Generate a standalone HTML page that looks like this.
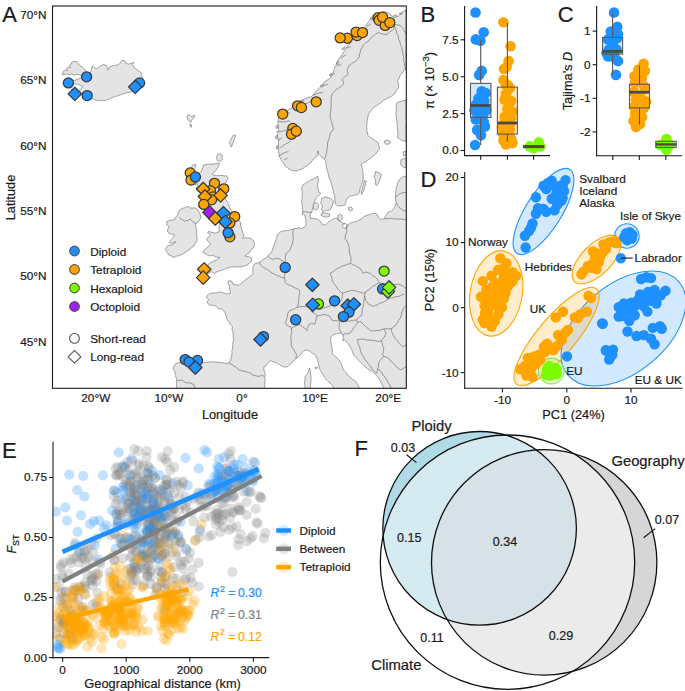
<!DOCTYPE html>
<html><head><meta charset="utf-8"><style>
html,body{margin:0;padding:0;background:#fff;width:685px;height:691px;overflow:hidden}
svg{display:block}
text{font-family:"Liberation Sans", sans-serif}
</style></head><body>
<svg width="685" height="691" viewBox="0 0 685 691">
<rect width="685" height="691" fill="#fff"/>
<clipPath id="mapclip"><rect x="52.5" y="6" width="353.8" height="382.3"/></clipPath>
<g clip-path="url(#mapclip)">
<polygon points="62.0,74.8 62.8,73.0 63.4,71.2 65.4,70.1 67.6,70.4 66.5,68.5 68.1,67.2 70.5,67.8 69.4,65.4 71.4,64.1 71.8,62.1 74.1,61.4 76.8,61.7 78.2,64.1 80.8,66.1 82.9,67.4 84.9,69.4 85.5,71.4 86.2,73.5 87.8,74.3 89.6,74.8 90.4,72.9 91.1,70.9 91.6,68.8 92.0,66.8 93.6,66.1 94.7,67.7 96.3,68.8 99.0,66.8 101.7,65.4 103.7,64.5 106.4,65.4 107.4,67.7 107.7,70.1 108.7,68.4 109.7,66.8 112.4,65.8 115.8,65.4 119.1,64.1 120.7,62.6 121.8,60.7 124.5,60.4 125.8,63.4 128.5,64.1 131.2,63.4 133.9,62.3 132.6,64.7 133.9,67.4 136.6,69.4 139.3,71.4 141.3,72.8 141.5,74.8 142.0,76.8 142.4,79.2 143.3,81.5 142.9,83.9 142.0,86.2 140.0,87.9 137.9,89.6 136.0,90.8 133.9,91.6 131.9,91.9 129.9,92.3 127.8,92.5 125.8,92.9 123.9,93.9 121.8,94.3 119.9,95.1 117.8,95.6 115.9,96.4 113.8,97.0 111.6,97.7 109.7,99.0 107.6,99.5 105.7,100.3 103.7,100.7 101.7,100.7 99.9,100.4 98.1,100.7 96.3,100.3 94.6,99.6 92.9,99.0 89.6,97.6 87.8,97.2 86.2,96.3 82.9,95.6 80.8,93.0 79.5,90.3 81.5,88.2 82.9,86.2 80.8,85.6 78.8,84.2 76.4,84.3 74.0,83.8 72.0,83.4 70.0,83.6 67.0,83.0 67.5,81.5 71.0,80.8 73.0,80.3 75.0,80.3 78.2,79.0 80.8,77.5 82.2,76.2 79.5,74.8 76.1,74.3 73.5,75.2 72.1,73.9 69.5,74.6 68.1,74.1 66.1,74.3 64.1,74.1" fill="#e4e4e4" stroke="#606060" stroke-width="0.55" stroke-linejoin="round"/>
<polygon points="187.0,116.0 189.5,114.8 191.5,116.5 194.5,115.2 194.0,118.0 191.5,120.0 190.8,122.5 189.0,121.0 187.5,119.0" fill="#e4e4e4" stroke="#606060" stroke-width="0.55" stroke-linejoin="round"/>
<polygon points="190.0,124.0 191.5,125.0 191.2,127.5 190.0,126.5" fill="#e4e4e4" stroke="#606060" stroke-width="0.55" stroke-linejoin="round"/>
<polygon points="233.5,134.8 235.8,135.5 234.6,138.0 233.7,141.0 232.5,144.0 231.5,147.2 230.4,146.0 230.2,144.1 229.3,142.5 230.5,140.0 231.8,137.5" fill="#e4e4e4" stroke="#606060" stroke-width="0.55" stroke-linejoin="round"/>
<polygon points="217.5,154.5 220.0,153.8 222.8,155.5 221.7,157.5 222.5,159.5 220.0,161.5 217.3,160.5 216.5,157.5" fill="#e4e4e4" stroke="#606060" stroke-width="0.55" stroke-linejoin="round"/>
<polygon points="193.5,164.5 196.2,164.8 195.0,167.5 193.8,168.9 193.0,170.5 190.5,171.5 190.0,169.0 191.5,167.0" fill="#e4e4e4" stroke="#606060" stroke-width="0.55" stroke-linejoin="round"/>
<polygon points="192.5,180.5 195.5,179.0 197.5,181.5 196.0,184.5 193.0,184.5 191.5,182.5" fill="#e4e4e4" stroke="#606060" stroke-width="0.55" stroke-linejoin="round"/>
<polygon points="177.5,214.8 178.4,212.3 179.6,210.0 182.3,208.3 184.2,208.0 185.8,207.0 188.4,206.5 191.0,208.3 194.5,207.8 197.2,209.1 198.9,211.8 200.2,214.4 200.7,217.9 199.8,219.6 198.9,221.4 196.3,223.2 195.4,224.9 195.7,226.7 196.3,228.4 196.7,230.6 196.7,232.8 196.6,235.0 197.2,237.2 196.8,239.5 196.7,241.8 194.9,243.8 193.7,246.2 192.1,247.1 190.9,248.5 189.4,249.6 187.9,250.6 186.2,251.9 184.4,253.0 182.6,254.2 180.6,255.0 178.8,255.7 176.9,256.0 175.2,257.0 173.3,257.2 171.2,256.0 168.9,255.0 167.4,252.9 166.0,250.6 165.6,248.6 167.4,245.9 169.6,245.3 171.8,245.0 173.4,244.0 174.7,242.7 176.1,241.5 174.0,242.5 171.8,243.3 169.1,242.4 170.9,239.8 172.2,238.5 173.5,237.2 174.4,234.5 171.8,234.0 169.1,233.7 167.4,231.0 168.0,228.7 169.1,226.7 166.5,224.9 166.9,221.4 170.0,220.1 172.2,220.2 174.4,219.6 175.2,217.8 176.6,216.5" fill="#e4e4e4" stroke="#606060" stroke-width="0.55" stroke-linejoin="round"/>
<polygon points="203.6,164.8 205.7,164.8 207.6,164.1 209.7,164.2 212.3,164.2 214.8,163.7 217.0,163.4 219.3,163.2 218.5,166.5 217.5,168.0 216.5,169.5 215.2,171.2 213.5,172.5 212.0,174.0 214.0,175.5 217.1,175.7 219.0,175.3 221.0,175.4 222.9,175.6 224.7,176.0 226.6,175.7 228.0,178.3 226.5,180.8 225.8,182.9 224.4,185.5 223.3,188.7 222.2,192.0 222.2,194.2 219.5,196.0 217.8,198.6 220.3,198.0 222.9,197.9 225.8,199.2 226.6,200.9 227.6,202.6 228.8,204.0 229.1,205.8 229.6,207.6 230.6,209.2 231.0,211.0 232.8,211.9 234.6,213.0 235.7,215.3 236.8,217.5 237.9,219.3 239.5,220.8 240.5,222.7 240.7,226.0 241.9,229.3 242.4,231.3 243.0,233.2 243.8,235.1 242.7,238.4 244.9,237.7 247.5,238.0 250.7,238.0 252.0,239.5 253.6,240.7 254.3,243.8 254.3,245.8 253.6,247.7 251.9,249.0 250.7,250.8 249.6,252.4 248.0,253.5 246.5,254.9 244.9,256.2 246.9,256.6 249.0,256.8 251.8,258.4 251.1,261.7 249.5,262.8 248.3,264.4 246.6,265.2 244.7,265.6 243.0,266.6 241.0,266.7 239.0,266.9 237.2,267.0 235.4,266.8 233.5,266.9 231.7,266.7 229.6,267.5 227.3,267.8 225.4,269.0 223.3,269.6 221.0,270.6 218.5,271.2 216.4,272.2 214.5,273.5 212.8,272.3 210.9,271.8 209.1,273.1 207.0,274.0 205.3,275.7 203.2,276.9 201.5,275.9 199.5,275.5 201.0,273.8 202.5,272.7 204.0,271.5 205.5,270.0 207.0,268.5 207.5,266.3 208.3,264.3 211.0,262.3 213.0,261.5 215.0,260.5 216.8,259.7 218.3,258.5 220.0,257.5 216.5,257.0 214.6,256.3 212.7,255.4 210.5,255.8 208.3,255.6 206.5,254.3 204.5,253.5 202.5,251.7 205.0,249.5 206.4,247.9 208.3,246.8 209.4,245.2 210.5,243.6 208.4,241.5 206.5,239.7 208.5,237.0 210.3,234.5 207.6,232.6 208.6,231.5 212.0,232.4 213.8,232.9 215.6,233.0 217.4,232.2 219.3,231.9 219.3,229.9 218.9,228.0 218.9,226.7 219.8,224.8 220.0,222.7 217.8,222.5 216.9,220.8 216.0,219.1 214.9,217.5 215.7,214.9 217.1,212.6 214.5,212.8 212.0,213.6 208.5,214.0 205.7,215.8 204.5,213.5 203.9,211.0 205.5,208.0 206.5,206.2 207.6,204.4 206.6,202.4 206.1,200.2 203.5,201.5 201.5,204.0 200.0,205.3 198.8,207.0 199.1,204.7 199.6,202.5 200.5,200.7 201.5,199.0 200.5,196.0 201.0,192.6 198.0,191.2 195.9,188.7 197.5,186.0 196.5,183.0 198.5,180.5 197.5,178.0 199.5,176.0 199.2,173.0 201.5,171.4 202.5,168.5 203.4,166.7" fill="#e4e4e4" stroke="#606060" stroke-width="0.55" stroke-linejoin="round"/>
<polygon points="406.0,10.3 403.5,11.2 402.1,12.3 401.0,13.8 398.5,16.0 395.5,16.5 392.5,16.4 390.0,14.5 388.8,13.0 387.1,12.1 385.0,11.9 383.0,11.6 381.0,12.4 378.9,13.2 376.5,15.0 374.8,16.2 373.7,17.7 372.8,19.3 370.5,19.5 368.7,21.3 367.7,22.9 366.7,24.4 365.8,26.5 364.6,28.5 362.0,28.5 360.5,30.5 358.0,31.0 356.4,32.6 354.4,34.6 352.3,36.7 351.4,38.2 350.3,39.7 350.0,41.8 349.3,43.8 348.3,45.4 347.2,46.9 345.9,48.2 345.2,49.9 343.9,51.3 343.2,53.0 342.1,54.5 341.1,56.1 339.5,58.0 338.0,60.2 336.8,62.5 336.0,65.3 334.2,68.2 333.8,70.4 333.3,72.6 332.5,74.4 331.5,76.1 330.0,78.1 328.0,79.6 325.5,81.0 323.7,83.1 322.7,84.6 321.5,86.0 319.0,88.5 317.1,90.4 315.6,91.8 314.5,93.5 313.0,94.8 311.8,96.5 309.9,97.1 308.0,97.5 304.8,99.1 302.8,100.1 301.0,101.5 299.3,102.3 297.8,103.5 295.8,104.9 294.0,106.5 292.3,107.6 290.8,108.8 288.8,109.5 287.0,110.5 285.4,111.5 283.8,112.3 281.0,114.5 279.7,115.9 278.6,117.5 278.3,120.2 277.7,122.8 278.6,126.0 278.6,127.9 278.6,129.8 277.7,133.0 277.5,134.9 277.7,136.8 278.6,140.0 278.5,141.9 278.6,143.8 278.0,147.0 278.4,148.9 278.6,150.8 278.7,153.5 279.4,156.1 280.2,157.9 281.1,159.6 282.1,161.3 283.6,162.9 284.4,164.9 285.6,166.6 287.4,167.6 289.0,169.0 290.8,170.1 293.5,170.5 296.1,171.0 297.9,170.5 299.6,169.7 301.4,169.2 303.1,168.3 304.7,167.1 306.5,166.0 308.4,164.6 310.1,163.1 311.4,161.7 312.6,160.3 313.6,158.7 315.3,157.3 317.1,156.1 317.8,153.5 318.0,150.8 318.2,152.6 318.9,154.3 320.1,155.7 321.5,157.0 324.1,158.7 325.9,161.3 325.8,163.7 326.1,166.0 326.7,168.3 327.1,170.1 327.6,171.8 328.3,173.5 328.5,175.3 328.9,177.2 329.5,179.0 330.5,180.6 331.1,182.4 331.4,184.2 331.9,185.9 332.3,187.7 332.9,189.4 333.5,191.1 333.6,192.9 334.1,194.7 334.6,196.4 334.7,198.3 335.0,200.2 335.0,202.1 335.3,204.0 337.7,206.1 341.2,205.8 344.7,205.2 345.5,203.5 345.9,201.7 346.4,198.8 348.0,197.7 349.4,196.4 351.7,196.0 354.0,195.3 357.5,194.7 359.3,192.4 359.9,189.4 360.4,187.2 361.6,185.3 362.0,183.2 362.8,181.3 363.0,179.1 363.2,177.0 363.2,174.9 362.8,172.8 362.9,170.7 362.4,168.5 361.7,166.3 361.0,164.1 362.8,162.9 364.8,162.3 366.7,161.0 368.4,159.6 370.4,158.5 371.6,157.1 373.1,156.0 374.6,154.9 376.1,153.8 377.2,151.8 378.5,149.9 379.9,148.2 379.0,146.4 378.6,144.4 378.0,142.5 376.1,141.3 374.2,140.0 372.3,138.8 370.8,137.5 369.1,136.4 367.6,135.0 367.7,133.1 366.9,131.3 367.0,129.4 366.7,127.5 366.7,125.6 366.9,123.7 366.9,121.8 367.6,120.0 367.6,118.1 368.1,116.2 368.6,114.2 369.5,112.4 371.0,110.6 372.3,108.7 374.0,107.2 376.1,106.2 378.0,104.9 379.3,103.6 380.8,102.6 382.4,101.6 383.6,100.2 385.6,99.5 387.4,98.3 389.3,97.4 391.3,96.3 393.1,94.9 394.9,93.6 395.8,91.9 396.6,90.2 397.8,88.7 398.7,87.0 398.4,84.8 398.3,82.6 397.7,80.4 398.9,78.7 399.6,76.7 400.5,74.8 401.6,73.3 403.1,72.2 403.8,70.4 405.2,69.2 406.0,69.2 405.7,67.4 406.0,65.5 406.1,63.7 405.7,61.8 406.1,60.0 406.3,58.2 405.9,56.3 406.0,54.5 405.8,52.6 405.9,50.8 406.3,49.0 405.9,47.1 406.3,45.3 406.3,43.4 406.1,41.6 405.8,39.8 406.3,37.9 406.0,36.1 405.9,34.2 405.9,32.4 406.3,30.5 406.0,28.7 405.9,26.9 406.0,25.0 405.7,23.2 406.1,21.3 406.0,19.5 405.9,17.7 406.2,15.8 406.2,14.0 405.7,12.1" fill="#e4e4e4" stroke="#606060" stroke-width="0.55" stroke-linejoin="round"/>
<polygon points="406.0,100.2 404.0,100.6 402.0,101.2 400.0,101.5 396.8,103.0 396.3,104.8 396.2,106.7 396.4,108.7 396.2,110.5 395.8,112.4 396.2,114.3 395.9,116.2 396.5,118.0 396.5,119.9 396.8,121.8 397.0,123.7 397.1,125.6 397.3,127.4 397.4,129.3 397.7,131.2 398.0,133.4 397.5,135.6 397.7,137.8 399.3,138.6 400.8,139.7 402.4,140.6 404.2,141.0 406.0,141.6 405.9,139.7 406.0,137.8 406.0,136.0 405.9,134.1 406.2,132.2 406.1,130.3 405.7,128.4 405.8,126.5 406.0,124.7 406.3,122.8 406.3,120.9 406.0,119.0 405.7,117.1 406.2,115.3 405.9,113.4 406.1,111.5 406.1,109.6 406.1,107.7 406.0,105.8 406.3,104.0 405.9,102.1" fill="#e4e4e4" stroke="#606060" stroke-width="0.55" stroke-linejoin="round"/>
<polygon points="375.5,171.5 378.5,172.5 380.0,173.4 381.5,174.5 380.8,176.2 380.5,178.0 379.9,179.8 379.0,181.5 378.1,183.6 377.0,185.5 375.0,184.0 375.5,181.8 375.5,179.5 374.6,177.9 374.2,176.0 375.1,173.8" fill="#e4e4e4" stroke="#606060" stroke-width="0.55" stroke-linejoin="round"/>
<polygon points="364.5,180.5 366.3,181.0 365.5,183.5 365.0,186.0 364.3,188.2 363.7,190.4 362.8,192.5 361.5,194.5 361.2,191.0 362.3,188.6 363.0,186.0 363.8,184.2 363.8,182.3" fill="#e4e4e4" stroke="#606060" stroke-width="0.55" stroke-linejoin="round"/>
<polygon points="401.0,160.0 404.0,158.5 406.0,158.0 406.0,160.0 406.0,162.0 406.0,164.0 406.1,166.0 406.0,168.0 403.0,167.0 401.6,165.7 400.5,164.0 400.8,162.0" fill="#e4e4e4" stroke="#606060" stroke-width="0.55" stroke-linejoin="round"/>
<polygon points="403.0,152.0 406.0,151.0 405.8,153.5 406.0,156.0 403.5,155.5" fill="#e4e4e4" stroke="#606060" stroke-width="0.55" stroke-linejoin="round"/>
<polygon points="348.3,207.5 351.5,207.0 352.8,209.5 350.5,211.0 348.5,210.0" fill="#e4e4e4" stroke="#606060" stroke-width="0.55" stroke-linejoin="round"/>
<polygon points="313.5,203.5 316.5,202.5 318.5,204.5 318.5,206.5 318.0,208.5 315.5,210.0 313.0,208.5 313.1,206.0" fill="#e4e4e4" stroke="#606060" stroke-width="0.55" stroke-linejoin="round"/>
<polygon points="321.5,198.5 323.3,197.9 325.0,196.8 328.5,197.5 331.5,199.0 333.6,201.5 332.9,203.2 332.5,205.0 331.6,206.7 331.0,208.5 329.7,210.0 328.0,211.0 325.5,210.0 323.0,212.5 322.4,210.7 321.5,209.0 322.5,206.0 321.8,204.3 320.5,203.0 321.5,200.5" fill="#e4e4e4" stroke="#606060" stroke-width="0.55" stroke-linejoin="round"/>
<polygon points="321.5,213.2 323.8,213.3 326.0,212.8 328.0,213.6 330.0,214.2 329.0,216.8 326.5,217.1 324.0,216.8 321.0,215.5" fill="#e4e4e4" stroke="#606060" stroke-width="0.55" stroke-linejoin="round"/>
<polygon points="309.7,368.3 310.4,371.2 310.5,373.8 311.0,376.4 311.1,379.1 310.9,381.7 310.6,384.0 310.3,386.2 310.4,388.5 307.9,388.4 305.5,388.5 304.9,386.3 304.7,384.0 304.5,381.7 305.1,379.1 305.1,376.4 307.3,373.8 308.7,371.0" fill="#e4e4e4" stroke="#606060" stroke-width="0.55" stroke-linejoin="round"/>
<polygon points="315.3,367.2 317.3,367.0 317.0,368.6 315.5,368.6" fill="#e4e4e4" stroke="#606060" stroke-width="0.55" stroke-linejoin="round"/>
<polygon points="317.5,176.0 315.5,177.7 313.2,178.9 311.2,179.8 309.3,180.9 307.3,181.8 305.2,183.5 302.9,184.8 302.1,186.9 301.5,189.1 302.1,191.0 302.2,193.0 302.2,195.0 302.1,196.9 302.0,198.9 301.5,200.8 302.2,203.0 302.2,205.2 302.4,207.1 302.5,209.1 302.9,211.0 302.2,214.0 305.1,215.4 305.2,217.6 305.9,219.8 305.9,222.7 305.9,225.6 304.4,227.1 301.5,228.6 298.6,227.8 296.4,228.5 294.2,228.6 292.0,229.3 289.8,230.0 287.6,230.5 285.4,230.7 283.2,231.0 281.0,231.5 279.6,232.6 278.1,233.7 277.1,235.4 276.7,237.3 276.0,239.5 275.2,241.7 274.7,244.0 273.7,246.1 272.9,248.3 272.3,250.5 271.4,252.1 270.1,253.4 267.9,255.6 266.4,257.8 263.5,259.2 261.6,260.6 259.8,262.2 257.2,263.0 254.7,263.9 253.5,265.4 252.9,267.1 252.9,269.3 252.8,271.4 252.9,273.6 251.2,275.5 249.2,277.2 247.1,278.6 245.0,280.0 243.6,281.5 241.9,282.8 240.3,284.0 239.0,285.4 236.0,284.8 233.0,284.2 231.7,281.3 228.8,280.6 227.8,282.7 228.6,284.6 229.5,286.5 229.8,290.0 230.3,291.9 230.2,293.9 226.6,293.9 224.4,293.2 221.5,292.2 219.3,291.9 217.5,292.6 215.6,292.9 213.8,293.0 212.0,293.0 209.8,293.7 208.2,294.7 206.9,295.9 206.5,297.5 208.5,299.5 206.8,302.4 208.3,303.5 209.4,305.0 211.8,305.3 214.2,305.3 216.3,306.3 218.5,308.9 221.5,308.5 222.6,310.0 224.1,311.2 225.1,312.9 226.1,316.0 226.7,318.2 227.5,320.4 229.2,322.4 230.5,324.8 232.4,326.6 231.9,329.1 232.8,331.4 233.2,333.8 233.2,336.1 233.5,338.5 233.4,340.8 232.9,342.7 232.9,344.7 232.6,346.7 232.5,348.6 231.9,350.5 231.9,352.5 232.0,354.5 231.3,356.3 231.2,358.3 229.9,361.5 229.0,362.7 226.6,363.6 223.2,362.7 220.0,362.5 217.3,362.0 215.3,362.1 213.4,361.6 211.2,362.0 209.0,362.0 205.6,362.4 203.4,362.2 201.3,362.7 199.5,360.6 198.4,359.3 196.1,360.5 194.0,362.0 191.9,361.5 190.0,360.6 188.2,359.8 186.8,358.3 184.9,357.6 183.4,358.7 182.0,360.0 180.5,361.2 179.8,362.9 177.9,362.7 175.0,364.2 173.5,367.1 173.2,369.1 175.0,371.5 175.0,373.5 175.7,375.3 175.7,377.3 176.9,378.2 176.6,380.7 176.4,383.2 176.6,385.3 176.7,387.4 176.6,389.5 178.4,389.4 180.2,389.6 182.1,389.4 183.9,389.4 185.7,389.2 187.5,389.7 189.4,389.6 191.2,389.7 193.0,389.5 194.8,389.7 196.7,389.5 198.5,389.6 200.3,389.6 202.2,389.7 204.0,389.4 205.8,389.2 207.6,389.2 209.4,389.3 211.3,389.2 213.1,389.8 214.9,389.5 216.8,389.7 218.6,389.2 220.4,389.5 222.2,389.8 224.0,389.6 225.9,389.5 227.7,389.5 229.5,389.2 231.3,389.3 233.2,389.3 235.0,389.4 236.8,389.4 238.6,389.8 240.5,389.3 242.3,389.3 244.1,389.3 245.9,389.3 247.8,389.4 249.6,389.3 251.4,389.5 253.2,389.2 255.1,389.8 256.9,389.4 258.7,389.8 260.6,389.6 262.4,389.6 264.2,389.5 264.4,387.0 264.6,384.5 265.0,381.7 265.1,379.4 264.6,377.2 265.3,375.0 264.4,371.9 263.9,369.4 263.9,366.8 265.7,365.9 267.1,364.3 268.3,362.6 270.3,360.7 273.6,362.0 275.6,362.5 277.5,363.3 279.4,364.7 281.5,365.9 283.4,366.7 285.4,367.2 288.0,366.6 289.2,365.1 290.7,364.0 291.8,362.5 293.3,361.3 294.4,359.8 295.9,358.7 298.6,356.7 299.8,355.3 301.2,354.1 302.3,352.3 303.8,350.8 306.4,349.9 308.4,350.6 310.4,351.5 312.2,353.1 314.3,354.1 315.7,356.0 317.0,358.0 317.6,359.7 317.9,361.5 318.3,363.3 318.9,365.0 319.0,366.9 319.6,368.6 320.3,370.4 321.5,372.0 322.2,373.8 323.7,375.7 324.8,377.8 326.0,379.2 327.3,380.6 328.8,381.7 330.0,383.1 331.4,384.3 332.7,385.6 333.3,387.7 334.5,389.5 336.4,389.2 338.3,389.2 340.2,389.7 342.1,389.4 344.0,389.2 345.9,389.5 347.9,389.8 349.8,389.5 351.7,389.4 353.6,389.2 355.5,389.2 357.4,389.8 359.3,389.5 359.0,388.0 358.4,385.3 357.2,383.5 356.0,381.7 354.6,380.3 352.6,379.5 351.2,378.1 349.5,376.6 347.8,375.1 346.4,373.3 345.1,371.7 343.8,370.3 342.8,368.5 342.0,366.1 341.6,363.7 340.3,361.9 339.2,360.0 337.3,358.3 335.6,356.5 333.9,355.5 332.6,354.0 332.1,352.0 332.5,350.0 332.0,348.0 331.4,346.0 331.2,344.0 330.8,342.0 330.7,339.6 330.8,337.2 333.2,334.8 336.0,333.8 338.0,333.6 339.8,333.3 341.6,333.0 342.8,334.8 343.5,337.5 342.8,341.0 344.0,339.6 346.4,342.0 348.5,344.0 350.0,346.8 351.5,349.1 352.4,351.6 353.1,353.4 353.6,355.2 355.6,356.9 357.2,358.9 359.0,360.7 360.8,362.5 362.4,364.5 364.4,366.1 366.0,367.4 367.5,368.7 369.2,369.7 370.9,370.7 372.6,371.8 374.0,373.3 375.8,375.1 377.7,376.9 378.9,378.7 380.1,380.5 381.3,382.9 382.5,385.3 383.2,387.4 383.7,389.5 385.6,389.6 387.6,389.7 389.5,389.8 391.5,389.4 393.4,389.5 395.4,389.7 397.3,389.3 399.2,389.2 401.2,389.4 403.1,389.2 405.1,389.7 407.0,389.5 407.2,387.7 406.9,385.9 406.7,384.1 406.7,382.3 406.8,380.5 406.7,378.6 407.0,376.8 407.1,375.0 406.8,373.2 406.7,371.4 407.1,369.6 406.7,367.8 406.8,366.0 406.9,364.2 406.9,362.4 406.7,360.6 406.9,358.7 406.9,356.9 407.2,355.1 407.0,353.3 407.3,351.5 407.1,349.7 407.2,347.9 407.1,346.1 407.0,344.3 407.2,342.5 407.1,340.6 407.3,338.8 407.2,337.0 407.1,335.2 406.8,333.4 407.2,331.6 406.9,329.8 406.7,328.0 406.7,326.2 406.8,324.4 406.8,322.6 407.1,320.7 406.8,318.9 406.7,317.1 407.2,315.3 407.0,313.5 406.7,311.7 406.7,309.9 406.7,308.1 406.9,306.3 407.3,304.5 407.3,302.7 407.1,300.8 406.8,299.0 407.0,297.2 406.9,295.4 406.9,293.6 406.7,291.8 407.1,290.0 407.2,288.2 407.2,286.4 406.7,284.6 407.0,282.8 406.8,280.9 407.1,279.1 407.0,277.3 407.3,275.5 407.2,273.7 406.7,271.9 406.9,270.1 407.3,268.3 407.0,266.5 407.0,264.7 407.0,262.8 407.2,261.0 407.3,259.2 407.0,257.4 407.3,255.6 407.1,253.8 406.7,252.0 407.2,250.2 406.9,248.4 406.7,246.6 407.3,244.8 406.7,242.9 407.1,241.1 407.0,239.3 407.3,237.5 406.9,235.7 406.8,233.9 406.8,232.1 406.8,230.3 407.0,228.5 406.9,226.7 407.2,224.9 406.8,223.0 406.9,221.2 406.8,219.4 407.3,217.6 407.2,215.8 407.2,214.0 407.1,212.2 406.9,210.4 406.8,208.6 407.2,206.8 407.0,204.9 406.7,203.1 406.8,201.3 406.7,199.5 407.2,197.7 407.3,195.9 406.8,194.1 407.2,192.3 406.9,190.5 407.1,188.7 407.3,186.9 407.1,185.0 407.2,183.2 406.9,181.4 406.7,179.6 407.0,177.8 407.0,176.0 404.4,176.5 401.9,177.2 400.3,179.1 398.4,180.7 397.9,182.5 397.4,184.2 397.0,186.1 396.1,187.7 396.0,189.6 395.8,191.6 395.5,193.5 395.5,195.5 395.4,197.4 395.5,199.4 396.1,202.9 395.5,205.8 393.7,208.7 391.4,211.0 389.7,211.7 387.9,212.2 386.7,214.5 385.3,216.4 384.4,218.6 380.9,219.4 378.6,217.5 377.4,214.5 375.7,213.7 373.9,213.4 371.5,213.7 369.2,214.5 366.8,215.3 364.5,216.3 362.7,217.7 361.0,219.2 358.7,220.3 356.4,221.5 354.0,221.9 351.7,222.7 349.4,223.9 347.0,225.0 344.7,223.8 342.4,222.7 340.7,221.7 338.8,221.0 337.7,218.0 334.2,218.6 332.4,219.5 330.7,220.4 328.0,222.2 326.9,223.7 325.6,224.9 323.7,224.8 321.9,224.2 320.5,221.3 318.8,220.4 317.5,219.1 315.3,218.8 313.2,218.3 310.2,218.3 310.3,216.2 310.2,214.0 311.7,212.5 312.4,209.6 313.0,207.4 313.2,205.2 314.0,203.0 314.6,200.8 315.9,198.5 317.5,196.4 319.2,195.2 320.5,193.5 319.3,192.1 318.3,190.6 318.2,188.6 317.5,186.8 317.5,184.8 318.1,182.6 318.3,180.4 318.0,178.2" fill="#e4e4e4" stroke="#606060" stroke-width="0.55" stroke-linejoin="round"/>
<polygon points="337.6,215.6 339.8,214.3 342.2,215.6 342.4,218.8 340.2,220.8 338.0,219.6 338.1,217.6" fill="#e4e4e4" stroke="#606060" stroke-width="0.55" stroke-linejoin="round"/>
<polygon points="342.8,224.2 345.8,223.6 347.6,225.2 346.8,227.8 343.8,228.2 342.6,226.4" fill="#fff" stroke="#606060" stroke-width="0.55"/>
<polyline points="278.1,121.3 279.5,121.8 281.0,121.7 282.5,122.0 284.0,121.8 285.3,121.9 286.5,121.6 287.7,121.0 289.0,121.2 290.3,121.0" fill="none" stroke="#606060" stroke-width="0.6" stroke-linejoin="round"/>
<polyline points="276.2,131.2 277.4,131.7 278.6,131.1 279.8,131.9 281.0,131.5 282.2,131.3 283.4,130.9 284.5,130.2 285.8,130.4 287.0,130.2" fill="none" stroke="#606060" stroke-width="0.6" stroke-linejoin="round"/>
<polyline points="277.6,141.0 278.6,139.8 280.0,139.0 281.2,138.3 282.3,137.3" fill="none" stroke="#606060" stroke-width="0.6" stroke-linejoin="round"/>
<polyline points="279.5,147.6 280.8,147.3 281.9,146.7 282.9,145.8 283.8,145.0 285.0,144.5 286.0,143.5 287.4,143.3 288.5,142.4 289.8,141.9 290.8,141.0" fill="none" stroke="#606060" stroke-width="0.6" stroke-linejoin="round"/>
<polyline points="278.6,156.1 279.6,155.3 281.0,155.1 281.8,153.9 283.0,153.5 284.3,152.8 285.7,152.2 287.2,152.0 288.5,151.4" fill="none" stroke="#606060" stroke-width="0.6" stroke-linejoin="round"/>
<polyline points="284.2,159.4 286.0,159.1 287.5,158.0" fill="none" stroke="#606060" stroke-width="0.6" stroke-linejoin="round"/>
<polyline points="283.5,114.0 284.7,113.5 286.1,113.7 287.4,113.7 288.7,112.9 290.0,113.0" fill="none" stroke="#606060" stroke-width="0.6" stroke-linejoin="round"/>
<polyline points="300.0,104.0 301.2,103.5 302.4,103.9 303.6,104.0 304.8,104.0 306.0,103.5 307.3,103.2 308.5,102.4 309.7,101.9 311.0,101.5" fill="none" stroke="#606060" stroke-width="0.6" stroke-linejoin="round"/>
<polyline points="313.0,95.0 314.3,94.7 315.6,94.6 316.7,93.7 318.0,93.5 319.2,92.9 320.5,92.9 321.9,92.8 323.0,92.0" fill="none" stroke="#606060" stroke-width="0.6" stroke-linejoin="round"/>
<polyline points="322.0,87.0 323.1,86.1 324.2,85.4 325.4,84.9 326.8,84.7 328.0,84.0" fill="none" stroke="#606060" stroke-width="0.6" stroke-linejoin="round"/>
<polyline points="330.0,76.0 331.3,75.5 332.4,74.5 333.6,73.8 335.0,73.5" fill="none" stroke="#606060" stroke-width="0.6" stroke-linejoin="round"/>
<polyline points="337.0,66.0 338.2,65.6 339.3,65.1 340.5,64.7 341.5,64.0" fill="none" stroke="#606060" stroke-width="0.6" stroke-linejoin="round"/>
<polyline points="341.0,58.0 342.4,57.4 343.3,56.1 344.7,55.7 346.0,55.0" fill="none" stroke="#606060" stroke-width="0.6" stroke-linejoin="round"/>
<polyline points="347.0,48.0 348.5,47.6 349.9,47.1 351.0,46.0" fill="none" stroke="#606060" stroke-width="0.6" stroke-linejoin="round"/>
<polyline points="352.0,40.0 353.3,39.3 354.8,39.3 356.0,38.5" fill="none" stroke="#606060" stroke-width="0.6" stroke-linejoin="round"/>
<polyline points="360.0,33.0 361.3,32.6 362.7,32.4 363.6,31.2 365.0,31.0" fill="none" stroke="#606060" stroke-width="0.6" stroke-linejoin="round"/>
<polyline points="367.0,26.0 368.4,25.3 369.8,24.6 371.0,23.5" fill="none" stroke="#606060" stroke-width="0.6" stroke-linejoin="round"/>
<polyline points="375.0,19.0 376.3,18.3 377.5,17.3 379.0,17.0" fill="none" stroke="#606060" stroke-width="0.6" stroke-linejoin="round"/>
<polygon points="276.0,126.0 277.5,125.0 277.8,128.0 276.3,128.5" fill="#e4e4e4" stroke="#606060" stroke-width="0.55" stroke-linejoin="round"/>
<polygon points="275.8,136.0 277.2,135.5 277.0,139.0 275.5,138.5" fill="#e4e4e4" stroke="#606060" stroke-width="0.55" stroke-linejoin="round"/>
<polygon points="276.5,146.0 278.0,145.5 277.8,149.0 276.2,148.5" fill="#e4e4e4" stroke="#606060" stroke-width="0.55" stroke-linejoin="round"/>
<polygon points="300.0,101.0 303.5,99.5 303.0,101.5" fill="#e4e4e4" stroke="#606060" stroke-width="0.55" stroke-linejoin="round"/>
<polygon points="320.0,86.0 323.5,84.5 322.5,87.0" fill="#e4e4e4" stroke="#606060" stroke-width="0.55" stroke-linejoin="round"/>
<polygon points="329.0,75.0 331.5,73.0 331.0,76.0" fill="#e4e4e4" stroke="#606060" stroke-width="0.55" stroke-linejoin="round"/>
<polygon points="336.0,63.0 338.5,61.5 338.0,64.5" fill="#e4e4e4" stroke="#606060" stroke-width="0.55" stroke-linejoin="round"/>
<polygon points="341.5,49.0 345.0,46.5 344.0,49.5" fill="#e4e4e4" stroke="#606060" stroke-width="0.55" stroke-linejoin="round"/>
<polygon points="346.0,42.0 350.0,40.0 349.0,42.5" fill="#e4e4e4" stroke="#606060" stroke-width="0.55" stroke-linejoin="round"/>
<polygon points="357.0,30.0 361.0,28.0 360.0,30.5" fill="#e4e4e4" stroke="#606060" stroke-width="0.55" stroke-linejoin="round"/>
<polygon points="370.0,18.5 374.0,16.5 373.0,19.0" fill="#e4e4e4" stroke="#606060" stroke-width="0.55" stroke-linejoin="round"/>
<polygon points="393.0,16.0 396.0,14.5 397.0,16.5 394.0,17.5" fill="#e4e4e4" stroke="#606060" stroke-width="0.55" stroke-linejoin="round"/>
<polygon points="384.0,141.2 387.5,140.2 390.5,141.5 389.5,144.0 385.5,144.2" fill="#e4e4e4" stroke="#606060" stroke-width="0.55" stroke-linejoin="round"/>
<polygon points="399.0,13.5 402.0,12.5 401.5,14.5" fill="#e4e4e4" stroke="#606060" stroke-width="0.55" stroke-linejoin="round"/>
<polyline points="394.2,24.4 394.1,26.2 393.8,27.9 393.2,29.5 391.9,30.8 390.2,31.5 388.1,33.6 386.1,34.4 384.0,34.6 382.3,33.8 380.5,33.6 378.9,32.6 377.1,33.4 375.4,34.4 373.8,35.6 372.0,36.9 370.7,38.7 369.0,40.1 367.7,41.8 366.0,42.6 364.6,43.8 363.3,45.1 362.6,46.9 361.2,48.8 360.5,51.0 360.1,52.7 359.4,54.3 359.5,56.1 358.8,57.7 357.7,59.0 356.4,60.2 355.3,61.5 353.8,62.4 352.3,63.2 350.9,64.3 349.3,65.3 348.6,67.0 347.7,68.6 347.2,70.4 347.5,72.3 348.3,74.0 347.2,75.3 345.6,76.1 344.5,77.3 343.2,78.4 342.1,79.6 343.1,81.3 343.8,83.1 343.0,84.8 341.6,86.0 339.8,87.1 338.2,88.4 336.4,89.5 335.1,90.5 334.1,91.8 332.9,93.0 331.9,94.6 331.3,96.4 331.1,98.3 331.5,100.0 330.9,101.8 330.9,103.5 331.3,105.3 331.1,107.0 331.2,108.8 330.7,110.5 330.6,112.3 330.2,114.0 330.2,115.8 330.3,117.5 331.0,119.2 331.1,121.0 331.9,122.7 332.3,124.5 332.9,126.3 333.1,128.1 333.7,129.8 331.1,131.6 330.3,133.3 329.9,135.0 329.4,136.8 329.1,138.6 328.6,140.3 327.7,142.0 327.6,143.8 327.4,145.5 327.6,147.4 327.0,149.1 326.7,150.8 326.7,152.6 326.0,154.3 325.9,156.1 325.0,158.7" fill="none" stroke="#606060" stroke-width="0.6" stroke-linejoin="round"/>
<polyline points="394.2,24.4 397.3,24.9 399.5,25.3 401.4,26.4 402.6,27.8 403.4,29.5 404.6,30.7 405.2,32.2 406.0,33.6" fill="none" stroke="#606060" stroke-width="0.6" stroke-linejoin="round"/>
<polyline points="394.2,24.4 394.4,26.4 395.4,28.1 396.0,30.0 396.6,31.6 396.6,33.3 397.9,34.7 398.1,36.4 398.5,38.0 398.7,39.7 399.9,41.1 399.8,42.9 400.6,44.4 401.0,46.0 401.8,47.5 402.0,49.1 402.2,50.8 402.7,52.4 403.0,54.0 403.2,55.6 403.8,57.2 403.9,58.8 403.4,60.5 404.0,62.0 404.4,63.8 404.6,65.6 405.3,67.3 405.2,69.2" fill="none" stroke="#606060" stroke-width="0.6" stroke-linejoin="round"/>
<polyline points="302.4,212.2 304.2,211.8 306.0,211.8 309.0,212.4 312.0,212.0" fill="none" stroke="#606060" stroke-width="0.6" stroke-linejoin="round"/>
<polyline points="294.2,228.6 293.1,230.6 292.7,232.9 292.9,235.1 293.4,237.3 293.0,239.5 292.7,241.7 292.4,244.0 291.3,246.1 290.6,248.3 289.8,250.5 287.8,251.8 286.1,253.4 285.8,255.2 285.4,257.0 285.3,258.9 285.4,260.7 284.7,263.6" fill="none" stroke="#606060" stroke-width="0.6" stroke-linejoin="round"/>
<polyline points="267.9,256.5 269.2,257.7 270.8,258.4 272.3,259.2 274.2,259.1 276.1,258.3 278.1,258.5 279.8,258.9 280.9,260.2 282.5,260.7 283.7,262.1 284.7,263.6" fill="none" stroke="#606060" stroke-width="0.6" stroke-linejoin="round"/>
<polyline points="259.8,262.2 260.6,265.1 261.9,266.3 263.4,267.3 265.0,268.0 266.3,269.3 268.0,269.8 269.4,270.9 270.6,272.2 272.1,273.0 273.7,273.8 276.4,275.0 277.7,276.0 279.5,276.2 280.8,277.2 282.6,277.8 284.5,277.9 284.9,280.1 285.2,282.3 286.4,283.6 287.9,284.6 289.6,285.2 291.2,285.7 292.5,286.6 294.0,287.2 295.4,288.1 296.9,288.8 298.4,289.4 299.8,290.3 299.4,292.0 299.7,293.7 299.1,295.4 299.1,297.4 298.6,299.3 298.3,301.3 298.4,303.3 297.9,305.2 297.6,307.1" fill="none" stroke="#606060" stroke-width="0.6" stroke-linejoin="round"/>
<polyline points="284.7,263.6 284.6,265.6 284.8,267.5 285.4,269.4 285.5,271.1 285.5,272.8 284.6,274.5 284.3,276.2 284.5,277.9" fill="none" stroke="#606060" stroke-width="0.6" stroke-linejoin="round"/>
<polyline points="297.6,307.1 295.9,307.7 294.4,308.8 292.7,309.5 291.0,310.0 289.2,311.2 288.0,313.0 287.2,314.8 287.5,316.8 286.7,318.6 286.3,320.7 285.4,322.6 286.7,325.2 288.3,326.0 289.9,326.8 291.3,327.8 291.4,329.8 292.0,331.8 291.7,333.6 290.9,335.2 290.7,337.0 291.2,338.7 291.1,340.5 291.3,342.3 291.1,344.1 291.6,345.8 292.0,347.5 293.6,349.3 294.6,351.5 295.9,353.3 296.6,355.4 296.1,357.0 295.9,358.7" fill="none" stroke="#606060" stroke-width="0.6" stroke-linejoin="round"/>
<polyline points="297.6,307.1 299.2,306.8 300.9,306.6 302.5,306.6 304.2,306.4 306.0,306.6 307.8,307.2 309.7,306.7 311.5,307.1 313.3,307.7 315.2,308.0 317.0,308.8 318.8,309.3 320.8,309.0 322.6,308.0 324.6,307.8 326.6,307.1 328.6,306.5 330.5,305.6 332.7,305.6 334.8,306.4 336.4,305.5 337.8,304.2 339.2,302.7 340.7,301.3 341.4,299.8 342.1,298.3 342.3,296.6 342.6,294.9 342.4,293.2" fill="none" stroke="#606060" stroke-width="0.6" stroke-linejoin="round"/>
<polyline points="342.4,293.2 340.9,292.3 340.0,290.9 338.8,289.7 337.3,288.4 336.4,286.7 335.3,285.1 334.2,283.6 333.0,282.2 332.4,280.4 331.9,278.7 331.8,276.9 330.9,275.2 330.1,273.4 331.9,272.3 333.8,271.4 335.3,269.9 336.7,268.9 338.3,268.2 339.8,267.4 341.2,266.4 343.3,266.0 345.2,265.2 347.0,264.0 348.8,264.1 350.5,263.4" fill="none" stroke="#606060" stroke-width="0.6" stroke-linejoin="round"/>
<polyline points="350.5,263.4 352.3,264.1 354.0,265.2 355.7,265.7 357.0,267.1 358.7,267.5 360.1,268.4 361.0,269.9 362.2,271.6 363.4,273.4 364.5,272.2 366.9,272.2 368.6,273.0 370.4,273.4 371.5,274.6 372.7,275.7 375.1,276.9 376.3,278.0 377.4,279.2 378.2,281.2 379.7,282.7" fill="none" stroke="#606060" stroke-width="0.6" stroke-linejoin="round"/>
<polyline points="342.4,293.2 344.1,292.5 345.9,292.1 347.5,291.5 349.1,291.2 350.5,290.3 352.9,290.3 355.2,290.9 356.8,291.2 358.3,291.7 359.9,292.1 361.6,292.7 363.4,293.2 365.7,292.1" fill="none" stroke="#606060" stroke-width="0.6" stroke-linejoin="round"/>
<polyline points="365.7,292.1 367.1,290.7 368.8,289.7 370.4,288.6 371.7,287.1 373.3,286.0 375.1,285.1 376.6,284.2 378.0,283.2 379.7,282.7" fill="none" stroke="#606060" stroke-width="0.6" stroke-linejoin="round"/>
<polyline points="379.7,282.7 381.2,283.5 382.9,283.3 384.4,283.9 386.0,284.1 387.5,284.9 389.1,285.1 391.4,285.3 393.7,285.1 395.2,284.5 396.9,284.6 398.4,283.9 399.9,284.8 401.6,285.3 403.1,286.2 404.5,287.5 406.0,288.6" fill="none" stroke="#606060" stroke-width="0.6" stroke-linejoin="round"/>
<polyline points="364.5,295.6 365.3,297.8 365.7,300.2 367.0,301.8 368.0,303.7 369.4,304.8 371.2,305.3 372.7,306.1 374.4,306.0 375.8,305.0 377.4,304.9 378.8,303.8 380.4,303.0 382.1,302.6 383.7,302.0 385.2,301.0 386.7,300.2 388.1,299.0 389.7,298.3 391.4,297.9 393.0,297.8 394.5,297.1 396.1,296.7 398.5,296.5 400.7,295.6 402.3,294.6 404.2,294.4" fill="none" stroke="#606060" stroke-width="0.6" stroke-linejoin="round"/>
<polyline points="365.7,292.1 365.0,293.8 364.5,295.6 364.7,297.4 363.9,299.1 363.9,300.8 363.7,302.6 363.8,304.4 363.4,306.1 362.4,308.3 362.2,310.7 362.1,312.5 361.8,314.3 361.0,316.0 359.4,317.1 358.0,318.5 356.0,320.2" fill="none" stroke="#606060" stroke-width="0.6" stroke-linejoin="round"/>
<polyline points="291.0,329.0 292.3,327.7 293.7,326.7 295.4,326.1 297.6,325.3 299.8,324.6 301.2,325.7 302.5,326.8 304.2,327.5 305.5,329.1 307.1,330.5 307.2,328.4 308.2,326.6 308.6,324.6 310.2,324.2 311.5,323.2 313.1,323.6 314.4,324.6 315.4,322.5 315.9,320.2 316.4,318.0 317.3,315.9 315.7,314.5 314.4,312.9 312.8,312.6 311.5,311.5 311.7,309.3 311.5,307.1" fill="none" stroke="#606060" stroke-width="0.6" stroke-linejoin="round"/>
<polyline points="317.3,315.9 319.3,315.4 321.3,315.3 323.2,314.4 325.1,314.9 327.1,315.1 329.0,315.9 330.2,317.2 331.1,318.6 331.9,320.2 333.8,320.9 335.9,320.5 337.8,321.0 339.8,320.9 341.7,321.3 343.6,321.7 345.5,321.1 347.5,321.2 349.4,321.0 351.1,320.9 352.7,320.7 354.3,320.1 356.0,320.2" fill="none" stroke="#606060" stroke-width="0.6" stroke-linejoin="round"/>
<polyline points="339.2,322.0 339.5,323.8 339.2,325.5 339.0,327.2 339.2,329.0 340.4,331.0 341.6,333.0" fill="none" stroke="#606060" stroke-width="0.6" stroke-linejoin="round"/>
<polyline points="342.8,334.8 344.4,334.2 346.0,333.5 347.7,333.8 349.4,333.4 350.5,332.0 352.0,331.0 352.8,329.1 354.0,327.5 355.0,326.2 356.0,325.0 357.0,323.5 358.0,322.0 356.0,320.2" fill="none" stroke="#606060" stroke-width="0.6" stroke-linejoin="round"/>
<polyline points="358.0,322.0 360.8,321.6 361.7,323.1 363.2,324.0 364.3,325.3 365.6,326.4 367.1,327.5 368.4,329.0 369.9,330.2 371.6,331.2 373.4,330.9 375.2,330.5 377.1,330.5 378.9,330.6 380.5,329.9 382.2,329.7 383.7,328.8 385.5,328.6 387.3,328.9 389.1,328.9 390.9,328.8" fill="none" stroke="#606060" stroke-width="0.6" stroke-linejoin="round"/>
<polyline points="390.9,328.8 392.5,328.2 393.4,326.6 395.0,326.0 396.2,324.8 396.9,323.2 398.0,322.0 398.4,320.3 399.6,319.1 400.5,317.6 401.0,316.0 401.6,314.1 401.7,312.1 403.0,310.4 403.1,308.4 404.5,307.2 406.0,306.1" fill="none" stroke="#606060" stroke-width="0.6" stroke-linejoin="round"/>
<polyline points="357.2,339.6 358.8,339.5 360.4,339.4 362.0,339.0 364.0,339.2 366.0,339.7 368.0,340.2 370.0,340.2 372.0,340.2 374.0,340.8 375.7,340.6 377.2,341.4 378.9,341.4 381.3,340.8 382.0,342.6 382.5,344.4 382.6,346.1 383.7,347.5 383.7,349.2 383.5,350.8 383.2,352.5 382.5,354.0 383.7,356.5 382.2,357.8 381.1,359.3 379.8,360.8 378.9,362.5 378.5,364.5 378.4,366.6 377.7,368.5 377.3,370.1 377.1,371.8 376.4,373.3" fill="none" stroke="#606060" stroke-width="0.6" stroke-linejoin="round"/>
<polyline points="357.2,339.6 358.0,341.1 357.9,342.8 358.4,344.4 359.2,346.1 359.9,347.9 360.2,349.8 360.8,351.6 361.2,353.2 361.9,354.7 363.0,356.0 364.0,357.3 364.4,358.9 365.4,360.6 367.1,361.7 368.0,363.4 369.2,364.9 370.7,366.2 371.3,368.2 372.8,369.4 374.0,370.9 375.2,372.1 376.4,373.3" fill="none" stroke="#606060" stroke-width="0.6" stroke-linejoin="round"/>
<polyline points="383.7,328.8 385.0,330.8 386.0,333.0 385.2,335.0 384.5,337.0 383.1,338.0 382.4,339.6 381.3,340.8" fill="none" stroke="#606060" stroke-width="0.6" stroke-linejoin="round"/>
<polyline points="383.7,356.5 385.9,357.0 388.0,358.0 389.3,359.3 390.4,360.9 392.0,362.0 393.4,363.3 394.6,364.8 396.0,366.0 397.1,367.6 398.8,368.6 400.0,370.0 402.1,369.3 404.0,368.0 406.0,367.0" fill="none" stroke="#606060" stroke-width="0.6" stroke-linejoin="round"/>
<polyline points="377.7,368.5 378.8,369.7 380.1,370.6 381.0,372.0 382.3,373.1 382.7,374.9 384.0,376.0 385.0,377.3 386.0,378.6 387.0,380.0 387.7,381.9 388.9,383.4 390.0,385.0 390.5,387.0 391.0,389.0" fill="none" stroke="#606060" stroke-width="0.6" stroke-linejoin="round"/>
<polyline points="390.9,328.8 391.6,330.3 391.7,332.0 392.7,333.4 393.0,335.0 394.0,336.4 394.8,337.9 395.9,339.3 397.3,340.4 398.0,342.0 399.4,343.0 400.3,344.5 401.5,345.7 402.9,346.8 404.3,345.6 406.0,345.0" fill="none" stroke="#606060" stroke-width="0.6" stroke-linejoin="round"/>
<polyline points="229.0,362.7 230.2,364.0 232.1,364.4 233.4,365.6 235.0,366.5 236.5,367.5 237.8,368.9 239.2,370.0 241.1,370.5 243.0,371.2 245.0,371.3 246.6,371.5 248.0,372.4 249.6,372.7 251.3,373.6 252.6,375.1 254.3,375.6 256.1,375.8 257.8,376.4 259.6,376.1 261.3,375.6 263.1,375.8 264.4,376.4" fill="none" stroke="#606060" stroke-width="0.6" stroke-linejoin="round"/>
<polyline points="176.9,380.2 179.2,380.4 181.5,380.2 183.5,381.0 185.2,382.4 187.1,382.9 189.1,382.8 191.0,383.2 192.5,384.0 194.0,384.6 194.6,386.8 195.4,389.0" fill="none" stroke="#606060" stroke-width="0.6" stroke-linejoin="round"/>
<polyline points="347.0,225.0 346.4,228.0 346.7,230.0 347.0,232.0 346.1,233.5 345.5,235.1 345.5,236.9 344.7,238.5 346.0,239.6 347.0,241.0 347.3,242.8 348.5,244.2 348.8,246.0 349.1,247.7 349.3,249.3 349.4,251.0 349.3,253.1 350.0,255.0 350.9,257.1 351.1,259.4 350.7,261.4 350.5,263.4" fill="none" stroke="#606060" stroke-width="0.6" stroke-linejoin="round"/>
<polyline points="384.4,218.6 386.3,218.8 388.1,218.7 390.0,218.5 391.6,218.2 393.2,219.1 394.8,218.6 396.4,219.2 398.0,219.0 399.6,219.2 401.2,219.1 402.8,219.5 404.4,219.5 406.0,219.4" fill="none" stroke="#606060" stroke-width="0.6" stroke-linejoin="round"/>
<polyline points="396.1,202.9 397.4,204.6 398.4,206.4 399.8,207.9 401.5,209.1 403.1,210.5 406.0,211.0" fill="none" stroke="#606060" stroke-width="0.6" stroke-linejoin="round"/>
<polyline points="395.5,197.0 397.0,196.0 398.3,194.7 399.6,193.5 401.2,193.5 402.7,192.6 404.4,192.7 406.0,192.4" fill="none" stroke="#606060" stroke-width="0.6" stroke-linejoin="round"/>
<polyline points="179.6,217.9 182.3,219.6 184.9,221.4 186.5,220.5 188.4,220.5 190.2,218.8 191.3,220.3 192.8,221.4 194.5,223.2 196.3,223.2" fill="none" stroke="#606060" stroke-width="0.6" stroke-linejoin="round"/>
<circle cx="86.6" cy="76.8" r="5.05" fill="#1E90FF" stroke="#3a3a3a" stroke-width="1.25"/>
<circle cx="68.4" cy="82.9" r="5.05" fill="#1E90FF" stroke="#3a3a3a" stroke-width="1.25"/>
<polygon points="74.8,87.20 81.50,93.9 74.8,100.60 68.10,93.9" fill="#1E90FF" stroke="#3a3a3a" stroke-width="1.25" stroke-linejoin="round"/>
<circle cx="87.2" cy="95.6" r="5.05" fill="#1E90FF" stroke="#3a3a3a" stroke-width="1.25"/>
<circle cx="139.6" cy="83.0" r="5.05" fill="#1E90FF" stroke="#3a3a3a" stroke-width="1.25"/>
<polygon points="135.2,80.20 141.90,86.9 135.2,93.60 128.50,86.9" fill="#1E90FF" stroke="#3a3a3a" stroke-width="1.25" stroke-linejoin="round"/>
<circle cx="347.4" cy="38.2" r="5.05" fill="#FFA500" stroke="#3a3a3a" stroke-width="1.25"/>
<circle cx="340.2" cy="37.9" r="5.05" fill="#FFA500" stroke="#3a3a3a" stroke-width="1.25"/>
<circle cx="357.1" cy="35.6" r="5.05" fill="#FFA500" stroke="#3a3a3a" stroke-width="1.25"/>
<circle cx="356.1" cy="32.1" r="5.05" fill="#FFA500" stroke="#3a3a3a" stroke-width="1.25"/>
<circle cx="362.5" cy="32.6" r="5.05" fill="#FFA500" stroke="#3a3a3a" stroke-width="1.25"/>
<circle cx="378" cy="17.8" r="5.05" fill="#FFA500" stroke="#3a3a3a" stroke-width="1.25"/>
<circle cx="379" cy="20.3" r="5.05" fill="#FFA500" stroke="#3a3a3a" stroke-width="1.25"/>
<circle cx="385.2" cy="25.4" r="5.05" fill="#FFA500" stroke="#3a3a3a" stroke-width="1.25"/>
<circle cx="382.6" cy="17.2" r="5.05" fill="#FFA500" stroke="#3a3a3a" stroke-width="1.25"/>
<circle cx="389.8" cy="22.6" r="5.05" fill="#FFA500" stroke="#3a3a3a" stroke-width="1.25"/>
<circle cx="282.7" cy="114.1" r="5.05" fill="#FFA500" stroke="#3a3a3a" stroke-width="1.25"/>
<circle cx="297.6" cy="105.8" r="5.05" fill="#FFA500" stroke="#3a3a3a" stroke-width="1.25"/>
<circle cx="301.4" cy="107.5" r="5.05" fill="#FFA500" stroke="#3a3a3a" stroke-width="1.25"/>
<circle cx="316.2" cy="101.8" r="5.05" fill="#FFA500" stroke="#3a3a3a" stroke-width="1.25"/>
<circle cx="292.8" cy="128.5" r="5.05" fill="#FFA500" stroke="#3a3a3a" stroke-width="1.25"/>
<circle cx="291.5" cy="134.2" r="5.05" fill="#FFA500" stroke="#3a3a3a" stroke-width="1.25"/>
<circle cx="296.3" cy="131.2" r="5.05" fill="#FFA500" stroke="#3a3a3a" stroke-width="1.25"/>
<circle cx="190.2" cy="172.9" r="5.05" fill="#FFA500" stroke="#3a3a3a" stroke-width="1.25"/>
<circle cx="191" cy="180.1" r="5.05" fill="#FFA500" stroke="#3a3a3a" stroke-width="1.25"/>
<circle cx="195.4" cy="176.9" r="5.05" fill="#1E90FF" stroke="#3a3a3a" stroke-width="1.25"/>
<circle cx="214.5" cy="183.3" r="5.05" fill="#FFA500" stroke="#3a3a3a" stroke-width="1.25"/>
<circle cx="223.8" cy="188.8" r="5.05" fill="#FFA500" stroke="#3a3a3a" stroke-width="1.25"/>
<circle cx="210.4" cy="190.7" r="5.05" fill="#FFA500" stroke="#3a3a3a" stroke-width="1.25"/>
<circle cx="213" cy="197" r="5.05" fill="#FFA500" stroke="#3a3a3a" stroke-width="1.25"/>
<circle cx="211.5" cy="199.8" r="5.05" fill="#FFA500" stroke="#3a3a3a" stroke-width="1.25"/>
<polygon points="203.2,182.30 209.90,189 203.2,195.70 196.50,189" fill="#FFA500" stroke="#3a3a3a" stroke-width="1.25" stroke-linejoin="round"/>
<polygon points="204.9,189.80 211.60,196.5 204.9,203.20 198.20,196.5" fill="#FFA500" stroke="#3a3a3a" stroke-width="1.25" stroke-linejoin="round"/>
<polygon points="220.6,188.70 227.30,195.4 220.6,202.10 213.90,195.4" fill="#FFA500" stroke="#3a3a3a" stroke-width="1.25" stroke-linejoin="round"/>
<circle cx="203.8" cy="204.4" r="5.05" fill="#FFA500" stroke="#3a3a3a" stroke-width="1.25"/>
<polygon points="209.5,205.80 216.20,212.5 209.5,219.20 202.80,212.5" fill="#A020F0" stroke="#3a3a3a" stroke-width="1.25" stroke-linejoin="round"/>
<polygon points="215.3,211.80 222.00,218.5 215.3,225.20 208.60,218.5" fill="#FFA500" stroke="#3a3a3a" stroke-width="1.25" stroke-linejoin="round"/>
<polygon points="223.4,206.40 230.10,213.1 223.4,219.80 216.70,213.1" fill="#1E90FF" stroke="#3a3a3a" stroke-width="1.25" stroke-linejoin="round"/>
<circle cx="234.7" cy="216.6" r="5.05" fill="#FFA500" stroke="#3a3a3a" stroke-width="1.25"/>
<circle cx="229.8" cy="222.9" r="5.05" fill="#FFA500" stroke="#3a3a3a" stroke-width="1.25"/>
<polygon points="225.4,215.10 232.10,221.8 225.4,228.50 218.70,221.8" fill="#1E90FF" stroke="#3a3a3a" stroke-width="1.25" stroke-linejoin="round"/>
<circle cx="229.8" cy="236.8" r="5.05" fill="#FFA500" stroke="#3a3a3a" stroke-width="1.25"/>
<circle cx="228.1" cy="232.8" r="5.05" fill="#1E90FF" stroke="#3a3a3a" stroke-width="1.25"/>
<polygon points="204.2,262.60 210.90,269.3 204.2,276.00 197.50,269.3" fill="#FFA500" stroke="#3a3a3a" stroke-width="1.25" stroke-linejoin="round"/>
<polygon points="203.2,270.90 209.90,277.6 203.2,284.30 196.50,277.6" fill="#FFA500" stroke="#3a3a3a" stroke-width="1.25" stroke-linejoin="round"/>
<circle cx="285.2" cy="267.4" r="5.05" fill="#1E90FF" stroke="#3a3a3a" stroke-width="1.25"/>
<polygon points="312.4,278.10 319.10,284.8 312.4,291.50 305.70,284.8" fill="#1E90FF" stroke="#3a3a3a" stroke-width="1.25" stroke-linejoin="round"/>
<circle cx="318.4" cy="303.9" r="5.05" fill="#7CFC00" stroke="#3a3a3a" stroke-width="1.25"/>
<polygon points="312.7,298.10 319.40,304.8 312.7,311.50 306.00,304.8" fill="#1E90FF" stroke="#3a3a3a" stroke-width="1.25" stroke-linejoin="round"/>
<circle cx="334.6" cy="300.8" r="5.05" fill="#1E90FF" stroke="#3a3a3a" stroke-width="1.25"/>
<circle cx="295.7" cy="319.7" r="5.05" fill="#1E90FF" stroke="#3a3a3a" stroke-width="1.25"/>
<circle cx="263.5" cy="336.6" r="5.05" fill="#1E90FF" stroke="#3a3a3a" stroke-width="1.25"/>
<polygon points="260.5,332.80 267.20,339.5 260.5,346.20 253.80,339.5" fill="#1E90FF" stroke="#3a3a3a" stroke-width="1.25" stroke-linejoin="round"/>
<polygon points="347.7,299.00 354.40,305.7 347.7,312.40 341.00,305.7" fill="#1E90FF" stroke="#3a3a3a" stroke-width="1.25" stroke-linejoin="round"/>
<polygon points="353.9,297.60 360.60,304.3 353.9,311.00 347.20,304.3" fill="#1E90FF" stroke="#3a3a3a" stroke-width="1.25" stroke-linejoin="round"/>
<circle cx="349" cy="312.2" r="5.05" fill="#1E90FF" stroke="#3a3a3a" stroke-width="1.25"/>
<circle cx="343.4" cy="316.6" r="5.05" fill="#1E90FF" stroke="#3a3a3a" stroke-width="1.25"/>
<circle cx="384.1" cy="271.1" r="5.05" fill="#7CFC00" stroke="#3a3a3a" stroke-width="1.25"/>
<circle cx="382.6" cy="288.9" r="5.05" fill="#1E90FF" stroke="#3a3a3a" stroke-width="1.25"/>
<polygon points="387.9,284.80 394.60,291.5 387.9,298.20 381.20,291.5" fill="#7CFC00" stroke="#3a3a3a" stroke-width="1.25" stroke-linejoin="round"/>
<polygon points="389.1,280.70 395.80,287.4 389.1,294.10 382.40,287.4" fill="#7CFC00" stroke="#3a3a3a" stroke-width="1.25" stroke-linejoin="round"/>
<circle cx="185.2" cy="359.6" r="5.05" fill="#1E90FF" stroke="#3a3a3a" stroke-width="1.25"/>
<circle cx="197.5" cy="360.5" r="5.05" fill="#1E90FF" stroke="#3a3a3a" stroke-width="1.25"/>
<circle cx="189.1" cy="362" r="5.05" fill="#1E90FF" stroke="#3a3a3a" stroke-width="1.25"/>
<polygon points="195.3,360.80 202.00,367.5 195.3,374.20 188.60,367.5" fill="#1E90FF" stroke="#3a3a3a" stroke-width="1.25" stroke-linejoin="round"/>
</g>
<rect x="52.5" y="6" width="353.8" height="382.3" fill="none" stroke="#1a1a1a" stroke-width="1.1"/>
<circle cx="74.5" cy="251.0" r="4.85" fill="#1E90FF" stroke="#555" stroke-width="1.1"/>
<text x="90.2" y="255.5" font-size="11.8" text-anchor="start" fill="#1a1a1a" stroke="#1a1a1a" stroke-width="0.2" >Diploid</text>
<circle cx="74.5" cy="269.5" r="4.85" fill="#FFA500" stroke="#555" stroke-width="1.1"/>
<text x="90.2" y="274.0" font-size="11.8" text-anchor="start" fill="#1a1a1a" stroke="#1a1a1a" stroke-width="0.2" >Tetraploid</text>
<circle cx="74.5" cy="288.0" r="4.85" fill="#7CFC00" stroke="#555" stroke-width="1.1"/>
<text x="90.2" y="292.5" font-size="11.8" text-anchor="start" fill="#1a1a1a" stroke="#1a1a1a" stroke-width="0.2" >Hexaploid</text>
<circle cx="74.5" cy="306.5" r="4.85" fill="#A020F0" stroke="#555" stroke-width="1.1"/>
<text x="90.2" y="311.0" font-size="11.8" text-anchor="start" fill="#1a1a1a" stroke="#1a1a1a" stroke-width="0.2" >Octoploid</text>
<circle cx="74.5" cy="338.4" r="4.85" fill="none" stroke="#555" stroke-width="1.1"/>
<text x="90.2" y="342.9" font-size="11.8" text-anchor="start" fill="#1a1a1a" stroke="#1a1a1a" stroke-width="0.2" >Short-read</text>
<polygon points="74.5,350.4 80.9,356.8 74.5,363.2 68.1,356.8" fill="none" stroke="#555" stroke-width="1.1" stroke-linejoin="round"/>
<text x="90.2" y="361.3" font-size="11.8" text-anchor="start" fill="#1a1a1a" stroke="#1a1a1a" stroke-width="0.2" >Long-read</text>
<text x="46.6" y="18.79999999999999" font-size="11.8" text-anchor="end" fill="#1a1a1a" stroke="#1a1a1a" stroke-width="0.2" >70°N</text>
<text x="46.6" y="84.2" font-size="11.8" text-anchor="end" fill="#1a1a1a" stroke="#1a1a1a" stroke-width="0.2" >65°N</text>
<text x="46.6" y="149.6" font-size="11.8" text-anchor="end" fill="#1a1a1a" stroke="#1a1a1a" stroke-width="0.2" >60°N</text>
<text x="46.6" y="215.00000000000003" font-size="11.8" text-anchor="end" fill="#1a1a1a" stroke="#1a1a1a" stroke-width="0.2" >55°N</text>
<text x="46.6" y="280.4" font-size="11.8" text-anchor="end" fill="#1a1a1a" stroke="#1a1a1a" stroke-width="0.2" >50°N</text>
<text x="46.6" y="345.8" font-size="11.8" text-anchor="end" fill="#1a1a1a" stroke="#1a1a1a" stroke-width="0.2" >45°N</text>
<text x="95.8" y="402.4" font-size="11.8" text-anchor="middle" fill="#1a1a1a" stroke="#1a1a1a" stroke-width="0.2" >20°W</text>
<text x="168.9" y="402.4" font-size="11.8" text-anchor="middle" fill="#1a1a1a" stroke="#1a1a1a" stroke-width="0.2" >10°W</text>
<text x="242.0" y="402.4" font-size="11.8" text-anchor="middle" fill="#1a1a1a" stroke="#1a1a1a" stroke-width="0.2" >0°</text>
<text x="315.09999999999997" y="402.4" font-size="11.8" text-anchor="middle" fill="#1a1a1a" stroke="#1a1a1a" stroke-width="0.2" >10°E</text>
<text x="388.2" y="402.4" font-size="11.8" text-anchor="middle" fill="#1a1a1a" stroke="#1a1a1a" stroke-width="0.2" >20°E</text>
<text x="230" y="418.5" font-size="12.8" text-anchor="middle" fill="#1a1a1a" stroke="#1a1a1a" stroke-width="0.2" >Longitude</text>
<text transform="translate(14.9,197.5) rotate(-90)" font-size="12.8" text-anchor="middle" fill="#1a1a1a" stroke="#1a1a1a" stroke-width="0.2">Latitude</text>
<text x="2.2" y="21.5" font-size="22" text-anchor="start" fill="#1a1a1a" stroke="#1a1a1a" stroke-width="0.2" >A</text>
<rect x="470.5" y="83.4" width="20.40" height="34.00" fill="#d4e9fe"/>
<circle cx="475.5" cy="12.5" r="5.3" fill="#1E90FF"/>
<circle cx="483.7" cy="32.2" r="5.3" fill="#1E90FF"/>
<circle cx="475.8" cy="39.4" r="5.3" fill="#1E90FF"/>
<circle cx="480.4" cy="40.7" r="5.3" fill="#1E90FF"/>
<circle cx="481.7" cy="70.9" r="5.3" fill="#1E90FF"/>
<circle cx="479.1" cy="74.9" r="5.3" fill="#1E90FF"/>
<circle cx="481.7" cy="91.2" r="5.3" fill="#1E90FF"/>
<circle cx="485.6" cy="93.1" r="5.3" fill="#1E90FF"/>
<circle cx="478.4" cy="98.4" r="5.3" fill="#1E90FF"/>
<circle cx="484.3" cy="101.0" r="5.3" fill="#1E90FF"/>
<circle cx="474.5" cy="110.2" r="5.3" fill="#1E90FF"/>
<circle cx="479.7" cy="111.5" r="5.3" fill="#1E90FF"/>
<circle cx="486.3" cy="110.2" r="5.3" fill="#1E90FF"/>
<circle cx="475.8" cy="119.4" r="5.3" fill="#1E90FF"/>
<circle cx="483.7" cy="122.0" r="5.3" fill="#1E90FF"/>
<circle cx="485.0" cy="126.6" r="5.3" fill="#1E90FF"/>
<circle cx="477.1" cy="129.9" r="5.3" fill="#1E90FF"/>
<circle cx="481.0" cy="135.2" r="5.3" fill="#1E90FF"/>
<circle cx="475.1" cy="145.0" r="5.3" fill="#1E90FF"/>
<circle cx="480.0" cy="104.0" r="5.3" fill="#1E90FF"/>
<circle cx="476.0" cy="104.5" r="5.3" fill="#1E90FF"/>
<circle cx="484.0" cy="106.0" r="5.3" fill="#1E90FF"/>
<circle cx="479.0" cy="116.0" r="5.3" fill="#1E90FF"/>
<circle cx="483.0" cy="115.0" r="5.3" fill="#1E90FF"/>
<line x1="480.70" y1="40.1" x2="480.70" y2="83.4" stroke="#555" stroke-width="1.1"/>
<line x1="480.70" y1="117.4" x2="480.70" y2="145" stroke="#555" stroke-width="1.1"/>
<rect x="470.5" y="83.4" width="20.40" height="34.00" fill="none" stroke="#5a5a5a" stroke-width="1.1"/>
<line x1="470.5" y1="105.5" x2="490.9" y2="105.5" stroke="#4a4a4a" stroke-width="2.8"/>
<rect x="497.4" y="87.1" width="20.00" height="47.00" fill="#fdebcc"/>
<circle cx="503.4" cy="22.3" r="5.3" fill="#FFA500"/>
<circle cx="510.6" cy="46.2" r="5.3" fill="#FFA500"/>
<circle cx="508.6" cy="61.1" r="5.3" fill="#FFA500"/>
<circle cx="506.6" cy="67.0" r="5.3" fill="#FFA500"/>
<circle cx="504.0" cy="69.0" r="5.3" fill="#FFA500"/>
<circle cx="503.4" cy="80.1" r="5.3" fill="#FFA500"/>
<circle cx="508.0" cy="85.4" r="5.3" fill="#FFA500"/>
<circle cx="506.0" cy="85.3" r="5.3" fill="#FFA500"/>
<circle cx="509.9" cy="87.9" r="5.3" fill="#FFA500"/>
<circle cx="504.7" cy="99.7" r="5.3" fill="#FFA500"/>
<circle cx="511.2" cy="101.0" r="5.3" fill="#FFA500"/>
<circle cx="507.3" cy="108.9" r="5.3" fill="#FFA500"/>
<circle cx="512.6" cy="111.5" r="5.3" fill="#FFA500"/>
<circle cx="504.7" cy="116.8" r="5.3" fill="#FFA500"/>
<circle cx="511.2" cy="118.1" r="5.3" fill="#FFA500"/>
<circle cx="502.0" cy="127.3" r="5.3" fill="#FFA500"/>
<circle cx="509.9" cy="129.9" r="5.3" fill="#FFA500"/>
<circle cx="503.4" cy="140.4" r="5.3" fill="#FFA500"/>
<circle cx="511.2" cy="139.1" r="5.3" fill="#FFA500"/>
<circle cx="506.0" cy="144.4" r="5.3" fill="#FFA500"/>
<circle cx="512.6" cy="143.1" r="5.3" fill="#FFA500"/>
<circle cx="506.0" cy="94.0" r="5.3" fill="#FFA500"/>
<circle cx="509.0" cy="104.0" r="5.3" fill="#FFA500"/>
<circle cx="505.0" cy="122.0" r="5.3" fill="#FFA500"/>
<circle cx="510.0" cy="124.0" r="5.3" fill="#FFA500"/>
<circle cx="503.0" cy="134.0" r="5.3" fill="#FFA500"/>
<circle cx="508.0" cy="136.0" r="5.3" fill="#FFA500"/>
<line x1="507.40" y1="23" x2="507.40" y2="87.1" stroke="#555" stroke-width="1.1"/>
<line x1="507.40" y1="134.1" x2="507.40" y2="141.8" stroke="#555" stroke-width="1.1"/>
<rect x="497.4" y="87.1" width="20.00" height="47.00" fill="none" stroke="#5a5a5a" stroke-width="1.1"/>
<line x1="497.4" y1="123" x2="517.4" y2="123" stroke="#4a4a4a" stroke-width="2.8"/>
<rect x="523.5" y="145.6" width="20.30" height="2.00" fill="#e4fdcc"/>
<circle cx="529.6" cy="146.4" r="5.3" fill="#7CFC00"/>
<circle cx="538.8" cy="142.4" r="5.3" fill="#7CFC00"/>
<circle cx="533.6" cy="148.3" r="5.3" fill="#7CFC00"/>
<circle cx="540.1" cy="146.4" r="5.3" fill="#7CFC00"/>
<line x1="533.65" y1="146.6" x2="533.65" y2="145.6" stroke="#555" stroke-width="1.1"/>
<line x1="533.65" y1="147.6" x2="533.65" y2="146.6" stroke="#555" stroke-width="1.1"/>
<rect x="523.5" y="145.6" width="20.30" height="2.00" fill="none" stroke="#5a5a5a" stroke-width="1.1"/>
<line x1="523.5" y1="146.6" x2="543.8" y2="146.6" stroke="#4a4a4a" stroke-width="2.8"/>
<line x1="464.6" y1="6" x2="464.6" y2="156.1" stroke="#1a1a1a" stroke-width="1.1"/>
<line x1="464.05" y1="155.6" x2="550" y2="155.6" stroke="#1a1a1a" stroke-width="1.1"/>
<line x1="460.6" y1="150.5" x2="464.6" y2="150.5" stroke="#1a1a1a" stroke-width="1.1"/>
<text x="458.6" y="154.4" font-size="11.8" text-anchor="end" fill="#1a1a1a" stroke="#1a1a1a" stroke-width="0.2" >0.0</text>
<line x1="460.6" y1="113.6" x2="464.6" y2="113.6" stroke="#1a1a1a" stroke-width="1.1"/>
<text x="458.6" y="117.5" font-size="11.8" text-anchor="end" fill="#1a1a1a" stroke="#1a1a1a" stroke-width="0.2" >2.5</text>
<line x1="460.6" y1="76.7" x2="464.6" y2="76.7" stroke="#1a1a1a" stroke-width="1.1"/>
<text x="458.6" y="80.60000000000001" font-size="11.8" text-anchor="end" fill="#1a1a1a" stroke="#1a1a1a" stroke-width="0.2" >5.0</text>
<line x1="460.6" y1="39.8" x2="464.6" y2="39.8" stroke="#1a1a1a" stroke-width="1.1"/>
<text x="458.6" y="43.699999999999996" font-size="11.8" text-anchor="end" fill="#1a1a1a" stroke="#1a1a1a" stroke-width="0.2" >7.5</text>
<line x1="480.7" y1="155.6" x2="480.7" y2="159.8" stroke="#1a1a1a" stroke-width="1.1"/>
<line x1="507.4" y1="155.6" x2="507.4" y2="159.8" stroke="#1a1a1a" stroke-width="1.1"/>
<line x1="533.6" y1="155.6" x2="533.6" y2="159.8" stroke="#1a1a1a" stroke-width="1.1"/>
<text transform="translate(434.4,80.5) rotate(-90)" font-size="12.8" text-anchor="middle" fill="#1a1a1a" stroke="#1a1a1a" stroke-width="0.2">π (× 10<tspan dy="-5.5" font-size="9.5">−3</tspan><tspan dy="5.5">)</tspan></text>
<text x="420.5" y="21.6" font-size="22" text-anchor="start" fill="#1a1a1a" stroke="#1a1a1a" stroke-width="0.2" >B</text>
<rect x="602.6" y="37.4" width="20.00" height="16.70" fill="#d4e9fe"/>
<circle cx="614.0" cy="12.5" r="5.3" fill="#1E90FF"/>
<circle cx="617.3" cy="26.9" r="5.3" fill="#1E90FF"/>
<circle cx="610.8" cy="31.5" r="5.3" fill="#1E90FF"/>
<circle cx="618.0" cy="34.2" r="5.3" fill="#1E90FF"/>
<circle cx="608.1" cy="39.4" r="5.3" fill="#1E90FF"/>
<circle cx="617.3" cy="38.1" r="5.3" fill="#1E90FF"/>
<circle cx="612.7" cy="44.5" r="5.3" fill="#1E90FF"/>
<circle cx="609.0" cy="49.5" r="5.3" fill="#1E90FF"/>
<circle cx="616.5" cy="49.5" r="5.3" fill="#1E90FF"/>
<circle cx="612.7" cy="53.0" r="5.3" fill="#1E90FF"/>
<circle cx="608.1" cy="56.5" r="5.3" fill="#1E90FF"/>
<circle cx="618.0" cy="61.1" r="5.3" fill="#1E90FF"/>
<circle cx="606.5" cy="53.0" r="5.3" fill="#1E90FF"/>
<circle cx="614.7" cy="57.8" r="5.3" fill="#1E90FF"/>
<circle cx="616.0" cy="74.9" r="5.3" fill="#1E90FF"/>
<line x1="612.60" y1="13.1" x2="612.60" y2="37.4" stroke="#555" stroke-width="1.1"/>
<line x1="612.60" y1="54.1" x2="612.60" y2="74.9" stroke="#555" stroke-width="1.1"/>
<rect x="602.6" y="37.4" width="20.00" height="16.70" fill="none" stroke="#5a5a5a" stroke-width="1.1"/>
<line x1="602.6" y1="51.4" x2="622.6" y2="51.4" stroke="#4a4a4a" stroke-width="2.8"/>
<rect x="629.5" y="84.3" width="20.00" height="23.60" fill="#fdebcc"/>
<circle cx="643.6" cy="63.7" r="5.3" fill="#FFA500"/>
<circle cx="638.4" cy="69.6" r="5.3" fill="#FFA500"/>
<circle cx="634.4" cy="76.2" r="5.3" fill="#FFA500"/>
<circle cx="644.9" cy="71.0" r="5.3" fill="#FFA500"/>
<circle cx="642.0" cy="78.0" r="5.3" fill="#FFA500"/>
<circle cx="635.0" cy="83.0" r="5.3" fill="#FFA500"/>
<circle cx="644.0" cy="86.0" r="5.3" fill="#FFA500"/>
<circle cx="634.0" cy="92.0" r="5.3" fill="#FFA500"/>
<circle cx="640.0" cy="96.0" r="5.3" fill="#FFA500"/>
<circle cx="636.0" cy="100.0" r="5.3" fill="#FFA500"/>
<circle cx="637.0" cy="104.0" r="5.3" fill="#FFA500"/>
<circle cx="634.0" cy="107.0" r="5.3" fill="#FFA500"/>
<circle cx="644.0" cy="108.0" r="5.3" fill="#FFA500"/>
<circle cx="646.0" cy="101.5" r="5.3" fill="#FFA500"/>
<circle cx="635.0" cy="114.0" r="5.3" fill="#FFA500"/>
<circle cx="642.0" cy="117.0" r="5.3" fill="#FFA500"/>
<circle cx="633.5" cy="121.0" r="5.3" fill="#FFA500"/>
<circle cx="640.0" cy="124.0" r="5.3" fill="#FFA500"/>
<circle cx="636.0" cy="127.0" r="5.3" fill="#FFA500"/>
<circle cx="645.0" cy="89.0" r="5.3" fill="#FFA500"/>
<line x1="639.50" y1="65.3" x2="639.50" y2="84.3" stroke="#555" stroke-width="1.1"/>
<line x1="639.50" y1="107.9" x2="639.50" y2="124.6" stroke="#555" stroke-width="1.1"/>
<rect x="629.5" y="84.3" width="20.00" height="23.60" fill="none" stroke="#5a5a5a" stroke-width="1.1"/>
<line x1="629.5" y1="92.2" x2="649.5" y2="92.2" stroke="#4a4a4a" stroke-width="2.8"/>
<rect x="655.8" y="141.3" width="20.40" height="6.10" fill="#e4fdcc"/>
<circle cx="666.4" cy="139.0" r="5.3" fill="#7CFC00"/>
<circle cx="660.4" cy="145.1" r="5.3" fill="#7CFC00"/>
<circle cx="666.4" cy="149.7" r="5.3" fill="#7CFC00"/>
<circle cx="670.0" cy="145.0" r="5.3" fill="#7CFC00"/>
<line x1="666.00" y1="141.3" x2="666.00" y2="141.3" stroke="#555" stroke-width="1.1"/>
<line x1="666.00" y1="147.4" x2="666.00" y2="147.4" stroke="#555" stroke-width="1.1"/>
<rect x="655.8" y="141.3" width="20.40" height="6.10" fill="none" stroke="#5a5a5a" stroke-width="1.1"/>
<line x1="655.8" y1="144.4" x2="676.2" y2="144.4" stroke="#4a4a4a" stroke-width="2.4"/>
<line x1="596.6" y1="6" x2="596.6" y2="156.3" stroke="#1a1a1a" stroke-width="1.1"/>
<line x1="596.05" y1="155.8" x2="682" y2="155.8" stroke="#1a1a1a" stroke-width="1.1"/>
<line x1="592.6" y1="31.1" x2="596.6" y2="31.1" stroke="#1a1a1a" stroke-width="1.1"/>
<text x="590.6" y="35.0" font-size="11.8" text-anchor="end" fill="#1a1a1a" stroke="#1a1a1a" stroke-width="0.2" >1</text>
<line x1="592.6" y1="64.7" x2="596.6" y2="64.7" stroke="#1a1a1a" stroke-width="1.1"/>
<text x="590.6" y="68.60000000000001" font-size="11.8" text-anchor="end" fill="#1a1a1a" stroke="#1a1a1a" stroke-width="0.2" >0</text>
<line x1="592.6" y1="98.3" x2="596.6" y2="98.3" stroke="#1a1a1a" stroke-width="1.1"/>
<text x="590.6" y="102.20000000000002" font-size="11.8" text-anchor="end" fill="#1a1a1a" stroke="#1a1a1a" stroke-width="0.2" >-1</text>
<line x1="592.6" y1="131.9" x2="596.6" y2="131.9" stroke="#1a1a1a" stroke-width="1.1"/>
<text x="590.6" y="135.8" font-size="11.8" text-anchor="end" fill="#1a1a1a" stroke="#1a1a1a" stroke-width="0.2" >-2</text>
<line x1="612.8" y1="155.8" x2="612.8" y2="160" stroke="#1a1a1a" stroke-width="1.1"/>
<line x1="639.3" y1="155.8" x2="639.3" y2="160" stroke="#1a1a1a" stroke-width="1.1"/>
<line x1="665.8" y1="155.8" x2="665.8" y2="160" stroke="#1a1a1a" stroke-width="1.1"/>
<text transform="translate(571.5,81) rotate(-90)" font-size="12.8" text-anchor="middle" fill="#1a1a1a" stroke="#1a1a1a" stroke-width="0.2">Tajima's <tspan font-style="italic">D</tspan></text>
<text x="557.8" y="21.6" font-size="22" text-anchor="start" fill="#1a1a1a" stroke="#1a1a1a" stroke-width="0.2" >C</text>
<ellipse cx="543.5" cy="211.5" rx="49.5" ry="18" transform="rotate(-58 543.5 211.5)" fill="rgba(30,144,255,0.2)" stroke="#1E90FF" stroke-width="1.1"/>
<ellipse cx="623.5" cy="328.5" rx="72.5" ry="43.9" transform="rotate(-40 623.5 328.5)" fill="rgba(30,144,255,0.2)" stroke="#1E90FF" stroke-width="1.1"/>
<ellipse cx="496.2" cy="293.5" rx="43" ry="26" transform="rotate(-80 496.2 293.5)" fill="rgba(255,165,0,0.2)" stroke="#FFA500" stroke-width="1.1"/>
<ellipse cx="596.4" cy="259.6" rx="31" ry="15" transform="rotate(-45 596.4 259.6)" fill="rgba(255,165,0,0.2)" stroke="#FFA500" stroke-width="1.1"/>
<ellipse cx="556.6" cy="336.5" rx="62.2" ry="19" transform="rotate(-50 556.6 336.5)" fill="rgba(255,165,0,0.2)" stroke="#FFA500" stroke-width="1.1"/>
<ellipse cx="626.9" cy="236" rx="12.2" ry="12.2" transform="rotate(0 626.9 236)" fill="rgba(30,144,255,0.2)" stroke="#1E90FF" stroke-width="1.1"/>
<ellipse cx="551.2" cy="371" rx="12.9" ry="12.9" transform="rotate(0 551.2 371)" fill="rgba(124,252,0,0.2)" stroke="#8be05a" stroke-width="1.1"/>
<circle cx="500.3" cy="258.3" r="5.2" fill="#FFA500"/>
<circle cx="506.4" cy="263.5" r="5.2" fill="#FFA500"/>
<circle cx="512.6" cy="272.3" r="5.2" fill="#FFA500"/>
<circle cx="516.1" cy="275.8" r="5.2" fill="#FFA500"/>
<circle cx="512.6" cy="281.1" r="5.2" fill="#FFA500"/>
<circle cx="491.5" cy="275.8" r="5.2" fill="#FFA500"/>
<circle cx="482.8" cy="281.1" r="5.2" fill="#FFA500"/>
<circle cx="503.8" cy="277.6" r="5.2" fill="#FFA500"/>
<circle cx="495.0" cy="282.8" r="5.2" fill="#FFA500"/>
<circle cx="510.8" cy="282.8" r="5.2" fill="#FFA500"/>
<circle cx="486.3" cy="289.8" r="5.2" fill="#FFA500"/>
<circle cx="500.3" cy="289.8" r="5.2" fill="#FFA500"/>
<circle cx="481.0" cy="296.8" r="5.2" fill="#FFA500"/>
<circle cx="491.5" cy="296.8" r="5.2" fill="#FFA500"/>
<circle cx="503.8" cy="298.6" r="5.2" fill="#FFA500"/>
<circle cx="484.5" cy="305.6" r="5.2" fill="#FFA500"/>
<circle cx="495.0" cy="305.6" r="5.2" fill="#FFA500"/>
<circle cx="488.0" cy="312.6" r="5.2" fill="#FFA500"/>
<circle cx="498.5" cy="314.3" r="5.2" fill="#FFA500"/>
<circle cx="484.5" cy="323.1" r="5.2" fill="#FFA500"/>
<circle cx="491.5" cy="326.6" r="5.2" fill="#FFA500"/>
<circle cx="482.8" cy="319.6" r="5.2" fill="#FFA500"/>
<circle cx="502.0" cy="307.3" r="5.2" fill="#FFA500"/>
<circle cx="505.5" cy="293.3" r="5.2" fill="#FFA500"/>
<circle cx="498.0" cy="270.0" r="5.2" fill="#FFA500"/>
<circle cx="504.0" cy="268.0" r="5.2" fill="#FFA500"/>
<circle cx="508.0" cy="286.0" r="5.2" fill="#FFA500"/>
<circle cx="496.0" cy="290.0" r="5.2" fill="#FFA500"/>
<circle cx="490.0" cy="304.0" r="5.2" fill="#FFA500"/>
<circle cx="489.0" cy="318.0" r="5.2" fill="#FFA500"/>
<circle cx="495.0" cy="321.0" r="5.2" fill="#FFA500"/>
<circle cx="486.0" cy="300.0" r="5.2" fill="#FFA500"/>
<circle cx="498.0" cy="300.0" r="5.2" fill="#FFA500"/>
<circle cx="485.0" cy="313.0" r="5.2" fill="#FFA500"/>
<circle cx="507.0" cy="277.0" r="5.2" fill="#FFA500"/>
<circle cx="493.0" cy="286.0" r="5.2" fill="#FFA500"/>
<circle cx="501.0" cy="283.0" r="5.2" fill="#FFA500"/>
<circle cx="581.4" cy="274.3" r="5.2" fill="#FFA500"/>
<circle cx="583.7" cy="271.4" r="5.2" fill="#FFA500"/>
<circle cx="591.9" cy="267.9" r="5.2" fill="#FFA500"/>
<circle cx="596.5" cy="269.0" r="5.2" fill="#FFA500"/>
<circle cx="593.0" cy="263.2" r="5.2" fill="#FFA500"/>
<circle cx="598.9" cy="262.0" r="5.2" fill="#FFA500"/>
<circle cx="593.0" cy="251.5" r="5.2" fill="#FFA500"/>
<circle cx="597.7" cy="253.9" r="5.2" fill="#FFA500"/>
<circle cx="602.4" cy="252.7" r="5.2" fill="#FFA500"/>
<circle cx="603.5" cy="244.5" r="5.2" fill="#FFA500"/>
<circle cx="609.4" cy="242.2" r="5.2" fill="#FFA500"/>
<circle cx="614.0" cy="241.0" r="5.2" fill="#FFA500"/>
<circle cx="616.4" cy="243.4" r="5.2" fill="#FFA500"/>
<circle cx="600.0" cy="257.4" r="5.2" fill="#FFA500"/>
<circle cx="588.0" cy="266.0" r="5.2" fill="#FFA500"/>
<circle cx="606.0" cy="249.0" r="5.2" fill="#FFA500"/>
<circle cx="595.0" cy="258.0" r="5.2" fill="#FFA500"/>
<circle cx="588.5" cy="295.9" r="5.2" fill="#FFA500"/>
<circle cx="586.9" cy="311.8" r="5.2" fill="#FFA500"/>
<circle cx="580.5" cy="314.2" r="5.2" fill="#FFA500"/>
<circle cx="574.9" cy="317.4" r="5.2" fill="#FFA500"/>
<circle cx="563.0" cy="311.8" r="5.2" fill="#FFA500"/>
<circle cx="555.8" cy="317.4" r="5.2" fill="#FFA500"/>
<circle cx="565.4" cy="332.5" r="5.2" fill="#FFA500"/>
<circle cx="558.2" cy="334.9" r="5.2" fill="#FFA500"/>
<circle cx="547.1" cy="343.7" r="5.2" fill="#FFA500"/>
<circle cx="556.6" cy="346.1" r="5.2" fill="#FFA500"/>
<circle cx="553.4" cy="350.1" r="5.2" fill="#FFA500"/>
<circle cx="543.9" cy="346.9" r="5.2" fill="#FFA500"/>
<circle cx="528.0" cy="358.0" r="5.2" fill="#FFA500"/>
<circle cx="534.3" cy="356.4" r="5.2" fill="#FFA500"/>
<circle cx="524.8" cy="366.0" r="5.2" fill="#FFA500"/>
<circle cx="531.1" cy="369.2" r="5.2" fill="#FFA500"/>
<circle cx="539.1" cy="354.8" r="5.2" fill="#FFA500"/>
<circle cx="526.4" cy="375.5" r="5.2" fill="#FFA500"/>
<circle cx="532.7" cy="377.1" r="5.2" fill="#FFA500"/>
<circle cx="520.0" cy="369.2" r="5.2" fill="#FFA500"/>
<circle cx="530.0" cy="362.0" r="5.2" fill="#FFA500"/>
<circle cx="536.0" cy="364.0" r="5.2" fill="#FFA500"/>
<circle cx="525.0" cy="371.0" r="5.2" fill="#FFA500"/>
<circle cx="540.0" cy="360.0" r="5.2" fill="#FFA500"/>
<circle cx="545.0" cy="352.0" r="5.2" fill="#FFA500"/>
<circle cx="562.0" cy="340.0" r="5.2" fill="#FFA500"/>
<circle cx="568.0" cy="330.0" r="5.2" fill="#FFA500"/>
<circle cx="578.0" cy="318.0" r="5.2" fill="#FFA500"/>
<circle cx="591.0" cy="298.0" r="5.2" fill="#FFA500"/>
<circle cx="560.0" cy="337.0" r="5.2" fill="#FFA500"/>
<circle cx="525.6" cy="247.5" r="5.2" fill="#1E90FF"/>
<circle cx="524.9" cy="235.8" r="5.2" fill="#1E90FF"/>
<circle cx="531.1" cy="227.5" r="5.2" fill="#1E90FF"/>
<circle cx="532.5" cy="223.4" r="5.2" fill="#1E90FF"/>
<circle cx="535.9" cy="213.8" r="5.2" fill="#1E90FF"/>
<circle cx="538.0" cy="208.3" r="5.2" fill="#1E90FF"/>
<circle cx="535.9" cy="197.3" r="5.2" fill="#1E90FF"/>
<circle cx="543.5" cy="185.6" r="5.2" fill="#1E90FF"/>
<circle cx="551.7" cy="180.8" r="5.2" fill="#1E90FF"/>
<circle cx="546.2" cy="189.1" r="5.2" fill="#1E90FF"/>
<circle cx="565.5" cy="180.1" r="5.2" fill="#1E90FF"/>
<circle cx="562.7" cy="185.6" r="5.2" fill="#1E90FF"/>
<circle cx="564.1" cy="191.1" r="5.2" fill="#1E90FF"/>
<circle cx="560.0" cy="193.9" r="5.2" fill="#1E90FF"/>
<circle cx="551.7" cy="198.7" r="5.2" fill="#1E90FF"/>
<circle cx="561.4" cy="200.7" r="5.2" fill="#1E90FF"/>
<circle cx="557.2" cy="204.9" r="5.2" fill="#1E90FF"/>
<circle cx="554.5" cy="210.4" r="5.2" fill="#1E90FF"/>
<circle cx="546.2" cy="211.7" r="5.2" fill="#1E90FF"/>
<circle cx="543.5" cy="209.0" r="5.2" fill="#1E90FF"/>
<circle cx="560.0" cy="185.6" r="5.2" fill="#1E90FF"/>
<circle cx="555.9" cy="194.6" r="5.2" fill="#1E90FF"/>
<circle cx="562.7" cy="198.0" r="5.2" fill="#1E90FF"/>
<circle cx="529.0" cy="231.0" r="5.2" fill="#1E90FF"/>
<circle cx="548.0" cy="183.0" r="5.2" fill="#1E90FF"/>
<circle cx="556.0" cy="188.0" r="5.2" fill="#1E90FF"/>
<circle cx="626.2" cy="233.2" r="5.2" fill="#1E90FF"/>
<circle cx="629.8" cy="232.2" r="5.2" fill="#1E90FF"/>
<circle cx="632.5" cy="234.8" r="5.2" fill="#1E90FF"/>
<circle cx="631.8" cy="238.6" r="5.2" fill="#1E90FF"/>
<circle cx="627.2" cy="240.2" r="5.2" fill="#1E90FF"/>
<circle cx="624.2" cy="237.2" r="5.2" fill="#1E90FF"/>
<circle cx="628.3" cy="236.4" r="5.2" fill="#1E90FF"/>
<circle cx="630.2" cy="236.8" r="5.2" fill="#1E90FF"/>
<circle cx="620.8" cy="258.3" r="5.2" fill="#1E90FF"/>
<circle cx="567.0" cy="356.4" r="5.2" fill="#1E90FF"/>
<circle cx="602.8" cy="323.8" r="5.2" fill="#1E90FF"/>
<circle cx="606.0" cy="350.1" r="5.2" fill="#1E90FF"/>
<circle cx="612.4" cy="354.8" r="5.2" fill="#1E90FF"/>
<circle cx="609.2" cy="359.6" r="5.2" fill="#1E90FF"/>
<circle cx="618.7" cy="307.1" r="5.2" fill="#1E90FF"/>
<circle cx="618.7" cy="316.6" r="5.2" fill="#1E90FF"/>
<circle cx="646.5" cy="277.2" r="5.2" fill="#1E90FF"/>
<circle cx="651.0" cy="278.1" r="5.2" fill="#1E90FF"/>
<circle cx="641.0" cy="279.0" r="5.2" fill="#1E90FF"/>
<circle cx="654.6" cy="289.9" r="5.2" fill="#1E90FF"/>
<circle cx="665.5" cy="290.8" r="5.2" fill="#1E90FF"/>
<circle cx="660.9" cy="295.3" r="5.2" fill="#1E90FF"/>
<circle cx="640.1" cy="294.4" r="5.2" fill="#1E90FF"/>
<circle cx="645.6" cy="297.1" r="5.2" fill="#1E90FF"/>
<circle cx="651.0" cy="300.8" r="5.2" fill="#1E90FF"/>
<circle cx="623.9" cy="303.5" r="5.2" fill="#1E90FF"/>
<circle cx="631.1" cy="302.6" r="5.2" fill="#1E90FF"/>
<circle cx="620.2" cy="307.1" r="5.2" fill="#1E90FF"/>
<circle cx="629.3" cy="309.8" r="5.2" fill="#1E90FF"/>
<circle cx="634.7" cy="306.2" r="5.2" fill="#1E90FF"/>
<circle cx="643.8" cy="306.2" r="5.2" fill="#1E90FF"/>
<circle cx="647.4" cy="311.6" r="5.2" fill="#1E90FF"/>
<circle cx="656.4" cy="303.5" r="5.2" fill="#1E90FF"/>
<circle cx="622.0" cy="316.1" r="5.2" fill="#1E90FF"/>
<circle cx="629.3" cy="320.7" r="5.2" fill="#1E90FF"/>
<circle cx="634.7" cy="315.2" r="5.2" fill="#1E90FF"/>
<circle cx="602.1" cy="323.4" r="5.2" fill="#1E90FF"/>
<circle cx="627.5" cy="331.5" r="5.2" fill="#1E90FF"/>
<circle cx="636.5" cy="336.0" r="5.2" fill="#1E90FF"/>
<circle cx="643.8" cy="335.1" r="5.2" fill="#1E90FF"/>
<circle cx="651.0" cy="338.8" r="5.2" fill="#1E90FF"/>
<circle cx="654.6" cy="344.2" r="5.2" fill="#1E90FF"/>
<circle cx="652.8" cy="327.9" r="5.2" fill="#1E90FF"/>
<circle cx="661.8" cy="328.8" r="5.2" fill="#1E90FF"/>
<circle cx="660.0" cy="326.1" r="5.2" fill="#1E90FF"/>
<circle cx="605.8" cy="350.5" r="5.2" fill="#1E90FF"/>
<circle cx="613.0" cy="349.6" r="5.2" fill="#1E90FF"/>
<circle cx="610.3" cy="356.8" r="5.2" fill="#1E90FF"/>
<circle cx="638.0" cy="300.0" r="5.2" fill="#1E90FF"/>
<circle cx="625.0" cy="312.0" r="5.2" fill="#1E90FF"/>
<circle cx="648.0" cy="292.0" r="5.2" fill="#1E90FF"/>
<circle cx="657.0" cy="297.0" r="5.2" fill="#1E90FF"/>
<circle cx="547.1" cy="369.2" r="5.2" fill="#7CFC00"/>
<circle cx="555.0" cy="367.6" r="5.2" fill="#7CFC00"/>
<circle cx="550.3" cy="375.5" r="5.2" fill="#7CFC00"/>
<circle cx="556.6" cy="374.0" r="5.2" fill="#7CFC00"/>
<circle cx="546.0" cy="375.0" r="5.2" fill="#7CFC00"/>
<circle cx="552.0" cy="370.0" r="5.2" fill="#7CFC00"/>
<circle cx="549.0" cy="366.0" r="5.2" fill="#7CFC00"/>
<circle cx="557.0" cy="370.0" r="5.2" fill="#7CFC00"/>
<line x1="620.8" y1="258.1" x2="632.7" y2="258.1" stroke="#1a1a1a" stroke-width="1.1"/>
<line x1="464.7" y1="172" x2="464.7" y2="388.85" stroke="#1a1a1a" stroke-width="1.1"/>
<line x1="464.15" y1="388.3" x2="682.5" y2="388.3" stroke="#1a1a1a" stroke-width="1.1"/>
<line x1="460.7" y1="177.5" x2="464.7" y2="177.5" stroke="#1a1a1a" stroke-width="1.1"/>
<text x="458.7" y="181.42000000000004" font-size="11.8" text-anchor="end" fill="#1a1a1a" stroke="#1a1a1a" stroke-width="0.2" >20</text>
<line x1="460.7" y1="242.6" x2="464.7" y2="242.6" stroke="#1a1a1a" stroke-width="1.1"/>
<text x="458.7" y="246.46000000000004" font-size="11.8" text-anchor="end" fill="#1a1a1a" stroke="#1a1a1a" stroke-width="0.2" >10</text>
<line x1="460.7" y1="307.6" x2="464.7" y2="307.6" stroke="#1a1a1a" stroke-width="1.1"/>
<text x="458.7" y="311.5" font-size="11.8" text-anchor="end" fill="#1a1a1a" stroke="#1a1a1a" stroke-width="0.2" >0</text>
<line x1="460.7" y1="372.6" x2="464.7" y2="372.6" stroke="#1a1a1a" stroke-width="1.1"/>
<text x="458.7" y="376.53999999999996" font-size="11.8" text-anchor="end" fill="#1a1a1a" stroke="#1a1a1a" stroke-width="0.2" >-10</text>
<line x1="502.5" y1="388.3" x2="502.5" y2="392.5" stroke="#1a1a1a" stroke-width="1.1"/>
<text x="502.54999999999995" y="404.3" font-size="11.8" text-anchor="middle" fill="#1a1a1a" stroke="#1a1a1a" stroke-width="0.2" >-10</text>
<line x1="566.8" y1="388.3" x2="566.8" y2="392.5" stroke="#1a1a1a" stroke-width="1.1"/>
<text x="566.8" y="404.3" font-size="11.8" text-anchor="middle" fill="#1a1a1a" stroke="#1a1a1a" stroke-width="0.2" >0</text>
<line x1="631.0" y1="388.3" x2="631.0" y2="392.5" stroke="#1a1a1a" stroke-width="1.1"/>
<text x="631.05" y="404.3" font-size="11.8" text-anchor="middle" fill="#1a1a1a" stroke="#1a1a1a" stroke-width="0.2" >10</text>
<text x="573.6" y="418.7" font-size="12.8" text-anchor="middle" fill="#1a1a1a" stroke="#1a1a1a" stroke-width="0.2" >PC1 (24%)</text>
<text transform="translate(434.3,280) rotate(-90)" font-size="12.8" text-anchor="middle" fill="#1a1a1a" stroke="#1a1a1a" stroke-width="0.2">PC2 (15%)</text>
<text x="579.2" y="182.6" font-size="11.8" text-anchor="start" fill="#1a1a1a" stroke="#1a1a1a" stroke-width="0.2" >Svalbard</text>
<text x="579.2" y="194.9" font-size="11.8" text-anchor="start" fill="#1a1a1a" stroke="#1a1a1a" stroke-width="0.2" >Iceland</text>
<text x="579.2" y="207" font-size="11.8" text-anchor="start" fill="#1a1a1a" stroke="#1a1a1a" stroke-width="0.2" >Alaska</text>
<text x="620" y="220.1" font-size="11.8" text-anchor="start" fill="#1a1a1a" stroke="#1a1a1a" stroke-width="0.2" >Isle of Skye</text>
<text x="634.6" y="261.9" font-size="11.8" text-anchor="start" fill="#1a1a1a" stroke="#1a1a1a" stroke-width="0.2" >Labrador</text>
<text x="467.9" y="246" font-size="11.8" text-anchor="start" fill="#1a1a1a" stroke="#1a1a1a" stroke-width="0.2" >Norway</text>
<text x="524.8" y="270.9" font-size="11.8" text-anchor="start" fill="#1a1a1a" stroke="#1a1a1a" stroke-width="0.2" >Hebrides</text>
<text x="529.7" y="312.6" font-size="11.8" text-anchor="start" fill="#1a1a1a" stroke="#1a1a1a" stroke-width="0.2" >UK</text>
<text x="566.2" y="375.2" font-size="11.8" text-anchor="start" fill="#1a1a1a" stroke="#1a1a1a" stroke-width="0.2" >EU</text>
<text x="634.7" y="383.6" font-size="11.8" text-anchor="start" fill="#1a1a1a" stroke="#1a1a1a" stroke-width="0.2" >EU &amp; UK</text>
<text x="420.5" y="186.8" font-size="22" text-anchor="start" fill="#1a1a1a" stroke="#1a1a1a" stroke-width="0.2" >D</text>
<defs><clipPath id="eclip"><rect x="53.5" y="438" width="292" height="219.5"/></clipPath></defs>
<g clip-path="url(#eclip)">
<circle cx="181.0" cy="487.9" r="5.1" fill="rgba(128,128,128,0.25)"/>
<circle cx="78.5" cy="625.3" r="5.1" fill="rgba(255,165,0,0.28)"/>
<circle cx="70.4" cy="625.5" r="5.1" fill="rgba(255,165,0,0.28)"/>
<circle cx="133.8" cy="524.6" r="5.1" fill="rgba(30,144,255,0.27)"/>
<circle cx="157.1" cy="508.6" r="5.1" fill="rgba(128,128,128,0.25)"/>
<circle cx="226.5" cy="487.2" r="5.1" fill="rgba(30,144,255,0.27)"/>
<circle cx="78.3" cy="552.5" r="5.1" fill="rgba(128,128,128,0.25)"/>
<circle cx="170.2" cy="470.2" r="5.1" fill="rgba(128,128,128,0.25)"/>
<circle cx="135.3" cy="534.6" r="5.1" fill="rgba(128,128,128,0.25)"/>
<circle cx="77.9" cy="622.1" r="5.1" fill="rgba(255,165,0,0.28)"/>
<circle cx="65.8" cy="591.3" r="5.1" fill="rgba(128,128,128,0.25)"/>
<circle cx="63.7" cy="619.8" r="5.1" fill="rgba(255,165,0,0.28)"/>
<circle cx="118.1" cy="510.5" r="5.1" fill="rgba(128,128,128,0.25)"/>
<circle cx="79.9" cy="617.7" r="5.1" fill="rgba(255,165,0,0.28)"/>
<circle cx="164.2" cy="486.2" r="5.1" fill="rgba(128,128,128,0.25)"/>
<circle cx="116.7" cy="492.7" r="5.1" fill="rgba(30,144,255,0.27)"/>
<circle cx="92.6" cy="604.7" r="5.1" fill="rgba(128,128,128,0.25)"/>
<circle cx="74.9" cy="621.2" r="5.1" fill="rgba(255,165,0,0.28)"/>
<circle cx="161.0" cy="608.2" r="5.1" fill="rgba(255,165,0,0.28)"/>
<circle cx="152.8" cy="550.0" r="5.1" fill="rgba(128,128,128,0.25)"/>
<circle cx="79.7" cy="590.4" r="5.1" fill="rgba(255,165,0,0.28)"/>
<circle cx="127.6" cy="537.4" r="5.1" fill="rgba(30,144,255,0.27)"/>
<circle cx="136.5" cy="579.9" r="5.1" fill="rgba(128,128,128,0.25)"/>
<circle cx="161.2" cy="521.2" r="5.1" fill="rgba(30,144,255,0.27)"/>
<circle cx="190.7" cy="578.2" r="5.1" fill="rgba(128,128,128,0.25)"/>
<circle cx="136.2" cy="550.4" r="5.1" fill="rgba(128,128,128,0.25)"/>
<circle cx="129.0" cy="602.4" r="5.1" fill="rgba(255,165,0,0.28)"/>
<circle cx="150.8" cy="509.3" r="5.1" fill="rgba(128,128,128,0.25)"/>
<circle cx="232.2" cy="512.1" r="5.1" fill="rgba(128,128,128,0.25)"/>
<circle cx="84.8" cy="594.2" r="5.1" fill="rgba(128,128,128,0.25)"/>
<circle cx="124.9" cy="544.8" r="5.1" fill="rgba(255,165,0,0.28)"/>
<circle cx="73.9" cy="618.4" r="5.1" fill="rgba(255,165,0,0.28)"/>
<circle cx="119.1" cy="474.3" r="5.1" fill="rgba(128,128,128,0.25)"/>
<circle cx="75.4" cy="614.2" r="5.1" fill="rgba(255,165,0,0.28)"/>
<circle cx="171.9" cy="520.7" r="5.1" fill="rgba(128,128,128,0.25)"/>
<circle cx="55.7" cy="633.1" r="5.1" fill="rgba(128,128,128,0.25)"/>
<circle cx="74.6" cy="587.3" r="5.1" fill="rgba(128,128,128,0.25)"/>
<circle cx="185.4" cy="496.7" r="5.1" fill="rgba(128,128,128,0.25)"/>
<circle cx="147.3" cy="545.3" r="5.1" fill="rgba(128,128,128,0.25)"/>
<circle cx="216.0" cy="489.5" r="5.1" fill="rgba(30,144,255,0.27)"/>
<circle cx="183.2" cy="609.9" r="5.1" fill="rgba(255,165,0,0.28)"/>
<circle cx="167.1" cy="537.5" r="5.1" fill="rgba(128,128,128,0.25)"/>
<circle cx="158.1" cy="511.4" r="5.1" fill="rgba(128,128,128,0.25)"/>
<circle cx="81.1" cy="627.6" r="5.1" fill="rgba(255,165,0,0.28)"/>
<circle cx="170.7" cy="601.2" r="5.1" fill="rgba(255,165,0,0.28)"/>
<circle cx="114.5" cy="633.3" r="5.1" fill="rgba(255,165,0,0.28)"/>
<circle cx="91.0" cy="580.6" r="5.1" fill="rgba(128,128,128,0.25)"/>
<circle cx="159.7" cy="512.4" r="5.1" fill="rgba(128,128,128,0.25)"/>
<circle cx="84.1" cy="549.8" r="5.1" fill="rgba(128,128,128,0.25)"/>
<circle cx="64.4" cy="642.3" r="5.1" fill="rgba(255,165,0,0.28)"/>
<circle cx="158.2" cy="505.6" r="5.1" fill="rgba(128,128,128,0.25)"/>
<circle cx="135.3" cy="501.0" r="5.1" fill="rgba(30,144,255,0.27)"/>
<circle cx="60.0" cy="638.8" r="5.1" fill="rgba(30,144,255,0.27)"/>
<circle cx="169.8" cy="568.1" r="5.1" fill="rgba(255,165,0,0.28)"/>
<circle cx="243.1" cy="477.2" r="5.1" fill="rgba(30,144,255,0.27)"/>
<circle cx="112.2" cy="510.4" r="5.1" fill="rgba(30,144,255,0.27)"/>
<circle cx="210.8" cy="494.1" r="5.1" fill="rgba(128,128,128,0.25)"/>
<circle cx="130.5" cy="481.2" r="5.1" fill="rgba(128,128,128,0.25)"/>
<circle cx="178.0" cy="629.0" r="5.1" fill="rgba(255,165,0,0.28)"/>
<circle cx="217.0" cy="510.2" r="5.1" fill="rgba(128,128,128,0.25)"/>
<circle cx="137.1" cy="618.0" r="5.1" fill="rgba(255,165,0,0.28)"/>
<circle cx="97.4" cy="593.0" r="5.1" fill="rgba(128,128,128,0.25)"/>
<circle cx="70.0" cy="633.3" r="5.1" fill="rgba(255,165,0,0.28)"/>
<circle cx="163.1" cy="523.1" r="5.1" fill="rgba(128,128,128,0.25)"/>
<circle cx="150.6" cy="577.3" r="5.1" fill="rgba(128,128,128,0.25)"/>
<circle cx="66.6" cy="604.9" r="5.1" fill="rgba(128,128,128,0.25)"/>
<circle cx="70.4" cy="628.4" r="5.1" fill="rgba(255,165,0,0.28)"/>
<circle cx="117.8" cy="609.0" r="5.1" fill="rgba(128,128,128,0.25)"/>
<circle cx="183.0" cy="585.9" r="5.1" fill="rgba(255,165,0,0.28)"/>
<circle cx="198.3" cy="492.7" r="5.1" fill="rgba(128,128,128,0.25)"/>
<circle cx="114.3" cy="600.1" r="5.1" fill="rgba(255,165,0,0.28)"/>
<circle cx="116.2" cy="475.0" r="5.1" fill="rgba(128,128,128,0.25)"/>
<circle cx="183.9" cy="610.9" r="5.1" fill="rgba(255,165,0,0.28)"/>
<circle cx="253.1" cy="461.5" r="5.1" fill="rgba(128,128,128,0.25)"/>
<circle cx="154.3" cy="519.6" r="5.1" fill="rgba(128,128,128,0.25)"/>
<circle cx="233.6" cy="476.3" r="5.1" fill="rgba(30,144,255,0.27)"/>
<circle cx="207.0" cy="452.4" r="5.1" fill="rgba(30,144,255,0.27)"/>
<circle cx="161.1" cy="528.7" r="5.1" fill="rgba(128,128,128,0.25)"/>
<circle cx="58.9" cy="647.8" r="5.1" fill="rgba(30,144,255,0.27)"/>
<circle cx="209.4" cy="483.7" r="5.1" fill="rgba(30,144,255,0.27)"/>
<circle cx="116.9" cy="525.8" r="5.1" fill="rgba(128,128,128,0.25)"/>
<circle cx="70.2" cy="618.1" r="5.1" fill="rgba(255,165,0,0.28)"/>
<circle cx="135.3" cy="623.9" r="5.1" fill="rgba(255,165,0,0.28)"/>
<circle cx="216.8" cy="483.8" r="5.1" fill="rgba(30,144,255,0.27)"/>
<circle cx="61.2" cy="616.8" r="5.1" fill="rgba(128,128,128,0.25)"/>
<circle cx="142.9" cy="499.4" r="5.1" fill="rgba(30,144,255,0.27)"/>
<circle cx="198.8" cy="586.5" r="5.1" fill="rgba(128,128,128,0.25)"/>
<circle cx="133.6" cy="492.6" r="5.1" fill="rgba(128,128,128,0.25)"/>
<circle cx="230.8" cy="459.2" r="5.1" fill="rgba(128,128,128,0.25)"/>
<circle cx="116.3" cy="514.7" r="5.1" fill="rgba(30,144,255,0.27)"/>
<circle cx="77.8" cy="617.9" r="5.1" fill="rgba(128,128,128,0.25)"/>
<circle cx="157.2" cy="526.8" r="5.1" fill="rgba(128,128,128,0.25)"/>
<circle cx="217.9" cy="473.8" r="5.1" fill="rgba(30,144,255,0.27)"/>
<circle cx="154.6" cy="542.2" r="5.1" fill="rgba(128,128,128,0.25)"/>
<circle cx="125.7" cy="480.1" r="5.1" fill="rgba(128,128,128,0.25)"/>
<circle cx="110.7" cy="585.8" r="5.1" fill="rgba(255,165,0,0.28)"/>
<circle cx="80.7" cy="610.7" r="5.1" fill="rgba(255,165,0,0.28)"/>
<circle cx="60.0" cy="639.7" r="5.1" fill="rgba(255,165,0,0.28)"/>
<circle cx="195.5" cy="540.2" r="5.1" fill="rgba(128,128,128,0.25)"/>
<circle cx="101.3" cy="648.5" r="5.1" fill="rgba(255,165,0,0.28)"/>
<circle cx="119.1" cy="612.1" r="5.1" fill="rgba(255,165,0,0.28)"/>
<circle cx="164.1" cy="622.9" r="5.1" fill="rgba(255,165,0,0.28)"/>
<circle cx="75.3" cy="618.5" r="5.1" fill="rgba(255,165,0,0.28)"/>
<circle cx="106.7" cy="525.3" r="5.1" fill="rgba(30,144,255,0.27)"/>
<circle cx="144.6" cy="554.0" r="5.1" fill="rgba(255,165,0,0.28)"/>
<circle cx="180.6" cy="561.8" r="5.1" fill="rgba(128,128,128,0.25)"/>
<circle cx="173.7" cy="508.8" r="5.1" fill="rgba(128,128,128,0.25)"/>
<circle cx="165.1" cy="598.1" r="5.1" fill="rgba(255,165,0,0.28)"/>
<circle cx="152.7" cy="515.5" r="5.1" fill="rgba(30,144,255,0.27)"/>
<circle cx="175.6" cy="614.3" r="5.1" fill="rgba(255,165,0,0.28)"/>
<circle cx="165.7" cy="575.4" r="5.1" fill="rgba(255,165,0,0.28)"/>
<circle cx="108.3" cy="625.0" r="5.1" fill="rgba(255,165,0,0.28)"/>
<circle cx="132.0" cy="571.1" r="5.1" fill="rgba(128,128,128,0.25)"/>
<circle cx="166.0" cy="484.5" r="5.1" fill="rgba(128,128,128,0.25)"/>
<circle cx="133.6" cy="514.8" r="5.1" fill="rgba(30,144,255,0.27)"/>
<circle cx="120.6" cy="600.5" r="5.1" fill="rgba(255,165,0,0.28)"/>
<circle cx="143.0" cy="488.2" r="5.1" fill="rgba(128,128,128,0.25)"/>
<circle cx="125.3" cy="631.1" r="5.1" fill="rgba(255,165,0,0.28)"/>
<circle cx="112.4" cy="605.1" r="5.1" fill="rgba(255,165,0,0.28)"/>
<circle cx="134.7" cy="562.3" r="5.1" fill="rgba(128,128,128,0.25)"/>
<circle cx="117.1" cy="606.5" r="5.1" fill="rgba(255,165,0,0.28)"/>
<circle cx="140.4" cy="512.0" r="5.1" fill="rgba(30,144,255,0.27)"/>
<circle cx="138.4" cy="471.6" r="5.1" fill="rgba(128,128,128,0.25)"/>
<circle cx="120.8" cy="543.4" r="5.1" fill="rgba(128,128,128,0.25)"/>
<circle cx="94.7" cy="545.2" r="5.1" fill="rgba(30,144,255,0.27)"/>
<circle cx="243.9" cy="491.7" r="5.1" fill="rgba(128,128,128,0.25)"/>
<circle cx="178.7" cy="613.1" r="5.1" fill="rgba(255,165,0,0.28)"/>
<circle cx="57.9" cy="644.8" r="5.1" fill="rgba(30,144,255,0.27)"/>
<circle cx="161.8" cy="555.9" r="5.1" fill="rgba(128,128,128,0.25)"/>
<circle cx="166.3" cy="534.0" r="5.1" fill="rgba(128,128,128,0.25)"/>
<circle cx="85.2" cy="588.4" r="5.1" fill="rgba(128,128,128,0.25)"/>
<circle cx="140.9" cy="545.8" r="5.1" fill="rgba(30,144,255,0.27)"/>
<circle cx="130.0" cy="491.8" r="5.1" fill="rgba(30,144,255,0.27)"/>
<circle cx="143.3" cy="518.2" r="5.1" fill="rgba(128,128,128,0.25)"/>
<circle cx="169.0" cy="634.6" r="5.1" fill="rgba(255,165,0,0.28)"/>
<circle cx="147.4" cy="539.6" r="5.1" fill="rgba(128,128,128,0.25)"/>
<circle cx="119.1" cy="473.0" r="5.1" fill="rgba(128,128,128,0.25)"/>
<circle cx="226.3" cy="468.0" r="5.1" fill="rgba(128,128,128,0.25)"/>
<circle cx="125.5" cy="525.2" r="5.1" fill="rgba(128,128,128,0.25)"/>
<circle cx="172.0" cy="609.0" r="5.1" fill="rgba(255,165,0,0.28)"/>
<circle cx="111.0" cy="593.7" r="5.1" fill="rgba(255,165,0,0.28)"/>
<circle cx="103.9" cy="621.6" r="5.1" fill="rgba(255,165,0,0.28)"/>
<circle cx="170.3" cy="613.5" r="5.1" fill="rgba(255,165,0,0.28)"/>
<circle cx="185.9" cy="509.7" r="5.1" fill="rgba(128,128,128,0.25)"/>
<circle cx="176.0" cy="623.2" r="5.1" fill="rgba(255,165,0,0.28)"/>
<circle cx="113.8" cy="632.4" r="5.1" fill="rgba(255,165,0,0.28)"/>
<circle cx="98.0" cy="574.8" r="5.1" fill="rgba(255,165,0,0.28)"/>
<circle cx="233.8" cy="468.5" r="5.1" fill="rgba(30,144,255,0.27)"/>
<circle cx="219.1" cy="476.1" r="5.1" fill="rgba(30,144,255,0.27)"/>
<circle cx="125.6" cy="522.8" r="5.1" fill="rgba(30,144,255,0.27)"/>
<circle cx="245.7" cy="473.4" r="5.1" fill="rgba(128,128,128,0.25)"/>
<circle cx="226.5" cy="497.4" r="5.1" fill="rgba(30,144,255,0.27)"/>
<circle cx="157.8" cy="616.4" r="5.1" fill="rgba(255,165,0,0.28)"/>
<circle cx="65.4" cy="507.3" r="5.1" fill="rgba(30,144,255,0.27)"/>
<circle cx="172.4" cy="530.5" r="5.1" fill="rgba(128,128,128,0.25)"/>
<circle cx="234.3" cy="464.9" r="5.1" fill="rgba(30,144,255,0.27)"/>
<circle cx="143.0" cy="555.8" r="5.1" fill="rgba(255,165,0,0.28)"/>
<circle cx="230.9" cy="451.0" r="5.1" fill="rgba(128,128,128,0.25)"/>
<circle cx="126.4" cy="487.4" r="5.1" fill="rgba(128,128,128,0.25)"/>
<circle cx="154.5" cy="510.8" r="5.1" fill="rgba(30,144,255,0.27)"/>
<circle cx="152.2" cy="558.4" r="5.1" fill="rgba(128,128,128,0.25)"/>
<circle cx="166.7" cy="558.3" r="5.1" fill="rgba(128,128,128,0.25)"/>
<circle cx="131.4" cy="539.5" r="5.1" fill="rgba(128,128,128,0.25)"/>
<circle cx="176.0" cy="586.4" r="5.1" fill="rgba(128,128,128,0.25)"/>
<circle cx="247.1" cy="491.4" r="5.1" fill="rgba(30,144,255,0.27)"/>
<circle cx="96.9" cy="538.4" r="5.1" fill="rgba(128,128,128,0.25)"/>
<circle cx="120.3" cy="618.2" r="5.1" fill="rgba(255,165,0,0.28)"/>
<circle cx="74.2" cy="619.8" r="5.1" fill="rgba(255,165,0,0.28)"/>
<circle cx="165.8" cy="517.2" r="5.1" fill="rgba(128,128,128,0.25)"/>
<circle cx="155.0" cy="507.6" r="5.1" fill="rgba(30,144,255,0.27)"/>
<circle cx="133.8" cy="580.1" r="5.1" fill="rgba(128,128,128,0.25)"/>
<circle cx="238.9" cy="507.1" r="5.1" fill="rgba(128,128,128,0.25)"/>
<circle cx="218.6" cy="489.5" r="5.1" fill="rgba(30,144,255,0.27)"/>
<circle cx="138.0" cy="507.0" r="5.1" fill="rgba(128,128,128,0.25)"/>
<circle cx="142.1" cy="500.1" r="5.1" fill="rgba(128,128,128,0.25)"/>
<circle cx="173.9" cy="508.5" r="5.1" fill="rgba(128,128,128,0.25)"/>
<circle cx="170.8" cy="617.0" r="5.1" fill="rgba(255,165,0,0.28)"/>
<circle cx="127.8" cy="461.9" r="5.1" fill="rgba(128,128,128,0.25)"/>
<circle cx="230.5" cy="487.4" r="5.1" fill="rgba(128,128,128,0.25)"/>
<circle cx="213.9" cy="492.6" r="5.1" fill="rgba(128,128,128,0.25)"/>
<circle cx="141.8" cy="555.6" r="5.1" fill="rgba(255,165,0,0.28)"/>
<circle cx="96.4" cy="581.3" r="5.1" fill="rgba(128,128,128,0.25)"/>
<circle cx="159.4" cy="593.5" r="5.1" fill="rgba(255,165,0,0.28)"/>
<circle cx="80.4" cy="590.6" r="5.1" fill="rgba(255,165,0,0.28)"/>
<circle cx="157.6" cy="558.1" r="5.1" fill="rgba(30,144,255,0.27)"/>
<circle cx="159.3" cy="517.5" r="5.1" fill="rgba(30,144,255,0.27)"/>
<circle cx="219.6" cy="468.0" r="5.1" fill="rgba(30,144,255,0.27)"/>
<circle cx="56.5" cy="635.3" r="5.1" fill="rgba(255,165,0,0.28)"/>
<circle cx="89.0" cy="632.9" r="5.1" fill="rgba(255,165,0,0.28)"/>
<circle cx="127.9" cy="622.3" r="5.1" fill="rgba(255,165,0,0.28)"/>
<circle cx="160.0" cy="549.9" r="5.1" fill="rgba(128,128,128,0.25)"/>
<circle cx="131.3" cy="475.8" r="5.1" fill="rgba(128,128,128,0.25)"/>
<circle cx="165.0" cy="609.1" r="5.1" fill="rgba(255,165,0,0.28)"/>
<circle cx="79.6" cy="586.7" r="5.1" fill="rgba(128,128,128,0.25)"/>
<circle cx="107.3" cy="612.5" r="5.1" fill="rgba(255,165,0,0.28)"/>
<circle cx="149.0" cy="543.1" r="5.1" fill="rgba(30,144,255,0.27)"/>
<circle cx="90.1" cy="524.1" r="5.1" fill="rgba(30,144,255,0.27)"/>
<circle cx="78.0" cy="626.7" r="5.1" fill="rgba(255,165,0,0.28)"/>
<circle cx="107.8" cy="613.2" r="5.1" fill="rgba(255,165,0,0.28)"/>
<circle cx="65.5" cy="623.3" r="5.1" fill="rgba(255,165,0,0.28)"/>
<circle cx="141.9" cy="557.2" r="5.1" fill="rgba(128,128,128,0.25)"/>
<circle cx="82.2" cy="631.3" r="5.1" fill="rgba(255,165,0,0.28)"/>
<circle cx="153.3" cy="492.9" r="5.1" fill="rgba(30,144,255,0.27)"/>
<circle cx="146.9" cy="569.0" r="5.1" fill="rgba(128,128,128,0.25)"/>
<circle cx="129.9" cy="508.3" r="5.1" fill="rgba(128,128,128,0.25)"/>
<circle cx="65.8" cy="611.1" r="5.1" fill="rgba(255,165,0,0.28)"/>
<circle cx="114.1" cy="615.1" r="5.1" fill="rgba(255,165,0,0.28)"/>
<circle cx="136.1" cy="567.9" r="5.1" fill="rgba(128,128,128,0.25)"/>
<circle cx="225.3" cy="486.4" r="5.1" fill="rgba(128,128,128,0.25)"/>
<circle cx="61.2" cy="564.8" r="5.1" fill="rgba(128,128,128,0.25)"/>
<circle cx="162.3" cy="546.5" r="5.1" fill="rgba(255,165,0,0.28)"/>
<circle cx="87.5" cy="549.1" r="5.1" fill="rgba(128,128,128,0.25)"/>
<circle cx="120.5" cy="613.8" r="5.1" fill="rgba(255,165,0,0.28)"/>
<circle cx="217.2" cy="466.5" r="5.1" fill="rgba(30,144,255,0.27)"/>
<circle cx="159.8" cy="571.4" r="5.1" fill="rgba(128,128,128,0.25)"/>
<circle cx="237.6" cy="475.9" r="5.1" fill="rgba(30,144,255,0.27)"/>
<circle cx="86.8" cy="626.7" r="5.1" fill="rgba(255,165,0,0.28)"/>
<circle cx="73.7" cy="620.0" r="5.1" fill="rgba(255,165,0,0.28)"/>
<circle cx="169.8" cy="619.6" r="5.1" fill="rgba(255,165,0,0.28)"/>
<circle cx="164.2" cy="609.7" r="5.1" fill="rgba(128,128,128,0.25)"/>
<circle cx="114.5" cy="584.5" r="5.1" fill="rgba(128,128,128,0.25)"/>
<circle cx="119.4" cy="575.0" r="5.1" fill="rgba(255,165,0,0.28)"/>
<circle cx="146.3" cy="554.2" r="5.1" fill="rgba(255,165,0,0.28)"/>
<circle cx="151.9" cy="518.9" r="5.1" fill="rgba(128,128,128,0.25)"/>
<circle cx="134.4" cy="449.0" r="5.1" fill="rgba(128,128,128,0.25)"/>
<circle cx="111.4" cy="601.3" r="5.1" fill="rgba(255,165,0,0.28)"/>
<circle cx="185.3" cy="617.8" r="5.1" fill="rgba(255,165,0,0.28)"/>
<circle cx="82.6" cy="629.1" r="5.1" fill="rgba(255,165,0,0.28)"/>
<circle cx="81.7" cy="625.4" r="5.1" fill="rgba(255,165,0,0.28)"/>
<circle cx="56.2" cy="624.6" r="5.1" fill="rgba(255,165,0,0.28)"/>
<circle cx="123.0" cy="601.7" r="5.1" fill="rgba(255,165,0,0.28)"/>
<circle cx="170.5" cy="606.7" r="5.1" fill="rgba(255,165,0,0.28)"/>
<circle cx="138.8" cy="463.5" r="5.1" fill="rgba(128,128,128,0.25)"/>
<circle cx="154.7" cy="555.2" r="5.1" fill="rgba(128,128,128,0.25)"/>
<circle cx="236.3" cy="475.9" r="5.1" fill="rgba(128,128,128,0.25)"/>
<circle cx="253.9" cy="470.4" r="5.1" fill="rgba(128,128,128,0.25)"/>
<circle cx="159.0" cy="499.6" r="5.1" fill="rgba(128,128,128,0.25)"/>
<circle cx="144.3" cy="569.0" r="5.1" fill="rgba(128,128,128,0.25)"/>
<circle cx="127.6" cy="602.0" r="5.1" fill="rgba(255,165,0,0.28)"/>
<circle cx="73.9" cy="597.6" r="5.1" fill="rgba(255,165,0,0.28)"/>
<circle cx="151.9" cy="487.6" r="5.1" fill="rgba(128,128,128,0.25)"/>
<circle cx="167.5" cy="484.3" r="5.1" fill="rgba(128,128,128,0.25)"/>
<circle cx="129.6" cy="475.5" r="5.1" fill="rgba(30,144,255,0.27)"/>
<circle cx="218.3" cy="513.5" r="5.1" fill="rgba(128,128,128,0.25)"/>
<circle cx="85.0" cy="558.7" r="5.1" fill="rgba(128,128,128,0.25)"/>
<circle cx="238.7" cy="481.2" r="5.1" fill="rgba(128,128,128,0.25)"/>
<circle cx="113.8" cy="633.7" r="5.1" fill="rgba(255,165,0,0.28)"/>
<circle cx="170.9" cy="544.5" r="5.1" fill="rgba(255,165,0,0.28)"/>
<circle cx="86.6" cy="624.6" r="5.1" fill="rgba(255,165,0,0.28)"/>
<circle cx="104.1" cy="596.3" r="5.1" fill="rgba(255,165,0,0.28)"/>
<circle cx="147.4" cy="576.2" r="5.1" fill="rgba(128,128,128,0.25)"/>
<circle cx="122.7" cy="558.3" r="5.1" fill="rgba(128,128,128,0.25)"/>
<circle cx="165.9" cy="604.6" r="5.1" fill="rgba(255,165,0,0.28)"/>
<circle cx="96.0" cy="602.6" r="5.1" fill="rgba(128,128,128,0.25)"/>
<circle cx="144.8" cy="555.3" r="5.1" fill="rgba(30,144,255,0.27)"/>
<circle cx="95.5" cy="573.7" r="5.1" fill="rgba(128,128,128,0.25)"/>
<circle cx="156.9" cy="522.2" r="5.1" fill="rgba(30,144,255,0.27)"/>
<circle cx="133.5" cy="616.8" r="5.1" fill="rgba(255,165,0,0.28)"/>
<circle cx="224.8" cy="489.7" r="5.1" fill="rgba(30,144,255,0.27)"/>
<circle cx="134.2" cy="564.1" r="5.1" fill="rgba(30,144,255,0.27)"/>
<circle cx="58.9" cy="612.7" r="5.1" fill="rgba(255,165,0,0.28)"/>
<circle cx="214.7" cy="515.1" r="5.1" fill="rgba(128,128,128,0.25)"/>
<circle cx="143.3" cy="481.1" r="5.1" fill="rgba(128,128,128,0.25)"/>
<circle cx="232.4" cy="572.0" r="5.1" fill="rgba(128,128,128,0.25)"/>
<circle cx="63.7" cy="562.5" r="5.1" fill="rgba(128,128,128,0.25)"/>
<circle cx="64.5" cy="597.9" r="5.1" fill="rgba(128,128,128,0.25)"/>
<circle cx="179.2" cy="497.2" r="5.1" fill="rgba(128,128,128,0.25)"/>
<circle cx="263.9" cy="538.3" r="5.1" fill="rgba(128,128,128,0.25)"/>
<circle cx="85.6" cy="610.7" r="5.1" fill="rgba(255,165,0,0.28)"/>
<circle cx="141.1" cy="541.7" r="5.1" fill="rgba(30,144,255,0.27)"/>
<circle cx="242.6" cy="459.1" r="5.1" fill="rgba(30,144,255,0.27)"/>
<circle cx="182.3" cy="617.0" r="5.1" fill="rgba(255,165,0,0.28)"/>
<circle cx="252.5" cy="536.2" r="5.1" fill="rgba(128,128,128,0.25)"/>
<circle cx="132.9" cy="544.6" r="5.1" fill="rgba(128,128,128,0.25)"/>
<circle cx="85.2" cy="624.9" r="5.1" fill="rgba(255,165,0,0.28)"/>
<circle cx="165.3" cy="623.6" r="5.1" fill="rgba(255,165,0,0.28)"/>
<circle cx="177.4" cy="611.1" r="5.1" fill="rgba(255,165,0,0.28)"/>
<circle cx="79.9" cy="551.7" r="5.1" fill="rgba(30,144,255,0.27)"/>
<circle cx="197.2" cy="496.4" r="5.1" fill="rgba(30,144,255,0.27)"/>
<circle cx="136.2" cy="612.7" r="5.1" fill="rgba(255,165,0,0.28)"/>
<circle cx="261.3" cy="497.9" r="5.1" fill="rgba(128,128,128,0.25)"/>
<circle cx="250.6" cy="538.5" r="5.1" fill="rgba(128,128,128,0.25)"/>
<circle cx="153.7" cy="535.8" r="5.1" fill="rgba(128,128,128,0.25)"/>
<circle cx="163.3" cy="599.9" r="5.1" fill="rgba(255,165,0,0.28)"/>
<circle cx="122.4" cy="467.3" r="5.1" fill="rgba(128,128,128,0.25)"/>
<circle cx="85.6" cy="595.1" r="5.1" fill="rgba(255,165,0,0.28)"/>
<circle cx="88.5" cy="557.4" r="5.1" fill="rgba(128,128,128,0.25)"/>
<circle cx="172.8" cy="483.6" r="5.1" fill="rgba(30,144,255,0.27)"/>
<circle cx="161.1" cy="625.9" r="5.1" fill="rgba(255,165,0,0.28)"/>
<circle cx="164.1" cy="527.8" r="5.1" fill="rgba(128,128,128,0.25)"/>
<circle cx="65.0" cy="622.7" r="5.1" fill="rgba(128,128,128,0.25)"/>
<circle cx="184.8" cy="620.6" r="5.1" fill="rgba(255,165,0,0.28)"/>
<circle cx="245.4" cy="468.2" r="5.1" fill="rgba(30,144,255,0.27)"/>
<circle cx="185.9" cy="577.2" r="5.1" fill="rgba(128,128,128,0.25)"/>
<circle cx="96.6" cy="606.7" r="5.1" fill="rgba(128,128,128,0.25)"/>
<circle cx="134.4" cy="489.8" r="5.1" fill="rgba(128,128,128,0.25)"/>
<circle cx="161.7" cy="543.8" r="5.1" fill="rgba(128,128,128,0.25)"/>
<circle cx="89.0" cy="628.8" r="5.1" fill="rgba(255,165,0,0.28)"/>
<circle cx="234.8" cy="482.7" r="5.1" fill="rgba(30,144,255,0.27)"/>
<circle cx="114.2" cy="533.9" r="5.1" fill="rgba(128,128,128,0.25)"/>
<circle cx="137.8" cy="606.4" r="5.1" fill="rgba(255,165,0,0.28)"/>
<circle cx="71.6" cy="617.4" r="5.1" fill="rgba(255,165,0,0.28)"/>
<circle cx="117.0" cy="588.4" r="5.1" fill="rgba(128,128,128,0.25)"/>
<circle cx="116.4" cy="475.7" r="5.1" fill="rgba(128,128,128,0.25)"/>
<circle cx="117.7" cy="604.5" r="5.1" fill="rgba(255,165,0,0.28)"/>
<circle cx="239.1" cy="483.6" r="5.1" fill="rgba(128,128,128,0.25)"/>
<circle cx="113.5" cy="554.5" r="5.1" fill="rgba(255,165,0,0.28)"/>
<circle cx="164.0" cy="618.4" r="5.1" fill="rgba(255,165,0,0.28)"/>
<circle cx="160.3" cy="490.4" r="5.1" fill="rgba(128,128,128,0.25)"/>
<circle cx="165.4" cy="527.6" r="5.1" fill="rgba(128,128,128,0.25)"/>
<circle cx="114.0" cy="490.5" r="5.1" fill="rgba(30,144,255,0.27)"/>
<circle cx="102.2" cy="612.2" r="5.1" fill="rgba(255,165,0,0.28)"/>
<circle cx="260.4" cy="497.7" r="5.1" fill="rgba(128,128,128,0.25)"/>
<circle cx="224.2" cy="457.3" r="5.1" fill="rgba(30,144,255,0.27)"/>
<circle cx="74.8" cy="630.2" r="5.1" fill="rgba(255,165,0,0.28)"/>
<circle cx="166.0" cy="591.8" r="5.1" fill="rgba(255,165,0,0.28)"/>
<circle cx="255.0" cy="462.7" r="5.1" fill="rgba(30,144,255,0.27)"/>
<circle cx="154.5" cy="518.1" r="5.1" fill="rgba(128,128,128,0.25)"/>
<circle cx="147.5" cy="479.5" r="5.1" fill="rgba(128,128,128,0.25)"/>
<circle cx="136.0" cy="615.9" r="5.1" fill="rgba(255,165,0,0.28)"/>
<circle cx="145.5" cy="559.5" r="5.1" fill="rgba(255,165,0,0.28)"/>
<circle cx="69.1" cy="637.4" r="5.1" fill="rgba(255,165,0,0.28)"/>
<circle cx="149.9" cy="519.1" r="5.1" fill="rgba(128,128,128,0.25)"/>
<circle cx="124.7" cy="485.1" r="5.1" fill="rgba(128,128,128,0.25)"/>
<circle cx="165.1" cy="536.6" r="5.1" fill="rgba(128,128,128,0.25)"/>
<circle cx="78.5" cy="562.3" r="5.1" fill="rgba(128,128,128,0.25)"/>
<circle cx="123.6" cy="625.3" r="5.1" fill="rgba(255,165,0,0.28)"/>
<circle cx="216.0" cy="513.7" r="5.1" fill="rgba(128,128,128,0.25)"/>
<circle cx="155.1" cy="478.0" r="5.1" fill="rgba(128,128,128,0.25)"/>
<circle cx="122.7" cy="618.8" r="5.1" fill="rgba(255,165,0,0.28)"/>
<circle cx="72.0" cy="645.4" r="5.1" fill="rgba(255,165,0,0.28)"/>
<circle cx="131.8" cy="574.7" r="5.1" fill="rgba(128,128,128,0.25)"/>
<circle cx="65.7" cy="639.8" r="5.1" fill="rgba(255,165,0,0.28)"/>
<circle cx="103.1" cy="629.4" r="5.1" fill="rgba(255,165,0,0.28)"/>
<circle cx="72.1" cy="621.0" r="5.1" fill="rgba(255,165,0,0.28)"/>
<circle cx="170.6" cy="595.7" r="5.1" fill="rgba(255,165,0,0.28)"/>
<circle cx="138.8" cy="626.8" r="5.1" fill="rgba(255,165,0,0.28)"/>
<circle cx="99.3" cy="601.4" r="5.1" fill="rgba(255,165,0,0.28)"/>
<circle cx="179.7" cy="610.6" r="5.1" fill="rgba(255,165,0,0.28)"/>
<circle cx="72.4" cy="597.7" r="5.1" fill="rgba(128,128,128,0.25)"/>
<circle cx="128.2" cy="522.3" r="5.1" fill="rgba(30,144,255,0.27)"/>
<circle cx="229.7" cy="518.0" r="5.1" fill="rgba(128,128,128,0.25)"/>
<circle cx="122.2" cy="612.9" r="5.1" fill="rgba(255,165,0,0.28)"/>
<circle cx="259.6" cy="496.0" r="5.1" fill="rgba(128,128,128,0.25)"/>
<circle cx="144.7" cy="498.5" r="5.1" fill="rgba(128,128,128,0.25)"/>
<circle cx="125.9" cy="601.5" r="5.1" fill="rgba(255,165,0,0.28)"/>
<circle cx="187.8" cy="485.4" r="5.1" fill="rgba(30,144,255,0.27)"/>
<circle cx="182.8" cy="481.4" r="5.1" fill="rgba(128,128,128,0.25)"/>
<circle cx="171.3" cy="630.2" r="5.1" fill="rgba(255,165,0,0.28)"/>
<circle cx="121.6" cy="510.4" r="5.1" fill="rgba(128,128,128,0.25)"/>
<circle cx="227.2" cy="468.5" r="5.1" fill="rgba(128,128,128,0.25)"/>
<circle cx="140.5" cy="553.6" r="5.1" fill="rgba(128,128,128,0.25)"/>
<circle cx="180.6" cy="601.0" r="5.1" fill="rgba(255,165,0,0.28)"/>
<circle cx="242.9" cy="476.1" r="5.1" fill="rgba(30,144,255,0.27)"/>
<circle cx="146.3" cy="511.1" r="5.1" fill="rgba(128,128,128,0.25)"/>
<circle cx="152.8" cy="493.9" r="5.1" fill="rgba(128,128,128,0.25)"/>
<circle cx="147.5" cy="473.0" r="5.1" fill="rgba(128,128,128,0.25)"/>
<circle cx="114.1" cy="579.1" r="5.1" fill="rgba(255,165,0,0.28)"/>
<circle cx="114.5" cy="533.8" r="5.1" fill="rgba(128,128,128,0.25)"/>
<circle cx="172.6" cy="517.1" r="5.1" fill="rgba(128,128,128,0.25)"/>
<circle cx="71.9" cy="613.2" r="5.1" fill="rgba(255,165,0,0.28)"/>
<circle cx="216.5" cy="491.2" r="5.1" fill="rgba(30,144,255,0.27)"/>
<circle cx="113.9" cy="607.3" r="5.1" fill="rgba(255,165,0,0.28)"/>
<circle cx="108.1" cy="620.2" r="5.1" fill="rgba(255,165,0,0.28)"/>
<circle cx="116.6" cy="621.6" r="5.1" fill="rgba(255,165,0,0.28)"/>
<circle cx="136.1" cy="496.3" r="5.1" fill="rgba(128,128,128,0.25)"/>
<circle cx="142.6" cy="539.5" r="5.1" fill="rgba(128,128,128,0.25)"/>
<circle cx="70.6" cy="635.1" r="5.1" fill="rgba(255,165,0,0.28)"/>
<circle cx="98.1" cy="573.7" r="5.1" fill="rgba(128,128,128,0.25)"/>
<circle cx="169.5" cy="543.4" r="5.1" fill="rgba(128,128,128,0.25)"/>
<circle cx="241.0" cy="510.5" r="5.1" fill="rgba(128,128,128,0.25)"/>
<circle cx="84.0" cy="622.6" r="5.1" fill="rgba(255,165,0,0.28)"/>
<circle cx="112.0" cy="605.9" r="5.1" fill="rgba(255,165,0,0.28)"/>
<circle cx="81.6" cy="558.3" r="5.1" fill="rgba(128,128,128,0.25)"/>
<circle cx="123.2" cy="620.1" r="5.1" fill="rgba(255,165,0,0.28)"/>
<circle cx="194.9" cy="540.9" r="5.1" fill="rgba(255,165,0,0.28)"/>
<circle cx="141.5" cy="505.3" r="5.1" fill="rgba(30,144,255,0.27)"/>
<circle cx="220.5" cy="531.9" r="5.1" fill="rgba(128,128,128,0.25)"/>
<circle cx="77.7" cy="615.5" r="5.1" fill="rgba(255,165,0,0.28)"/>
<circle cx="174.9" cy="617.9" r="5.1" fill="rgba(255,165,0,0.28)"/>
<circle cx="250.0" cy="479.3" r="5.1" fill="rgba(30,144,255,0.27)"/>
<circle cx="81.8" cy="626.9" r="5.1" fill="rgba(255,165,0,0.28)"/>
<circle cx="192.8" cy="604.5" r="5.1" fill="rgba(255,165,0,0.28)"/>
<circle cx="122.0" cy="500.1" r="5.1" fill="rgba(30,144,255,0.27)"/>
<circle cx="164.4" cy="496.8" r="5.1" fill="rgba(128,128,128,0.25)"/>
<circle cx="123.4" cy="620.1" r="5.1" fill="rgba(255,165,0,0.28)"/>
<circle cx="146.7" cy="539.7" r="5.1" fill="rgba(30,144,255,0.27)"/>
<circle cx="73.3" cy="602.8" r="5.1" fill="rgba(255,165,0,0.28)"/>
<circle cx="77.6" cy="627.6" r="5.1" fill="rgba(255,165,0,0.28)"/>
<circle cx="130.8" cy="496.3" r="5.1" fill="rgba(128,128,128,0.25)"/>
<circle cx="129.7" cy="504.3" r="5.1" fill="rgba(128,128,128,0.25)"/>
<circle cx="150.2" cy="560.1" r="5.1" fill="rgba(128,128,128,0.25)"/>
<circle cx="113.9" cy="624.7" r="5.1" fill="rgba(255,165,0,0.28)"/>
<circle cx="166.0" cy="618.6" r="5.1" fill="rgba(255,165,0,0.28)"/>
<circle cx="146.9" cy="497.8" r="5.1" fill="rgba(30,144,255,0.27)"/>
<circle cx="82.6" cy="608.0" r="5.1" fill="rgba(255,165,0,0.28)"/>
<circle cx="104.0" cy="528.3" r="5.1" fill="rgba(30,144,255,0.27)"/>
<circle cx="173.4" cy="551.6" r="5.1" fill="rgba(255,165,0,0.28)"/>
<circle cx="180.7" cy="627.4" r="5.1" fill="rgba(255,165,0,0.28)"/>
<circle cx="172.7" cy="586.3" r="5.1" fill="rgba(255,165,0,0.28)"/>
<circle cx="221.9" cy="502.8" r="5.1" fill="rgba(128,128,128,0.25)"/>
<circle cx="181.1" cy="609.1" r="5.1" fill="rgba(255,165,0,0.28)"/>
<circle cx="72.4" cy="590.6" r="5.1" fill="rgba(255,165,0,0.28)"/>
<circle cx="61.0" cy="567.4" r="5.1" fill="rgba(128,128,128,0.25)"/>
<circle cx="64.4" cy="619.5" r="5.1" fill="rgba(255,165,0,0.28)"/>
<circle cx="69.0" cy="628.2" r="5.1" fill="rgba(128,128,128,0.25)"/>
<circle cx="192.5" cy="569.3" r="5.1" fill="rgba(128,128,128,0.25)"/>
<circle cx="140.4" cy="481.6" r="5.1" fill="rgba(128,128,128,0.25)"/>
<circle cx="187.4" cy="596.4" r="5.1" fill="rgba(255,165,0,0.28)"/>
<circle cx="147.3" cy="553.2" r="5.1" fill="rgba(128,128,128,0.25)"/>
<circle cx="208.7" cy="536.5" r="5.1" fill="rgba(128,128,128,0.25)"/>
<circle cx="89.1" cy="626.9" r="5.1" fill="rgba(255,165,0,0.28)"/>
<circle cx="178.9" cy="611.7" r="5.1" fill="rgba(255,165,0,0.28)"/>
<circle cx="137.0" cy="474.3" r="5.1" fill="rgba(128,128,128,0.25)"/>
<circle cx="69.3" cy="474.7" r="5.1" fill="rgba(30,144,255,0.27)"/>
<circle cx="166.8" cy="479.3" r="5.1" fill="rgba(128,128,128,0.25)"/>
<circle cx="142.5" cy="554.8" r="5.1" fill="rgba(30,144,255,0.27)"/>
<circle cx="224.1" cy="497.8" r="5.1" fill="rgba(128,128,128,0.25)"/>
<circle cx="83.6" cy="635.6" r="5.1" fill="rgba(255,165,0,0.28)"/>
<circle cx="152.9" cy="524.6" r="5.1" fill="rgba(128,128,128,0.25)"/>
<circle cx="199.1" cy="537.7" r="5.1" fill="rgba(128,128,128,0.25)"/>
<circle cx="162.6" cy="631.2" r="5.1" fill="rgba(255,165,0,0.28)"/>
<circle cx="110.4" cy="618.5" r="5.1" fill="rgba(255,165,0,0.28)"/>
<circle cx="145.7" cy="516.7" r="5.1" fill="rgba(128,128,128,0.25)"/>
<circle cx="70.3" cy="634.4" r="5.1" fill="rgba(255,165,0,0.28)"/>
<circle cx="165.5" cy="533.9" r="5.1" fill="rgba(128,128,128,0.25)"/>
<circle cx="135.6" cy="517.3" r="5.1" fill="rgba(128,128,128,0.25)"/>
<circle cx="108.6" cy="615.0" r="5.1" fill="rgba(255,165,0,0.28)"/>
<circle cx="204.1" cy="493.4" r="5.1" fill="rgba(30,144,255,0.27)"/>
<circle cx="134.7" cy="521.6" r="5.1" fill="rgba(128,128,128,0.25)"/>
<circle cx="228.2" cy="478.4" r="5.1" fill="rgba(128,128,128,0.25)"/>
<circle cx="151.1" cy="569.6" r="5.1" fill="rgba(128,128,128,0.25)"/>
<circle cx="147.9" cy="465.8" r="5.1" fill="rgba(128,128,128,0.25)"/>
<circle cx="152.5" cy="491.1" r="5.1" fill="rgba(128,128,128,0.25)"/>
<circle cx="131.8" cy="613.1" r="5.1" fill="rgba(255,165,0,0.28)"/>
<circle cx="68.8" cy="573.7" r="5.1" fill="rgba(128,128,128,0.25)"/>
<circle cx="122.3" cy="622.2" r="5.1" fill="rgba(255,165,0,0.28)"/>
<circle cx="161.1" cy="582.8" r="5.1" fill="rgba(128,128,128,0.25)"/>
<circle cx="110.1" cy="577.3" r="5.1" fill="rgba(255,165,0,0.28)"/>
<circle cx="173.6" cy="619.2" r="5.1" fill="rgba(255,165,0,0.28)"/>
<circle cx="216.3" cy="486.4" r="5.1" fill="rgba(128,128,128,0.25)"/>
<circle cx="58.6" cy="586.8" r="5.1" fill="rgba(128,128,128,0.25)"/>
<circle cx="141.5" cy="586.7" r="5.1" fill="rgba(255,165,0,0.28)"/>
<circle cx="115.0" cy="567.1" r="5.1" fill="rgba(255,165,0,0.28)"/>
<circle cx="118.5" cy="589.7" r="5.1" fill="rgba(255,165,0,0.28)"/>
<circle cx="174.3" cy="602.0" r="5.1" fill="rgba(255,165,0,0.28)"/>
<circle cx="146.5" cy="514.6" r="5.1" fill="rgba(128,128,128,0.25)"/>
<circle cx="265.5" cy="533.0" r="5.1" fill="rgba(128,128,128,0.25)"/>
<circle cx="144.2" cy="532.9" r="5.1" fill="rgba(128,128,128,0.25)"/>
<circle cx="149.9" cy="510.7" r="5.1" fill="rgba(30,144,255,0.27)"/>
<circle cx="131.7" cy="458.7" r="5.1" fill="rgba(30,144,255,0.27)"/>
<circle cx="120.5" cy="515.1" r="5.1" fill="rgba(128,128,128,0.25)"/>
<circle cx="134.2" cy="489.7" r="5.1" fill="rgba(128,128,128,0.25)"/>
<circle cx="161.4" cy="495.3" r="5.1" fill="rgba(128,128,128,0.25)"/>
<circle cx="204.6" cy="505.9" r="5.1" fill="rgba(128,128,128,0.25)"/>
<circle cx="143.1" cy="513.3" r="5.1" fill="rgba(128,128,128,0.25)"/>
<circle cx="175.9" cy="481.9" r="5.1" fill="rgba(128,128,128,0.25)"/>
<circle cx="138.2" cy="450.9" r="5.1" fill="rgba(128,128,128,0.25)"/>
<circle cx="63.4" cy="623.6" r="5.1" fill="rgba(128,128,128,0.25)"/>
<circle cx="162.0" cy="572.0" r="5.1" fill="rgba(128,128,128,0.25)"/>
<circle cx="93.8" cy="521.1" r="5.1" fill="rgba(30,144,255,0.27)"/>
<circle cx="118.8" cy="621.9" r="5.1" fill="rgba(255,165,0,0.28)"/>
<circle cx="127.4" cy="484.1" r="5.1" fill="rgba(128,128,128,0.25)"/>
<circle cx="120.3" cy="608.1" r="5.1" fill="rgba(255,165,0,0.28)"/>
<circle cx="125.7" cy="499.4" r="5.1" fill="rgba(30,144,255,0.27)"/>
<circle cx="112.7" cy="576.4" r="5.1" fill="rgba(255,165,0,0.28)"/>
<circle cx="147.7" cy="574.4" r="5.1" fill="rgba(128,128,128,0.25)"/>
<circle cx="147.2" cy="498.5" r="5.1" fill="rgba(128,128,128,0.25)"/>
<circle cx="130.7" cy="605.9" r="5.1" fill="rgba(255,165,0,0.28)"/>
<circle cx="167.2" cy="461.9" r="5.1" fill="rgba(128,128,128,0.25)"/>
<circle cx="181.7" cy="598.2" r="5.1" fill="rgba(255,165,0,0.28)"/>
<circle cx="67.5" cy="615.2" r="5.1" fill="rgba(255,165,0,0.28)"/>
<circle cx="131.4" cy="574.1" r="5.1" fill="rgba(255,165,0,0.28)"/>
<circle cx="160.7" cy="516.7" r="5.1" fill="rgba(128,128,128,0.25)"/>
<circle cx="117.8" cy="467.1" r="5.1" fill="rgba(128,128,128,0.25)"/>
<circle cx="141.7" cy="630.8" r="5.1" fill="rgba(255,165,0,0.28)"/>
<circle cx="103.4" cy="609.8" r="5.1" fill="rgba(255,165,0,0.28)"/>
<circle cx="128.9" cy="512.3" r="5.1" fill="rgba(128,128,128,0.25)"/>
<circle cx="245.3" cy="478.6" r="5.1" fill="rgba(128,128,128,0.25)"/>
<circle cx="120.8" cy="625.1" r="5.1" fill="rgba(255,165,0,0.28)"/>
<circle cx="77.8" cy="640.5" r="5.1" fill="rgba(255,165,0,0.28)"/>
<circle cx="126.8" cy="591.6" r="5.1" fill="rgba(255,165,0,0.28)"/>
<circle cx="73.5" cy="558.5" r="5.1" fill="rgba(128,128,128,0.25)"/>
<circle cx="176.7" cy="618.7" r="5.1" fill="rgba(255,165,0,0.28)"/>
<circle cx="181.1" cy="565.2" r="5.1" fill="rgba(128,128,128,0.25)"/>
<circle cx="229.7" cy="479.9" r="5.1" fill="rgba(30,144,255,0.27)"/>
<circle cx="153.8" cy="499.2" r="5.1" fill="rgba(128,128,128,0.25)"/>
<circle cx="138.5" cy="515.3" r="5.1" fill="rgba(30,144,255,0.27)"/>
<circle cx="122.5" cy="544.5" r="5.1" fill="rgba(30,144,255,0.27)"/>
<circle cx="228.5" cy="453.8" r="5.1" fill="rgba(128,128,128,0.25)"/>
<circle cx="169.9" cy="592.8" r="5.1" fill="rgba(255,165,0,0.28)"/>
<circle cx="218.0" cy="481.4" r="5.1" fill="rgba(30,144,255,0.27)"/>
<circle cx="133.5" cy="624.3" r="5.1" fill="rgba(255,165,0,0.28)"/>
<circle cx="146.5" cy="457.2" r="5.1" fill="rgba(128,128,128,0.25)"/>
<circle cx="67.9" cy="634.8" r="5.1" fill="rgba(255,165,0,0.28)"/>
<circle cx="163.9" cy="582.7" r="5.1" fill="rgba(128,128,128,0.25)"/>
<circle cx="142.1" cy="484.0" r="5.1" fill="rgba(128,128,128,0.25)"/>
<circle cx="119.3" cy="538.7" r="5.1" fill="rgba(128,128,128,0.25)"/>
<circle cx="56.1" cy="511.6" r="5.1" fill="rgba(30,144,255,0.27)"/>
<circle cx="163.3" cy="517.0" r="5.1" fill="rgba(128,128,128,0.25)"/>
<circle cx="152.6" cy="505.8" r="5.1" fill="rgba(128,128,128,0.25)"/>
<circle cx="123.7" cy="597.1" r="5.1" fill="rgba(255,165,0,0.28)"/>
<circle cx="201.4" cy="507.2" r="5.1" fill="rgba(128,128,128,0.25)"/>
<circle cx="148.0" cy="507.6" r="5.1" fill="rgba(128,128,128,0.25)"/>
<circle cx="137.6" cy="517.6" r="5.1" fill="rgba(128,128,128,0.25)"/>
<circle cx="115.7" cy="548.6" r="5.1" fill="rgba(30,144,255,0.27)"/>
<circle cx="200.3" cy="529.1" r="5.1" fill="rgba(30,144,255,0.27)"/>
<circle cx="136.0" cy="551.8" r="5.1" fill="rgba(128,128,128,0.25)"/>
<circle cx="157.1" cy="497.6" r="5.1" fill="rgba(128,128,128,0.25)"/>
<circle cx="169.9" cy="501.1" r="5.1" fill="rgba(128,128,128,0.25)"/>
<circle cx="172.7" cy="622.4" r="5.1" fill="rgba(255,165,0,0.28)"/>
<circle cx="229.2" cy="493.0" r="5.1" fill="rgba(30,144,255,0.27)"/>
<circle cx="223.4" cy="515.2" r="5.1" fill="rgba(128,128,128,0.25)"/>
<circle cx="134.7" cy="514.5" r="5.1" fill="rgba(30,144,255,0.27)"/>
<circle cx="240.9" cy="477.9" r="5.1" fill="rgba(30,144,255,0.27)"/>
<circle cx="133.1" cy="615.0" r="5.1" fill="rgba(255,165,0,0.28)"/>
<circle cx="136.0" cy="570.6" r="5.1" fill="rgba(128,128,128,0.25)"/>
<circle cx="188.4" cy="615.9" r="5.1" fill="rgba(255,165,0,0.28)"/>
<circle cx="237.6" cy="485.7" r="5.1" fill="rgba(128,128,128,0.25)"/>
<circle cx="121.1" cy="606.1" r="5.1" fill="rgba(255,165,0,0.28)"/>
<circle cx="198.7" cy="562.9" r="5.1" fill="rgba(128,128,128,0.25)"/>
<circle cx="73.6" cy="644.4" r="5.1" fill="rgba(255,165,0,0.28)"/>
<circle cx="105.5" cy="612.7" r="5.1" fill="rgba(255,165,0,0.28)"/>
<circle cx="210.5" cy="485.2" r="5.1" fill="rgba(30,144,255,0.27)"/>
<circle cx="63.4" cy="621.9" r="5.1" fill="rgba(128,128,128,0.25)"/>
<circle cx="168.0" cy="633.3" r="5.1" fill="rgba(255,165,0,0.28)"/>
<circle cx="142.2" cy="496.6" r="5.1" fill="rgba(30,144,255,0.27)"/>
<circle cx="109.7" cy="572.4" r="5.1" fill="rgba(128,128,128,0.25)"/>
<circle cx="130.2" cy="607.1" r="5.1" fill="rgba(255,165,0,0.28)"/>
<circle cx="200.9" cy="493.6" r="5.1" fill="rgba(30,144,255,0.27)"/>
<circle cx="108.1" cy="609.5" r="5.1" fill="rgba(255,165,0,0.28)"/>
<circle cx="223.7" cy="527.1" r="5.1" fill="rgba(128,128,128,0.25)"/>
<circle cx="178.8" cy="537.6" r="5.1" fill="rgba(128,128,128,0.25)"/>
<circle cx="219.1" cy="468.3" r="5.1" fill="rgba(30,144,255,0.27)"/>
<circle cx="164.4" cy="553.5" r="5.1" fill="rgba(128,128,128,0.25)"/>
<circle cx="172.3" cy="534.2" r="5.1" fill="rgba(128,128,128,0.25)"/>
<circle cx="131.7" cy="547.8" r="5.1" fill="rgba(128,128,128,0.25)"/>
<circle cx="128.0" cy="597.0" r="5.1" fill="rgba(255,165,0,0.28)"/>
<circle cx="199.8" cy="531.7" r="5.1" fill="rgba(128,128,128,0.25)"/>
<circle cx="98.6" cy="598.7" r="5.1" fill="rgba(255,165,0,0.28)"/>
<circle cx="128.3" cy="569.2" r="5.1" fill="rgba(128,128,128,0.25)"/>
<circle cx="99.3" cy="520.6" r="5.1" fill="rgba(30,144,255,0.27)"/>
<circle cx="68.1" cy="644.6" r="5.1" fill="rgba(255,165,0,0.28)"/>
<circle cx="71.2" cy="615.0" r="5.1" fill="rgba(255,165,0,0.28)"/>
<circle cx="249.7" cy="492.4" r="5.1" fill="rgba(128,128,128,0.25)"/>
<circle cx="78.1" cy="605.3" r="5.1" fill="rgba(255,165,0,0.28)"/>
<circle cx="67.0" cy="520.7" r="5.1" fill="rgba(30,144,255,0.27)"/>
<circle cx="126.9" cy="507.9" r="5.1" fill="rgba(128,128,128,0.25)"/>
<circle cx="164.9" cy="619.0" r="5.1" fill="rgba(255,165,0,0.28)"/>
<circle cx="128.5" cy="502.9" r="5.1" fill="rgba(128,128,128,0.25)"/>
<circle cx="121.0" cy="597.2" r="5.1" fill="rgba(255,165,0,0.28)"/>
<circle cx="226.9" cy="485.5" r="5.1" fill="rgba(30,144,255,0.27)"/>
<circle cx="173.8" cy="532.7" r="5.1" fill="rgba(255,165,0,0.28)"/>
<circle cx="82.2" cy="627.6" r="5.1" fill="rgba(255,165,0,0.28)"/>
<circle cx="104.3" cy="623.5" r="5.1" fill="rgba(255,165,0,0.28)"/>
<circle cx="129.2" cy="539.2" r="5.1" fill="rgba(30,144,255,0.27)"/>
<circle cx="147.4" cy="512.4" r="5.1" fill="rgba(128,128,128,0.25)"/>
<circle cx="68.6" cy="603.8" r="5.1" fill="rgba(255,165,0,0.28)"/>
<circle cx="137.9" cy="538.4" r="5.1" fill="rgba(30,144,255,0.27)"/>
<circle cx="204.2" cy="517.5" r="5.1" fill="rgba(128,128,128,0.25)"/>
<circle cx="183.0" cy="591.9" r="5.1" fill="rgba(128,128,128,0.25)"/>
<circle cx="164.8" cy="515.1" r="5.1" fill="rgba(30,144,255,0.27)"/>
<circle cx="233.3" cy="495.6" r="5.1" fill="rgba(128,128,128,0.25)"/>
<circle cx="69.8" cy="621.8" r="5.1" fill="rgba(255,165,0,0.28)"/>
<circle cx="158.0" cy="509.6" r="5.1" fill="rgba(128,128,128,0.25)"/>
<circle cx="239.1" cy="510.0" r="5.1" fill="rgba(128,128,128,0.25)"/>
<circle cx="250.4" cy="491.7" r="5.1" fill="rgba(128,128,128,0.25)"/>
<circle cx="87.5" cy="574.4" r="5.1" fill="rgba(128,128,128,0.25)"/>
<circle cx="63.4" cy="603.5" r="5.1" fill="rgba(255,165,0,0.28)"/>
<circle cx="120.2" cy="566.3" r="5.1" fill="rgba(255,165,0,0.28)"/>
<circle cx="232.3" cy="489.4" r="5.1" fill="rgba(128,128,128,0.25)"/>
<circle cx="175.3" cy="531.9" r="5.1" fill="rgba(128,128,128,0.25)"/>
<circle cx="124.6" cy="620.4" r="5.1" fill="rgba(255,165,0,0.28)"/>
<circle cx="136.9" cy="570.3" r="5.1" fill="rgba(128,128,128,0.25)"/>
<circle cx="148.1" cy="525.0" r="5.1" fill="rgba(128,128,128,0.25)"/>
<circle cx="125.7" cy="614.2" r="5.1" fill="rgba(255,165,0,0.28)"/>
<circle cx="150.0" cy="532.9" r="5.1" fill="rgba(128,128,128,0.25)"/>
<circle cx="113.7" cy="603.1" r="5.1" fill="rgba(255,165,0,0.28)"/>
<circle cx="81.0" cy="515.4" r="5.1" fill="rgba(30,144,255,0.27)"/>
<circle cx="167.9" cy="600.8" r="5.1" fill="rgba(255,165,0,0.28)"/>
<circle cx="169.0" cy="498.7" r="5.1" fill="rgba(128,128,128,0.25)"/>
<circle cx="193.7" cy="498.6" r="5.1" fill="rgba(128,128,128,0.25)"/>
<circle cx="152.6" cy="501.4" r="5.1" fill="rgba(128,128,128,0.25)"/>
<circle cx="109.9" cy="581.3" r="5.1" fill="rgba(255,165,0,0.28)"/>
<circle cx="120.1" cy="618.0" r="5.1" fill="rgba(255,165,0,0.28)"/>
<circle cx="115.6" cy="504.0" r="5.1" fill="rgba(128,128,128,0.25)"/>
<circle cx="77.1" cy="556.3" r="5.1" fill="rgba(128,128,128,0.25)"/>
<circle cx="246.3" cy="474.0" r="5.1" fill="rgba(30,144,255,0.27)"/>
<circle cx="85.0" cy="551.4" r="5.1" fill="rgba(128,128,128,0.25)"/>
<circle cx="175.6" cy="603.2" r="5.1" fill="rgba(255,165,0,0.28)"/>
<circle cx="187.4" cy="501.4" r="5.1" fill="rgba(128,128,128,0.25)"/>
<circle cx="176.8" cy="602.2" r="5.1" fill="rgba(255,165,0,0.28)"/>
<circle cx="159.1" cy="559.1" r="5.1" fill="rgba(30,144,255,0.27)"/>
<circle cx="241.5" cy="480.8" r="5.1" fill="rgba(30,144,255,0.27)"/>
<circle cx="92.8" cy="578.9" r="5.1" fill="rgba(128,128,128,0.25)"/>
<circle cx="130.0" cy="481.6" r="5.1" fill="rgba(128,128,128,0.25)"/>
<circle cx="194.7" cy="600.7" r="5.1" fill="rgba(255,165,0,0.28)"/>
<circle cx="75.0" cy="542.8" r="5.1" fill="rgba(128,128,128,0.25)"/>
<circle cx="139.8" cy="508.6" r="5.1" fill="rgba(128,128,128,0.25)"/>
<circle cx="74.4" cy="618.4" r="5.1" fill="rgba(255,165,0,0.28)"/>
<circle cx="160.1" cy="565.9" r="5.1" fill="rgba(128,128,128,0.25)"/>
<circle cx="136.7" cy="485.3" r="5.1" fill="rgba(30,144,255,0.27)"/>
<circle cx="236.5" cy="526.4" r="5.1" fill="rgba(128,128,128,0.25)"/>
<circle cx="134.3" cy="484.3" r="5.1" fill="rgba(128,128,128,0.25)"/>
<circle cx="193.6" cy="521.7" r="5.1" fill="rgba(128,128,128,0.25)"/>
<circle cx="81.3" cy="587.4" r="5.1" fill="rgba(255,165,0,0.28)"/>
<circle cx="84.2" cy="633.5" r="5.1" fill="rgba(255,165,0,0.28)"/>
<circle cx="118.4" cy="608.4" r="5.1" fill="rgba(255,165,0,0.28)"/>
<circle cx="114.2" cy="586.1" r="5.1" fill="rgba(255,165,0,0.28)"/>
<circle cx="163.8" cy="638.6" r="5.1" fill="rgba(255,165,0,0.28)"/>
<circle cx="159.0" cy="543.0" r="5.1" fill="rgba(30,144,255,0.27)"/>
<circle cx="100.1" cy="610.4" r="5.1" fill="rgba(255,165,0,0.28)"/>
<circle cx="149.2" cy="524.5" r="5.1" fill="rgba(30,144,255,0.27)"/>
<circle cx="186.0" cy="548.7" r="5.1" fill="rgba(30,144,255,0.27)"/>
<circle cx="132.3" cy="584.7" r="5.1" fill="rgba(128,128,128,0.25)"/>
<circle cx="141.6" cy="561.9" r="5.1" fill="rgba(128,128,128,0.25)"/>
<circle cx="106.6" cy="614.8" r="5.1" fill="rgba(255,165,0,0.28)"/>
<circle cx="142.5" cy="485.0" r="5.1" fill="rgba(128,128,128,0.25)"/>
<circle cx="143.5" cy="465.9" r="5.1" fill="rgba(128,128,128,0.25)"/>
<circle cx="65.5" cy="592.1" r="5.1" fill="rgba(128,128,128,0.25)"/>
<circle cx="221.8" cy="476.6" r="5.1" fill="rgba(128,128,128,0.25)"/>
<circle cx="111.4" cy="608.8" r="5.1" fill="rgba(255,165,0,0.28)"/>
<circle cx="155.3" cy="594.8" r="5.1" fill="rgba(128,128,128,0.25)"/>
<circle cx="174.2" cy="467.1" r="5.1" fill="rgba(128,128,128,0.25)"/>
<circle cx="216.3" cy="519.5" r="5.1" fill="rgba(128,128,128,0.25)"/>
<circle cx="114.5" cy="559.7" r="5.1" fill="rgba(128,128,128,0.25)"/>
<circle cx="71.5" cy="616.8" r="5.1" fill="rgba(255,165,0,0.28)"/>
<circle cx="178.7" cy="599.8" r="5.1" fill="rgba(255,165,0,0.28)"/>
<circle cx="142.9" cy="543.9" r="5.1" fill="rgba(30,144,255,0.27)"/>
<circle cx="246.7" cy="502.0" r="5.1" fill="rgba(128,128,128,0.25)"/>
<circle cx="80.8" cy="631.8" r="5.1" fill="rgba(255,165,0,0.28)"/>
<circle cx="68.5" cy="619.9" r="5.1" fill="rgba(255,165,0,0.28)"/>
<circle cx="232.2" cy="527.7" r="5.1" fill="rgba(128,128,128,0.25)"/>
<circle cx="78.1" cy="639.1" r="5.1" fill="rgba(255,165,0,0.28)"/>
<circle cx="122.2" cy="544.7" r="5.1" fill="rgba(128,128,128,0.25)"/>
<circle cx="163.7" cy="515.1" r="5.1" fill="rgba(128,128,128,0.25)"/>
<circle cx="132.1" cy="555.9" r="5.1" fill="rgba(128,128,128,0.25)"/>
<circle cx="149.2" cy="483.7" r="5.1" fill="rgba(30,144,255,0.27)"/>
<circle cx="127.0" cy="613.0" r="5.1" fill="rgba(255,165,0,0.28)"/>
<circle cx="178.3" cy="535.0" r="5.1" fill="rgba(30,144,255,0.27)"/>
<circle cx="152.8" cy="475.3" r="5.1" fill="rgba(128,128,128,0.25)"/>
<circle cx="67.7" cy="619.4" r="5.1" fill="rgba(255,165,0,0.28)"/>
<circle cx="114.2" cy="559.8" r="5.1" fill="rgba(128,128,128,0.25)"/>
<circle cx="152.2" cy="503.6" r="5.1" fill="rgba(30,144,255,0.27)"/>
<circle cx="99.7" cy="606.7" r="5.1" fill="rgba(255,165,0,0.28)"/>
<circle cx="74.2" cy="607.7" r="5.1" fill="rgba(255,165,0,0.28)"/>
<circle cx="130.5" cy="542.8" r="5.1" fill="rgba(30,144,255,0.27)"/>
<circle cx="161.7" cy="506.0" r="5.1" fill="rgba(128,128,128,0.25)"/>
<circle cx="254.2" cy="471.2" r="5.1" fill="rgba(30,144,255,0.27)"/>
<circle cx="174.3" cy="623.6" r="5.1" fill="rgba(255,165,0,0.28)"/>
<circle cx="114.2" cy="490.5" r="5.1" fill="rgba(128,128,128,0.25)"/>
<circle cx="147.3" cy="473.1" r="5.1" fill="rgba(30,144,255,0.27)"/>
<circle cx="83.5" cy="628.5" r="5.1" fill="rgba(255,165,0,0.28)"/>
<circle cx="152.3" cy="557.1" r="5.1" fill="rgba(128,128,128,0.25)"/>
<circle cx="106.1" cy="613.2" r="5.1" fill="rgba(255,165,0,0.28)"/>
<circle cx="179.8" cy="621.2" r="5.1" fill="rgba(255,165,0,0.28)"/>
<circle cx="216.0" cy="524.6" r="5.1" fill="rgba(128,128,128,0.25)"/>
<circle cx="55.6" cy="587.1" r="5.1" fill="rgba(255,165,0,0.28)"/>
<circle cx="106.1" cy="614.6" r="5.1" fill="rgba(255,165,0,0.28)"/>
<circle cx="60.2" cy="600.4" r="5.1" fill="rgba(128,128,128,0.25)"/>
<circle cx="211.1" cy="497.9" r="5.1" fill="rgba(30,144,255,0.27)"/>
<circle cx="175.0" cy="533.6" r="5.1" fill="rgba(128,128,128,0.25)"/>
<circle cx="128.6" cy="617.9" r="5.1" fill="rgba(255,165,0,0.28)"/>
<circle cx="174.5" cy="599.7" r="5.1" fill="rgba(255,165,0,0.28)"/>
<circle cx="217.7" cy="518.4" r="5.1" fill="rgba(128,128,128,0.25)"/>
<circle cx="63.0" cy="607.2" r="5.1" fill="rgba(128,128,128,0.25)"/>
<circle cx="75.0" cy="629.9" r="5.1" fill="rgba(255,165,0,0.28)"/>
<circle cx="78.4" cy="632.7" r="5.1" fill="rgba(255,165,0,0.28)"/>
<circle cx="148.2" cy="494.9" r="5.1" fill="rgba(30,144,255,0.27)"/>
<circle cx="223.1" cy="490.5" r="5.1" fill="rgba(128,128,128,0.25)"/>
<circle cx="73.2" cy="627.7" r="5.1" fill="rgba(255,165,0,0.28)"/>
<circle cx="117.5" cy="521.5" r="5.1" fill="rgba(30,144,255,0.27)"/>
<circle cx="182.9" cy="483.1" r="5.1" fill="rgba(128,128,128,0.25)"/>
<circle cx="228.2" cy="471.3" r="5.1" fill="rgba(30,144,255,0.27)"/>
<circle cx="148.6" cy="487.5" r="5.1" fill="rgba(128,128,128,0.25)"/>
<circle cx="164.4" cy="614.5" r="5.1" fill="rgba(255,165,0,0.28)"/>
<circle cx="119.6" cy="620.6" r="5.1" fill="rgba(255,165,0,0.28)"/>
<circle cx="119.6" cy="514.3" r="5.1" fill="rgba(128,128,128,0.25)"/>
<circle cx="87.5" cy="646.8" r="5.1" fill="rgba(255,165,0,0.28)"/>
<circle cx="119.7" cy="601.0" r="5.1" fill="rgba(255,165,0,0.28)"/>
<circle cx="98.5" cy="559.7" r="5.1" fill="rgba(30,144,255,0.27)"/>
<circle cx="225.5" cy="492.2" r="5.1" fill="rgba(30,144,255,0.27)"/>
<circle cx="221.6" cy="480.5" r="5.1" fill="rgba(30,144,255,0.27)"/>
<circle cx="115.8" cy="630.9" r="5.1" fill="rgba(255,165,0,0.28)"/>
<circle cx="224.5" cy="502.6" r="5.1" fill="rgba(128,128,128,0.25)"/>
<circle cx="154.1" cy="530.3" r="5.1" fill="rgba(128,128,128,0.25)"/>
<circle cx="153.4" cy="520.6" r="5.1" fill="rgba(128,128,128,0.25)"/>
<circle cx="92.6" cy="585.6" r="5.1" fill="rgba(128,128,128,0.25)"/>
<circle cx="181.1" cy="611.1" r="5.1" fill="rgba(255,165,0,0.28)"/>
<circle cx="72.5" cy="638.2" r="5.1" fill="rgba(128,128,128,0.25)"/>
<circle cx="84.4" cy="496.6" r="5.1" fill="rgba(30,144,255,0.27)"/>
<circle cx="164.8" cy="589.0" r="5.1" fill="rgba(128,128,128,0.25)"/>
<circle cx="118.3" cy="592.3" r="5.1" fill="rgba(255,165,0,0.28)"/>
<circle cx="228.7" cy="471.1" r="5.1" fill="rgba(30,144,255,0.27)"/>
<circle cx="122.4" cy="589.1" r="5.1" fill="rgba(255,165,0,0.28)"/>
<circle cx="173.0" cy="578.2" r="5.1" fill="rgba(128,128,128,0.25)"/>
<circle cx="126.2" cy="496.6" r="5.1" fill="rgba(128,128,128,0.25)"/>
<circle cx="218.8" cy="459.0" r="5.1" fill="rgba(30,144,255,0.27)"/>
<circle cx="78.4" cy="630.2" r="5.1" fill="rgba(255,165,0,0.28)"/>
<circle cx="61.5" cy="592.4" r="5.1" fill="rgba(128,128,128,0.25)"/>
<circle cx="136.4" cy="631.8" r="5.1" fill="rgba(255,165,0,0.28)"/>
<circle cx="217.8" cy="498.2" r="5.1" fill="rgba(30,144,255,0.27)"/>
<circle cx="116.3" cy="513.4" r="5.1" fill="rgba(128,128,128,0.25)"/>
<circle cx="105.8" cy="618.6" r="5.1" fill="rgba(255,165,0,0.28)"/>
<circle cx="180.8" cy="542.9" r="5.1" fill="rgba(128,128,128,0.25)"/>
<circle cx="179.8" cy="542.7" r="5.1" fill="rgba(128,128,128,0.25)"/>
<circle cx="149.5" cy="527.2" r="5.1" fill="rgba(128,128,128,0.25)"/>
<circle cx="186.5" cy="549.9" r="5.1" fill="rgba(128,128,128,0.25)"/>
<circle cx="118.8" cy="452.5" r="5.1" fill="rgba(30,144,255,0.27)"/>
<circle cx="70.6" cy="563.2" r="5.1" fill="rgba(128,128,128,0.25)"/>
<circle cx="114.0" cy="625.7" r="5.1" fill="rgba(255,165,0,0.28)"/>
<circle cx="192.0" cy="582.8" r="5.1" fill="rgba(128,128,128,0.25)"/>
<circle cx="55.2" cy="615.8" r="5.1" fill="rgba(255,165,0,0.28)"/>
<circle cx="147.3" cy="488.5" r="5.1" fill="rgba(128,128,128,0.25)"/>
<circle cx="153.6" cy="498.8" r="5.1" fill="rgba(128,128,128,0.25)"/>
<circle cx="154.9" cy="477.6" r="5.1" fill="rgba(128,128,128,0.25)"/>
<circle cx="129.0" cy="509.5" r="5.1" fill="rgba(128,128,128,0.25)"/>
<circle cx="169.7" cy="601.2" r="5.1" fill="rgba(255,165,0,0.28)"/>
<circle cx="75.7" cy="591.1" r="5.1" fill="rgba(128,128,128,0.25)"/>
<circle cx="118.0" cy="523.0" r="5.1" fill="rgba(30,144,255,0.27)"/>
<circle cx="153.9" cy="502.4" r="5.1" fill="rgba(30,144,255,0.27)"/>
<circle cx="139.6" cy="541.8" r="5.1" fill="rgba(128,128,128,0.25)"/>
<circle cx="152.1" cy="487.8" r="5.1" fill="rgba(128,128,128,0.25)"/>
<circle cx="233.6" cy="488.5" r="5.1" fill="rgba(128,128,128,0.25)"/>
<circle cx="234.4" cy="496.8" r="5.1" fill="rgba(128,128,128,0.25)"/>
<circle cx="154.1" cy="509.4" r="5.1" fill="rgba(128,128,128,0.25)"/>
<circle cx="214.3" cy="491.4" r="5.1" fill="rgba(30,144,255,0.27)"/>
<circle cx="129.5" cy="588.9" r="5.1" fill="rgba(255,165,0,0.28)"/>
<circle cx="168.2" cy="508.1" r="5.1" fill="rgba(30,144,255,0.27)"/>
<circle cx="131.9" cy="571.8" r="5.1" fill="rgba(128,128,128,0.25)"/>
<circle cx="79.8" cy="629.3" r="5.1" fill="rgba(255,165,0,0.28)"/>
<circle cx="125.1" cy="538.5" r="5.1" fill="rgba(128,128,128,0.25)"/>
<circle cx="156.8" cy="542.2" r="5.1" fill="rgba(128,128,128,0.25)"/>
<circle cx="115.9" cy="590.5" r="5.1" fill="rgba(255,165,0,0.28)"/>
<circle cx="135.3" cy="566.8" r="5.1" fill="rgba(128,128,128,0.25)"/>
<circle cx="100.4" cy="563.9" r="5.1" fill="rgba(128,128,128,0.25)"/>
<circle cx="165.2" cy="622.6" r="5.1" fill="rgba(255,165,0,0.28)"/>
<circle cx="93.1" cy="552.6" r="5.1" fill="rgba(128,128,128,0.25)"/>
<circle cx="134.4" cy="520.8" r="5.1" fill="rgba(128,128,128,0.25)"/>
<circle cx="79.2" cy="630.9" r="5.1" fill="rgba(255,165,0,0.28)"/>
<circle cx="69.9" cy="623.0" r="5.1" fill="rgba(255,165,0,0.28)"/>
<circle cx="159.5" cy="475.1" r="5.1" fill="rgba(30,144,255,0.27)"/>
<circle cx="146.8" cy="451.0" r="5.1" fill="rgba(128,128,128,0.25)"/>
<circle cx="125.2" cy="467.0" r="5.1" fill="rgba(128,128,128,0.25)"/>
<circle cx="166.5" cy="640.6" r="5.1" fill="rgba(255,165,0,0.28)"/>
<circle cx="201.7" cy="524.1" r="5.1" fill="rgba(255,165,0,0.28)"/>
<circle cx="63.8" cy="624.7" r="5.1" fill="rgba(255,165,0,0.28)"/>
<circle cx="91.8" cy="641.8" r="5.1" fill="rgba(255,165,0,0.28)"/>
<circle cx="147.8" cy="525.1" r="5.1" fill="rgba(128,128,128,0.25)"/>
<circle cx="70.1" cy="559.9" r="5.1" fill="rgba(128,128,128,0.25)"/>
<circle cx="213.9" cy="483.9" r="5.1" fill="rgba(30,144,255,0.27)"/>
<circle cx="60.2" cy="648.8" r="5.1" fill="rgba(30,144,255,0.27)"/>
<circle cx="134.1" cy="474.2" r="5.1" fill="rgba(128,128,128,0.25)"/>
<circle cx="237.3" cy="464.8" r="5.1" fill="rgba(30,144,255,0.27)"/>
<circle cx="91.2" cy="543.9" r="5.1" fill="rgba(128,128,128,0.25)"/>
<circle cx="128.6" cy="470.2" r="5.1" fill="rgba(128,128,128,0.25)"/>
<circle cx="137.2" cy="524.6" r="5.1" fill="rgba(30,144,255,0.27)"/>
<circle cx="150.6" cy="571.9" r="5.1" fill="rgba(128,128,128,0.25)"/>
<circle cx="63.0" cy="578.1" r="5.1" fill="rgba(128,128,128,0.25)"/>
<circle cx="130.0" cy="486.3" r="5.1" fill="rgba(128,128,128,0.25)"/>
<circle cx="162.1" cy="573.2" r="5.1" fill="rgba(128,128,128,0.25)"/>
<circle cx="68.9" cy="620.0" r="5.1" fill="rgba(255,165,0,0.28)"/>
<circle cx="110.1" cy="613.3" r="5.1" fill="rgba(255,165,0,0.28)"/>
<circle cx="166.7" cy="612.1" r="5.1" fill="rgba(255,165,0,0.28)"/>
<circle cx="231.0" cy="508.9" r="5.1" fill="rgba(128,128,128,0.25)"/>
<circle cx="119.7" cy="606.9" r="5.1" fill="rgba(255,165,0,0.28)"/>
<circle cx="140.4" cy="508.7" r="5.1" fill="rgba(128,128,128,0.25)"/>
<circle cx="117.7" cy="527.1" r="5.1" fill="rgba(30,144,255,0.27)"/>
<circle cx="166.1" cy="577.4" r="5.1" fill="rgba(128,128,128,0.25)"/>
<circle cx="143.8" cy="480.1" r="5.1" fill="rgba(128,128,128,0.25)"/>
<circle cx="180.0" cy="612.4" r="5.1" fill="rgba(255,165,0,0.28)"/>
<circle cx="92.0" cy="576.0" r="5.1" fill="rgba(128,128,128,0.25)"/>
<circle cx="165.3" cy="458.8" r="5.1" fill="rgba(128,128,128,0.25)"/>
<circle cx="160.9" cy="577.0" r="5.1" fill="rgba(128,128,128,0.25)"/>
<circle cx="148.4" cy="565.3" r="5.1" fill="rgba(128,128,128,0.25)"/>
<circle cx="176.4" cy="552.2" r="5.1" fill="rgba(128,128,128,0.25)"/>
<circle cx="133.5" cy="625.3" r="5.1" fill="rgba(255,165,0,0.28)"/>
<circle cx="115.6" cy="581.0" r="5.1" fill="rgba(255,165,0,0.28)"/>
<circle cx="161.3" cy="581.6" r="5.1" fill="rgba(255,165,0,0.28)"/>
<circle cx="104.0" cy="639.5" r="5.1" fill="rgba(255,165,0,0.28)"/>
<circle cx="130.4" cy="493.5" r="5.1" fill="rgba(128,128,128,0.25)"/>
<circle cx="211.8" cy="535.1" r="5.1" fill="rgba(128,128,128,0.25)"/>
<circle cx="121.5" cy="644.1" r="5.1" fill="rgba(255,165,0,0.28)"/>
<circle cx="133.0" cy="506.3" r="5.1" fill="rgba(30,144,255,0.27)"/>
<circle cx="83.7" cy="624.6" r="5.1" fill="rgba(255,165,0,0.28)"/>
<circle cx="111.7" cy="601.4" r="5.1" fill="rgba(255,165,0,0.28)"/>
<circle cx="151.9" cy="470.6" r="5.1" fill="rgba(30,144,255,0.27)"/>
<circle cx="151.9" cy="530.5" r="5.1" fill="rgba(255,165,0,0.28)"/>
<circle cx="131.2" cy="568.5" r="5.1" fill="rgba(128,128,128,0.25)"/>
<circle cx="217.3" cy="477.5" r="5.1" fill="rgba(30,144,255,0.27)"/>
<circle cx="113.6" cy="580.2" r="5.1" fill="rgba(255,165,0,0.28)"/>
<circle cx="74.1" cy="621.4" r="5.1" fill="rgba(255,165,0,0.28)"/>
<circle cx="132.7" cy="518.5" r="5.1" fill="rgba(128,128,128,0.25)"/>
<circle cx="175.6" cy="541.8" r="5.1" fill="rgba(128,128,128,0.25)"/>
<circle cx="167.1" cy="488.4" r="5.1" fill="rgba(128,128,128,0.25)"/>
<circle cx="167.6" cy="496.2" r="5.1" fill="rgba(30,144,255,0.27)"/>
<circle cx="155.5" cy="533.7" r="5.1" fill="rgba(128,128,128,0.25)"/>
<circle cx="64.2" cy="633.4" r="5.1" fill="rgba(128,128,128,0.25)"/>
<circle cx="134.3" cy="512.0" r="5.1" fill="rgba(30,144,255,0.27)"/>
<circle cx="134.9" cy="528.4" r="5.1" fill="rgba(30,144,255,0.27)"/>
<circle cx="134.4" cy="488.1" r="5.1" fill="rgba(128,128,128,0.25)"/>
<circle cx="147.1" cy="576.5" r="5.1" fill="rgba(128,128,128,0.25)"/>
<circle cx="166.2" cy="594.1" r="5.1" fill="rgba(255,165,0,0.28)"/>
<circle cx="177.6" cy="597.1" r="5.1" fill="rgba(255,165,0,0.28)"/>
<circle cx="198.7" cy="468.5" r="5.1" fill="rgba(30,144,255,0.27)"/>
<circle cx="68.0" cy="633.5" r="5.1" fill="rgba(255,165,0,0.28)"/>
<circle cx="61.3" cy="597.3" r="5.1" fill="rgba(128,128,128,0.25)"/>
<circle cx="120.0" cy="607.0" r="5.1" fill="rgba(255,165,0,0.28)"/>
<circle cx="105.2" cy="620.5" r="5.1" fill="rgba(255,165,0,0.28)"/>
<circle cx="182.7" cy="568.4" r="5.1" fill="rgba(128,128,128,0.25)"/>
<circle cx="70.8" cy="611.0" r="5.1" fill="rgba(128,128,128,0.25)"/>
<circle cx="137.2" cy="559.6" r="5.1" fill="rgba(128,128,128,0.25)"/>
<circle cx="117.8" cy="519.9" r="5.1" fill="rgba(128,128,128,0.25)"/>
<circle cx="151.5" cy="548.7" r="5.1" fill="rgba(128,128,128,0.25)"/>
<circle cx="77.0" cy="589.6" r="5.1" fill="rgba(255,165,0,0.28)"/>
<circle cx="158.1" cy="489.7" r="5.1" fill="rgba(128,128,128,0.25)"/>
<circle cx="129.4" cy="576.5" r="5.1" fill="rgba(128,128,128,0.25)"/>
<circle cx="162.8" cy="606.9" r="5.1" fill="rgba(255,165,0,0.28)"/>
<circle cx="99.4" cy="562.4" r="5.1" fill="rgba(128,128,128,0.25)"/>
<circle cx="139.9" cy="510.6" r="5.1" fill="rgba(30,144,255,0.27)"/>
<circle cx="121.3" cy="611.2" r="5.1" fill="rgba(255,165,0,0.28)"/>
<circle cx="146.9" cy="532.1" r="5.1" fill="rgba(30,144,255,0.27)"/>
<circle cx="225.4" cy="497.2" r="5.1" fill="rgba(128,128,128,0.25)"/>
<circle cx="222.1" cy="511.5" r="5.1" fill="rgba(128,128,128,0.25)"/>
<circle cx="154.7" cy="529.3" r="5.1" fill="rgba(128,128,128,0.25)"/>
<circle cx="256.4" cy="522.3" r="5.1" fill="rgba(128,128,128,0.25)"/>
<circle cx="158.6" cy="538.2" r="5.1" fill="rgba(128,128,128,0.25)"/>
<circle cx="74.8" cy="589.6" r="5.1" fill="rgba(128,128,128,0.25)"/>
<circle cx="240.7" cy="534.1" r="5.1" fill="rgba(128,128,128,0.25)"/>
<circle cx="147.4" cy="558.5" r="5.1" fill="rgba(128,128,128,0.25)"/>
<circle cx="148.1" cy="478.6" r="5.1" fill="rgba(128,128,128,0.25)"/>
<circle cx="84.5" cy="586.1" r="5.1" fill="rgba(128,128,128,0.25)"/>
<circle cx="104.4" cy="614.2" r="5.1" fill="rgba(255,165,0,0.28)"/>
<circle cx="164.3" cy="501.5" r="5.1" fill="rgba(128,128,128,0.25)"/>
<circle cx="221.9" cy="519.8" r="5.1" fill="rgba(128,128,128,0.25)"/>
<circle cx="138.0" cy="477.7" r="5.1" fill="rgba(128,128,128,0.25)"/>
<circle cx="162.0" cy="490.7" r="5.1" fill="rgba(30,144,255,0.27)"/>
<circle cx="84.8" cy="611.4" r="5.1" fill="rgba(255,165,0,0.28)"/>
<circle cx="75.6" cy="620.4" r="5.1" fill="rgba(255,165,0,0.28)"/>
<circle cx="130.4" cy="557.0" r="5.1" fill="rgba(128,128,128,0.25)"/>
<circle cx="187.8" cy="614.8" r="5.1" fill="rgba(255,165,0,0.28)"/>
<circle cx="145.5" cy="494.0" r="5.1" fill="rgba(30,144,255,0.27)"/>
<circle cx="92.6" cy="633.2" r="5.1" fill="rgba(255,165,0,0.28)"/>
<circle cx="176.6" cy="521.8" r="5.1" fill="rgba(128,128,128,0.25)"/>
<circle cx="161.8" cy="555.8" r="5.1" fill="rgba(128,128,128,0.25)"/>
<circle cx="137.8" cy="500.6" r="5.1" fill="rgba(128,128,128,0.25)"/>
<circle cx="176.3" cy="578.9" r="5.1" fill="rgba(128,128,128,0.25)"/>
<circle cx="150.2" cy="528.0" r="5.1" fill="rgba(30,144,255,0.27)"/>
<circle cx="155.4" cy="531.7" r="5.1" fill="rgba(128,128,128,0.25)"/>
<circle cx="171.3" cy="594.4" r="5.1" fill="rgba(255,165,0,0.28)"/>
<circle cx="134.9" cy="503.3" r="5.1" fill="rgba(128,128,128,0.25)"/>
<circle cx="207.1" cy="496.5" r="5.1" fill="rgba(128,128,128,0.25)"/>
<circle cx="170.1" cy="490.2" r="5.1" fill="rgba(128,128,128,0.25)"/>
<circle cx="85.6" cy="615.8" r="5.1" fill="rgba(255,165,0,0.28)"/>
<circle cx="156.3" cy="586.9" r="5.1" fill="rgba(128,128,128,0.25)"/>
<circle cx="93.0" cy="615.4" r="5.1" fill="rgba(255,165,0,0.28)"/>
<circle cx="214.7" cy="476.1" r="5.1" fill="rgba(30,144,255,0.27)"/>
<circle cx="139.0" cy="516.4" r="5.1" fill="rgba(30,144,255,0.27)"/>
<circle cx="133.7" cy="500.5" r="5.1" fill="rgba(30,144,255,0.27)"/>
<circle cx="177.3" cy="604.4" r="5.1" fill="rgba(255,165,0,0.28)"/>
<circle cx="125.8" cy="571.7" r="5.1" fill="rgba(255,165,0,0.28)"/>
<circle cx="150.0" cy="532.5" r="5.1" fill="rgba(128,128,128,0.25)"/>
<circle cx="239.3" cy="476.4" r="5.1" fill="rgba(128,128,128,0.25)"/>
<circle cx="247.0" cy="541.3" r="5.1" fill="rgba(128,128,128,0.25)"/>
<circle cx="174.4" cy="492.9" r="5.1" fill="rgba(128,128,128,0.25)"/>
<circle cx="71.3" cy="622.0" r="5.1" fill="rgba(255,165,0,0.28)"/>
<circle cx="85.2" cy="635.8" r="5.1" fill="rgba(255,165,0,0.28)"/>
<circle cx="124.9" cy="467.4" r="5.1" fill="rgba(128,128,128,0.25)"/>
<circle cx="254.5" cy="473.5" r="5.1" fill="rgba(30,144,255,0.27)"/>
<circle cx="170.8" cy="623.6" r="5.1" fill="rgba(255,165,0,0.28)"/>
<circle cx="143.2" cy="493.0" r="5.1" fill="rgba(128,128,128,0.25)"/>
<circle cx="79.2" cy="617.5" r="5.1" fill="rgba(255,165,0,0.28)"/>
<circle cx="231.9" cy="497.3" r="5.1" fill="rgba(128,128,128,0.25)"/>
<circle cx="189.4" cy="591.2" r="5.1" fill="rgba(255,165,0,0.28)"/>
<circle cx="166.1" cy="597.4" r="5.1" fill="rgba(255,165,0,0.28)"/>
<circle cx="184.5" cy="561.5" r="5.1" fill="rgba(128,128,128,0.25)"/>
<circle cx="142.8" cy="491.4" r="5.1" fill="rgba(30,144,255,0.27)"/>
<circle cx="117.5" cy="500.6" r="5.1" fill="rgba(128,128,128,0.25)"/>
<circle cx="87.4" cy="610.7" r="5.1" fill="rgba(255,165,0,0.28)"/>
<circle cx="105.4" cy="621.5" r="5.1" fill="rgba(255,165,0,0.28)"/>
<circle cx="110.7" cy="611.8" r="5.1" fill="rgba(255,165,0,0.28)"/>
<circle cx="161.5" cy="554.5" r="5.1" fill="rgba(255,165,0,0.28)"/>
<circle cx="245.0" cy="483.3" r="5.1" fill="rgba(30,144,255,0.27)"/>
<circle cx="136.0" cy="495.0" r="5.1" fill="rgba(128,128,128,0.25)"/>
<circle cx="178.2" cy="484.8" r="5.1" fill="rgba(128,128,128,0.25)"/>
<circle cx="59.3" cy="606.9" r="5.1" fill="rgba(255,165,0,0.28)"/>
<circle cx="150.6" cy="583.8" r="5.1" fill="rgba(128,128,128,0.25)"/>
<circle cx="172.0" cy="504.5" r="5.1" fill="rgba(128,128,128,0.25)"/>
<circle cx="147.8" cy="631.1" r="5.1" fill="rgba(255,165,0,0.28)"/>
<circle cx="130.0" cy="630.3" r="5.1" fill="rgba(255,165,0,0.28)"/>
<circle cx="167.7" cy="606.9" r="5.1" fill="rgba(255,165,0,0.28)"/>
<circle cx="122.6" cy="535.4" r="5.1" fill="rgba(255,165,0,0.28)"/>
<circle cx="78.0" cy="599.1" r="5.1" fill="rgba(128,128,128,0.25)"/>
<circle cx="159.2" cy="542.0" r="5.1" fill="rgba(128,128,128,0.25)"/>
<circle cx="189.8" cy="552.7" r="5.1" fill="rgba(128,128,128,0.25)"/>
<circle cx="172.7" cy="594.5" r="5.1" fill="rgba(255,165,0,0.28)"/>
<circle cx="121.3" cy="584.0" r="5.1" fill="rgba(128,128,128,0.25)"/>
<circle cx="148.8" cy="474.5" r="5.1" fill="rgba(128,128,128,0.25)"/>
<circle cx="151.2" cy="528.2" r="5.1" fill="rgba(30,144,255,0.27)"/>
<circle cx="123.4" cy="513.2" r="5.1" fill="rgba(128,128,128,0.25)"/>
<circle cx="130.4" cy="616.1" r="5.1" fill="rgba(255,165,0,0.28)"/>
<circle cx="64.9" cy="611.3" r="5.1" fill="rgba(255,165,0,0.28)"/>
<circle cx="73.2" cy="594.9" r="5.1" fill="rgba(255,165,0,0.28)"/>
<circle cx="86.1" cy="567.2" r="5.1" fill="rgba(128,128,128,0.25)"/>
<circle cx="80.2" cy="637.5" r="5.1" fill="rgba(255,165,0,0.28)"/>
<circle cx="83.3" cy="557.7" r="5.1" fill="rgba(128,128,128,0.25)"/>
<circle cx="126.0" cy="584.9" r="5.1" fill="rgba(255,165,0,0.28)"/>
<circle cx="185.0" cy="580.0" r="5.1" fill="rgba(128,128,128,0.25)"/>
<circle cx="169.9" cy="569.7" r="5.1" fill="rgba(255,165,0,0.28)"/>
<circle cx="83.2" cy="476.0" r="5.1" fill="rgba(30,144,255,0.27)"/>
<circle cx="83.4" cy="622.1" r="5.1" fill="rgba(255,165,0,0.28)"/>
<circle cx="69.0" cy="624.3" r="5.1" fill="rgba(255,165,0,0.28)"/>
<circle cx="153.9" cy="521.5" r="5.1" fill="rgba(128,128,128,0.25)"/>
<circle cx="255.9" cy="473.5" r="5.1" fill="rgba(30,144,255,0.27)"/>
<circle cx="227.7" cy="485.0" r="5.1" fill="rgba(30,144,255,0.27)"/>
<circle cx="81.6" cy="627.8" r="5.1" fill="rgba(255,165,0,0.28)"/>
<circle cx="143.5" cy="487.5" r="5.1" fill="rgba(128,128,128,0.25)"/>
<circle cx="143.2" cy="587.4" r="5.1" fill="rgba(255,165,0,0.28)"/>
<circle cx="61.8" cy="627.6" r="5.1" fill="rgba(255,165,0,0.28)"/>
<circle cx="189.6" cy="611.0" r="5.1" fill="rgba(255,165,0,0.28)"/>
<circle cx="124.3" cy="626.0" r="5.1" fill="rgba(255,165,0,0.28)"/>
<circle cx="154.9" cy="533.2" r="5.1" fill="rgba(128,128,128,0.25)"/>
<circle cx="172.9" cy="599.6" r="5.1" fill="rgba(255,165,0,0.28)"/>
<circle cx="239.3" cy="509.7" r="5.1" fill="rgba(128,128,128,0.25)"/>
<circle cx="62.1" cy="575.1" r="5.1" fill="rgba(128,128,128,0.25)"/>
<circle cx="125.0" cy="626.7" r="5.1" fill="rgba(255,165,0,0.28)"/>
<circle cx="169.8" cy="599.6" r="5.1" fill="rgba(255,165,0,0.28)"/>
<circle cx="115.7" cy="468.3" r="5.1" fill="rgba(128,128,128,0.25)"/>
<circle cx="165.4" cy="538.9" r="5.1" fill="rgba(128,128,128,0.25)"/>
<circle cx="166.4" cy="480.1" r="5.1" fill="rgba(128,128,128,0.25)"/>
<circle cx="173.5" cy="621.1" r="5.1" fill="rgba(255,165,0,0.28)"/>
<circle cx="113.6" cy="495.8" r="5.1" fill="rgba(128,128,128,0.25)"/>
<circle cx="120.1" cy="611.8" r="5.1" fill="rgba(255,165,0,0.28)"/>
<circle cx="114.7" cy="609.8" r="5.1" fill="rgba(255,165,0,0.28)"/>
<circle cx="55.2" cy="579.1" r="5.1" fill="rgba(128,128,128,0.25)"/>
<circle cx="128.9" cy="611.7" r="5.1" fill="rgba(255,165,0,0.28)"/>
<circle cx="77.6" cy="531.8" r="5.1" fill="rgba(30,144,255,0.27)"/>
<circle cx="224.4" cy="476.5" r="5.1" fill="rgba(30,144,255,0.27)"/>
<circle cx="252.9" cy="479.7" r="5.1" fill="rgba(30,144,255,0.27)"/>
<circle cx="73.2" cy="590.4" r="5.1" fill="rgba(255,165,0,0.28)"/>
<circle cx="173.6" cy="567.2" r="5.1" fill="rgba(128,128,128,0.25)"/>
<circle cx="198.3" cy="499.5" r="5.1" fill="rgba(128,128,128,0.25)"/>
<circle cx="121.0" cy="538.3" r="5.1" fill="rgba(30,144,255,0.27)"/>
<circle cx="185.6" cy="458.0" r="5.1" fill="rgba(30,144,255,0.27)"/>
<circle cx="161.3" cy="493.1" r="5.1" fill="rgba(128,128,128,0.25)"/>
<circle cx="94.1" cy="617.3" r="5.1" fill="rgba(255,165,0,0.28)"/>
<circle cx="124.8" cy="581.0" r="5.1" fill="rgba(255,165,0,0.28)"/>
<circle cx="153.5" cy="535.3" r="5.1" fill="rgba(128,128,128,0.25)"/>
<circle cx="138.8" cy="501.9" r="5.1" fill="rgba(128,128,128,0.25)"/>
<circle cx="62.2" cy="615.4" r="5.1" fill="rgba(255,165,0,0.28)"/>
<circle cx="242.2" cy="473.7" r="5.1" fill="rgba(128,128,128,0.25)"/>
<circle cx="168.6" cy="548.6" r="5.1" fill="rgba(128,128,128,0.25)"/>
<circle cx="65.0" cy="596.5" r="5.1" fill="rgba(255,165,0,0.28)"/>
<circle cx="171.8" cy="511.7" r="5.1" fill="rgba(128,128,128,0.25)"/>
<circle cx="147.3" cy="505.7" r="5.1" fill="rgba(128,128,128,0.25)"/>
<circle cx="137.6" cy="609.1" r="5.1" fill="rgba(255,165,0,0.28)"/>
<circle cx="158.6" cy="522.9" r="5.1" fill="rgba(255,165,0,0.28)"/>
<circle cx="257.7" cy="523.6" r="5.1" fill="rgba(128,128,128,0.25)"/>
<circle cx="73.4" cy="617.9" r="5.1" fill="rgba(255,165,0,0.28)"/>
<circle cx="211.4" cy="516.7" r="5.1" fill="rgba(128,128,128,0.25)"/>
<circle cx="69.4" cy="634.8" r="5.1" fill="rgba(255,165,0,0.28)"/>
<circle cx="64.7" cy="629.1" r="5.1" fill="rgba(255,165,0,0.28)"/>
<circle cx="67.6" cy="618.5" r="5.1" fill="rgba(255,165,0,0.28)"/>
<circle cx="121.4" cy="475.9" r="5.1" fill="rgba(128,128,128,0.25)"/>
<circle cx="89.8" cy="638.3" r="5.1" fill="rgba(255,165,0,0.28)"/>
<circle cx="167.8" cy="451.3" r="5.1" fill="rgba(128,128,128,0.25)"/>
<circle cx="131.3" cy="613.9" r="5.1" fill="rgba(255,165,0,0.28)"/>
<circle cx="102.9" cy="475.4" r="5.1" fill="rgba(30,144,255,0.27)"/>
<circle cx="205.2" cy="494.4" r="5.1" fill="rgba(128,128,128,0.25)"/>
<circle cx="67.2" cy="606.8" r="5.1" fill="rgba(255,165,0,0.28)"/>
<circle cx="167.5" cy="563.6" r="5.1" fill="rgba(255,165,0,0.28)"/>
<circle cx="115.7" cy="573.6" r="5.1" fill="rgba(255,165,0,0.28)"/>
<circle cx="75.7" cy="641.1" r="5.1" fill="rgba(255,165,0,0.28)"/>
<circle cx="127.2" cy="504.6" r="5.1" fill="rgba(128,128,128,0.25)"/>
<circle cx="239.4" cy="475.4" r="5.1" fill="rgba(30,144,255,0.27)"/>
<circle cx="166.3" cy="485.1" r="5.1" fill="rgba(128,128,128,0.25)"/>
<circle cx="115.5" cy="627.3" r="5.1" fill="rgba(255,165,0,0.28)"/>
<circle cx="188.3" cy="610.4" r="5.1" fill="rgba(255,165,0,0.28)"/>
<circle cx="165.9" cy="596.1" r="5.1" fill="rgba(255,165,0,0.28)"/>
<circle cx="140.5" cy="508.2" r="5.1" fill="rgba(30,144,255,0.27)"/>
<circle cx="123.4" cy="465.5" r="5.1" fill="rgba(30,144,255,0.27)"/>
<circle cx="119.0" cy="589.6" r="5.1" fill="rgba(255,165,0,0.28)"/>
<circle cx="246.8" cy="515.0" r="5.1" fill="rgba(128,128,128,0.25)"/>
<circle cx="208.2" cy="486.5" r="5.1" fill="rgba(128,128,128,0.25)"/>
<circle cx="168.7" cy="529.5" r="5.1" fill="rgba(128,128,128,0.25)"/>
<circle cx="166.9" cy="600.4" r="5.1" fill="rgba(255,165,0,0.28)"/>
<circle cx="169.4" cy="609.3" r="5.1" fill="rgba(255,165,0,0.28)"/>
<circle cx="143.7" cy="585.2" r="5.1" fill="rgba(128,128,128,0.25)"/>
<circle cx="179.0" cy="510.2" r="5.1" fill="rgba(128,128,128,0.25)"/>
<circle cx="164.5" cy="618.0" r="5.1" fill="rgba(255,165,0,0.28)"/>
<circle cx="141.8" cy="521.0" r="5.1" fill="rgba(128,128,128,0.25)"/>
<circle cx="122.9" cy="490.3" r="5.1" fill="rgba(30,144,255,0.27)"/>
<circle cx="200.9" cy="499.4" r="5.1" fill="rgba(128,128,128,0.25)"/>
<circle cx="58.6" cy="626.8" r="5.1" fill="rgba(128,128,128,0.25)"/>
<circle cx="153.6" cy="530.7" r="5.1" fill="rgba(128,128,128,0.25)"/>
<circle cx="180.7" cy="522.0" r="5.1" fill="rgba(30,144,255,0.27)"/>
<circle cx="204.5" cy="450.0" r="5.1" fill="rgba(30,144,255,0.27)"/>
<circle cx="142.5" cy="619.6" r="5.1" fill="rgba(255,165,0,0.28)"/>
<circle cx="158.0" cy="551.6" r="5.1" fill="rgba(128,128,128,0.25)"/>
<circle cx="134.8" cy="499.7" r="5.1" fill="rgba(128,128,128,0.25)"/>
<circle cx="154.9" cy="541.2" r="5.1" fill="rgba(128,128,128,0.25)"/>
<circle cx="80.3" cy="609.2" r="5.1" fill="rgba(255,165,0,0.28)"/>
<circle cx="92.1" cy="580.6" r="5.1" fill="rgba(128,128,128,0.25)"/>
<circle cx="111.6" cy="621.1" r="5.1" fill="rgba(255,165,0,0.28)"/>
<circle cx="146.6" cy="530.2" r="5.1" fill="rgba(30,144,255,0.27)"/>
<circle cx="148.8" cy="468.2" r="5.1" fill="rgba(128,128,128,0.25)"/>
<circle cx="167.5" cy="603.3" r="5.1" fill="rgba(255,165,0,0.28)"/>
<circle cx="70.8" cy="622.7" r="5.1" fill="rgba(255,165,0,0.28)"/>
<circle cx="171.3" cy="618.2" r="5.1" fill="rgba(255,165,0,0.28)"/>
<circle cx="131.8" cy="547.9" r="5.1" fill="rgba(128,128,128,0.25)"/>
<circle cx="172.2" cy="507.1" r="5.1" fill="rgba(128,128,128,0.25)"/>
<circle cx="165.5" cy="553.3" r="5.1" fill="rgba(128,128,128,0.25)"/>
<circle cx="183.0" cy="628.8" r="5.1" fill="rgba(255,165,0,0.28)"/>
<circle cx="233.9" cy="512.5" r="5.1" fill="rgba(128,128,128,0.25)"/>
<circle cx="170.0" cy="511.7" r="5.1" fill="rgba(128,128,128,0.25)"/>
<circle cx="172.1" cy="599.0" r="5.1" fill="rgba(255,165,0,0.28)"/>
<circle cx="171.0" cy="504.7" r="5.1" fill="rgba(128,128,128,0.25)"/>
<circle cx="252.7" cy="481.5" r="5.1" fill="rgba(30,144,255,0.27)"/>
<circle cx="136.3" cy="502.2" r="5.1" fill="rgba(128,128,128,0.25)"/>
<circle cx="144.1" cy="542.3" r="5.1" fill="rgba(128,128,128,0.25)"/>
<circle cx="220.5" cy="485.5" r="5.1" fill="rgba(30,144,255,0.27)"/>
<circle cx="165.9" cy="584.2" r="5.1" fill="rgba(128,128,128,0.25)"/>
<circle cx="225.3" cy="513.9" r="5.1" fill="rgba(128,128,128,0.25)"/>
<circle cx="164.9" cy="535.6" r="5.1" fill="rgba(128,128,128,0.25)"/>
<circle cx="148.0" cy="531.2" r="5.1" fill="rgba(128,128,128,0.25)"/>
<circle cx="101.4" cy="637.2" r="5.1" fill="rgba(255,165,0,0.28)"/>
<circle cx="164.8" cy="577.6" r="5.1" fill="rgba(255,165,0,0.28)"/>
<circle cx="149.4" cy="511.5" r="5.1" fill="rgba(30,144,255,0.27)"/>
<circle cx="94.3" cy="634.4" r="5.1" fill="rgba(255,165,0,0.28)"/>
<circle cx="179.5" cy="583.3" r="5.1" fill="rgba(255,165,0,0.28)"/>
<circle cx="159.6" cy="544.7" r="5.1" fill="rgba(128,128,128,0.25)"/>
<circle cx="73.1" cy="621.8" r="5.1" fill="rgba(255,165,0,0.28)"/>
<circle cx="171.3" cy="587.5" r="5.1" fill="rgba(255,165,0,0.28)"/>
<circle cx="138.3" cy="465.4" r="5.1" fill="rgba(128,128,128,0.25)"/>
<circle cx="175.1" cy="594.2" r="5.1" fill="rgba(255,165,0,0.28)"/>
<circle cx="66.7" cy="644.0" r="5.1" fill="rgba(255,165,0,0.28)"/>
<circle cx="180.7" cy="541.5" r="5.1" fill="rgba(128,128,128,0.25)"/>
<circle cx="138.4" cy="512.1" r="5.1" fill="rgba(128,128,128,0.25)"/>
<circle cx="171.8" cy="535.5" r="5.1" fill="rgba(30,144,255,0.27)"/>
<circle cx="57.8" cy="648.0" r="5.1" fill="rgba(30,144,255,0.27)"/>
<circle cx="238.7" cy="539.4" r="5.1" fill="rgba(128,128,128,0.25)"/>
<circle cx="56.6" cy="616.8" r="5.1" fill="rgba(255,165,0,0.28)"/>
<circle cx="145.2" cy="565.1" r="5.1" fill="rgba(128,128,128,0.25)"/>
<circle cx="222.9" cy="481.7" r="5.1" fill="rgba(30,144,255,0.27)"/>
<circle cx="238.3" cy="545.2" r="5.1" fill="rgba(128,128,128,0.25)"/>
<circle cx="157.2" cy="516.3" r="5.1" fill="rgba(30,144,255,0.27)"/>
<circle cx="180.0" cy="613.4" r="5.1" fill="rgba(255,165,0,0.28)"/>
<circle cx="99.9" cy="625.1" r="5.1" fill="rgba(255,165,0,0.28)"/>
<circle cx="137.1" cy="560.9" r="5.1" fill="rgba(255,165,0,0.28)"/>
<circle cx="139.9" cy="568.3" r="5.1" fill="rgba(128,128,128,0.25)"/>
<circle cx="181.1" cy="598.8" r="5.1" fill="rgba(255,165,0,0.28)"/>
<circle cx="77.3" cy="490.2" r="5.1" fill="rgba(30,144,255,0.27)"/>
<circle cx="152.1" cy="544.4" r="5.1" fill="rgba(30,144,255,0.27)"/>
<circle cx="133.2" cy="601.8" r="5.1" fill="rgba(255,165,0,0.28)"/>
<circle cx="117.2" cy="614.7" r="5.1" fill="rgba(255,165,0,0.28)"/>
<circle cx="120.5" cy="590.8" r="5.1" fill="rgba(255,165,0,0.28)"/>
<circle cx="238.0" cy="472.2" r="5.1" fill="rgba(128,128,128,0.25)"/>
<circle cx="73.7" cy="638.7" r="5.1" fill="rgba(255,165,0,0.28)"/>
<circle cx="159.4" cy="616.5" r="5.1" fill="rgba(255,165,0,0.28)"/>
<circle cx="228.9" cy="471.0" r="5.1" fill="rgba(30,144,255,0.27)"/>
<circle cx="176.2" cy="556.2" r="5.1" fill="rgba(128,128,128,0.25)"/>
<circle cx="160.8" cy="599.5" r="5.1" fill="rgba(255,165,0,0.28)"/>
<circle cx="71.1" cy="640.3" r="5.1" fill="rgba(255,165,0,0.28)"/>
<circle cx="147.4" cy="532.3" r="5.1" fill="rgba(30,144,255,0.27)"/>
<circle cx="122.8" cy="487.0" r="5.1" fill="rgba(30,144,255,0.27)"/>
<circle cx="161.9" cy="457.3" r="5.1" fill="rgba(128,128,128,0.25)"/>
<circle cx="234.2" cy="473.2" r="5.1" fill="rgba(30,144,255,0.27)"/>
<circle cx="255.8" cy="509.0" r="5.1" fill="rgba(128,128,128,0.25)"/>
<circle cx="182.8" cy="504.8" r="5.1" fill="rgba(128,128,128,0.25)"/>
<circle cx="79.8" cy="629.6" r="5.1" fill="rgba(255,165,0,0.28)"/>
<circle cx="82.3" cy="606.8" r="5.1" fill="rgba(128,128,128,0.25)"/>
<circle cx="138.0" cy="559.0" r="5.1" fill="rgba(255,165,0,0.28)"/>
<circle cx="159.6" cy="545.4" r="5.1" fill="rgba(255,165,0,0.28)"/>
<circle cx="135.0" cy="493.7" r="5.1" fill="rgba(128,128,128,0.25)"/>
<circle cx="165.1" cy="626.0" r="5.1" fill="rgba(255,165,0,0.28)"/>
<circle cx="113.8" cy="583.6" r="5.1" fill="rgba(255,165,0,0.28)"/>
<circle cx="188.8" cy="558.6" r="5.1" fill="rgba(128,128,128,0.25)"/>
<circle cx="151.2" cy="551.6" r="5.1" fill="rgba(128,128,128,0.25)"/>
<circle cx="185.5" cy="506.2" r="5.1" fill="rgba(128,128,128,0.25)"/>
<circle cx="60.4" cy="619.3" r="5.1" fill="rgba(128,128,128,0.25)"/>
<circle cx="71.5" cy="597.0" r="5.1" fill="rgba(255,165,0,0.28)"/>
<circle cx="207.2" cy="506.2" r="5.1" fill="rgba(128,128,128,0.25)"/>
<circle cx="191.1" cy="512.7" r="5.1" fill="rgba(128,128,128,0.25)"/>
<circle cx="219.4" cy="522.1" r="5.1" fill="rgba(128,128,128,0.25)"/>
<circle cx="153.9" cy="528.5" r="5.1" fill="rgba(30,144,255,0.27)"/>
<circle cx="110.6" cy="535.3" r="5.1" fill="rgba(128,128,128,0.25)"/>
<circle cx="79.5" cy="588.1" r="5.1" fill="rgba(255,165,0,0.28)"/>
<circle cx="129.8" cy="626.0" r="5.1" fill="rgba(255,165,0,0.28)"/>
<circle cx="134.8" cy="536.4" r="5.1" fill="rgba(128,128,128,0.25)"/>
<circle cx="109.9" cy="627.3" r="5.1" fill="rgba(255,165,0,0.28)"/>
<circle cx="229.2" cy="530.0" r="5.1" fill="rgba(128,128,128,0.25)"/>
<circle cx="85.1" cy="582.7" r="5.1" fill="rgba(128,128,128,0.25)"/>
<circle cx="178.2" cy="520.1" r="5.1" fill="rgba(128,128,128,0.25)"/>
<circle cx="115.2" cy="616.0" r="5.1" fill="rgba(255,165,0,0.28)"/>
<circle cx="172.9" cy="595.7" r="5.1" fill="rgba(255,165,0,0.28)"/>
<circle cx="76.7" cy="629.7" r="5.1" fill="rgba(255,165,0,0.28)"/>
<circle cx="130.4" cy="598.9" r="5.1" fill="rgba(255,165,0,0.28)"/>
<circle cx="156.8" cy="591.1" r="5.1" fill="rgba(255,165,0,0.28)"/>
<circle cx="161.7" cy="518.0" r="5.1" fill="rgba(30,144,255,0.27)"/>
<circle cx="131.9" cy="460.8" r="5.1" fill="rgba(128,128,128,0.25)"/>
<circle cx="75.1" cy="545.1" r="5.1" fill="rgba(30,144,255,0.27)"/>
<circle cx="225.4" cy="474.9" r="5.1" fill="rgba(128,128,128,0.25)"/>
<circle cx="92.6" cy="561.7" r="5.1" fill="rgba(128,128,128,0.25)"/>
<circle cx="186.3" cy="612.3" r="5.1" fill="rgba(255,165,0,0.28)"/>
<circle cx="216.4" cy="490.6" r="5.1" fill="rgba(30,144,255,0.27)"/>
<circle cx="145.2" cy="515.5" r="5.1" fill="rgba(128,128,128,0.25)"/>
<circle cx="155.7" cy="520.6" r="5.1" fill="rgba(128,128,128,0.25)"/>
<circle cx="156.6" cy="588.3" r="5.1" fill="rgba(128,128,128,0.25)"/>
<circle cx="154.4" cy="547.5" r="5.1" fill="rgba(128,128,128,0.25)"/>
<circle cx="159.4" cy="508.6" r="5.1" fill="rgba(128,128,128,0.25)"/>
</g>
<line x1="62.6" y1="551.8" x2="258.5" y2="468.8" stroke="#1E90FF" stroke-width="4.2"/>
<line x1="62.6" y1="551.8" x2="258.5" y2="469.6" stroke="#1E90FF" stroke-width="4.2"/>
<line x1="62.6" y1="581.3" x2="261.7" y2="476" stroke="#808080" stroke-width="4.2"/>
<line x1="62.6" y1="618.6" x2="188.5" y2="589.4" stroke="#FFA500" stroke-width="4.2"/>
<line x1="53" y1="441.8" x2="53" y2="658.15" stroke="#1a1a1a" stroke-width="1.1"/>
<line x1="52.45" y1="657.6" x2="269.2" y2="657.6" stroke="#1a1a1a" stroke-width="1.1"/>
<line x1="49" y1="657.6" x2="53" y2="657.6" stroke="#1a1a1a" stroke-width="1.1"/>
<text x="47" y="661.5" font-size="11.8" text-anchor="end" fill="#1a1a1a" stroke="#1a1a1a" stroke-width="0.2" >0.00</text>
<line x1="49" y1="597.6" x2="53" y2="597.6" stroke="#1a1a1a" stroke-width="1.1"/>
<text x="47" y="601.45" font-size="11.8" text-anchor="end" fill="#1a1a1a" stroke="#1a1a1a" stroke-width="0.2" >0.25</text>
<line x1="49" y1="537.5" x2="53" y2="537.5" stroke="#1a1a1a" stroke-width="1.1"/>
<text x="47" y="541.4" font-size="11.8" text-anchor="end" fill="#1a1a1a" stroke="#1a1a1a" stroke-width="0.2" >0.50</text>
<line x1="49" y1="477.5" x2="53" y2="477.5" stroke="#1a1a1a" stroke-width="1.1"/>
<text x="47" y="481.35" font-size="11.8" text-anchor="end" fill="#1a1a1a" stroke="#1a1a1a" stroke-width="0.2" >0.75</text>
<line x1="62.6" y1="657.6" x2="62.6" y2="661.8" stroke="#1a1a1a" stroke-width="1.1"/>
<text x="62.6" y="673.6" font-size="11.8" text-anchor="middle" fill="#1a1a1a" stroke="#1a1a1a" stroke-width="0.2" >0</text>
<line x1="126.2" y1="657.6" x2="126.2" y2="661.8" stroke="#1a1a1a" stroke-width="1.1"/>
<text x="126.2" y="673.6" font-size="11.8" text-anchor="middle" fill="#1a1a1a" stroke="#1a1a1a" stroke-width="0.2" >1000</text>
<line x1="189.8" y1="657.6" x2="189.8" y2="661.8" stroke="#1a1a1a" stroke-width="1.1"/>
<text x="189.8" y="673.6" font-size="11.8" text-anchor="middle" fill="#1a1a1a" stroke="#1a1a1a" stroke-width="0.2" >2000</text>
<line x1="253.4" y1="657.6" x2="253.4" y2="661.8" stroke="#1a1a1a" stroke-width="1.1"/>
<text x="253.4" y="673.6" font-size="11.8" text-anchor="middle" fill="#1a1a1a" stroke="#1a1a1a" stroke-width="0.2" >3000</text>
<text x="162.6" y="688.3" font-size="12.8" text-anchor="middle" fill="#1a1a1a" stroke="#1a1a1a" stroke-width="0.2" >Geographical distance (km)</text>
<text transform="translate(16.3,544) rotate(-90)" font-size="12.5" text-anchor="middle" fill="#1a1a1a" stroke="#1a1a1a" stroke-width="0.2"><tspan font-style="italic">F</tspan><tspan font-size="9" dy="3">ST</tspan></text>
<circle cx="283.6" cy="530.5" r="5.6" fill="rgba(30,144,255,0.2)"/>
<line x1="276.2" y1="530.5" x2="291" y2="530.5" stroke="#1E90FF" stroke-width="4.5"/>
<text x="299.5" y="534.5" font-size="11.8" text-anchor="start" fill="#1a1a1a" stroke="#1a1a1a" stroke-width="0.2" >Diploid</text>
<circle cx="283.6" cy="548.8" r="5.6" fill="rgba(128,128,128,0.2)"/>
<line x1="276.2" y1="548.8" x2="291" y2="548.8" stroke="#808080" stroke-width="4.5"/>
<text x="299.5" y="552.8" font-size="11.8" text-anchor="start" fill="#1a1a1a" stroke="#1a1a1a" stroke-width="0.2" >Between</text>
<circle cx="283.6" cy="567.1" r="5.6" fill="rgba(255,165,0,0.2)"/>
<line x1="276.2" y1="567.1" x2="291" y2="567.1" stroke="#FFA500" stroke-width="4.5"/>
<text x="299.5" y="571.1" font-size="11.8" text-anchor="start" fill="#1a1a1a" stroke="#1a1a1a" stroke-width="0.2" >Tetraploid</text>
<text x="210.4" y="597.3" font-size="12.2" fill="#1E90FF" stroke="#1E90FF" stroke-width="0.2"><tspan font-style="italic">R</tspan><tspan font-size="8.8" x="219.9" dy="-5.2">2</tspan><tspan dy="5.2" x="228.2">=</tspan><tspan x="238.0">0.30</tspan></text>
<text x="210.4" y="619.3" font-size="12.2" fill="#808080" stroke="#808080" stroke-width="0.2"><tspan font-style="italic">R</tspan><tspan font-size="8.8" x="219.9" dy="-5.2">2</tspan><tspan dy="5.2" x="228.2">=</tspan><tspan x="238.0">0.31</tspan></text>
<text x="210.4" y="640.5" font-size="12.2" fill="#FFA500" stroke="#FFA500" stroke-width="0.2"><tspan font-style="italic">R</tspan><tspan font-size="8.8" x="219.9" dy="-5.2">2</tspan><tspan dy="5.2" x="228.2">=</tspan><tspan x="238.0">0.12</tspan></text>
<text x="2.0" y="457.9" font-size="22" text-anchor="start" fill="#1a1a1a" stroke="#1a1a1a" stroke-width="0.2" >E</text>
<circle cx="507.5" cy="562.2" r="127.2" fill="#ffffff"/>
<circle cx="479.6" cy="528.3" r="96.8" fill="rgba(173,216,230,0.95)"/>
<clipPath id="climc"><circle cx="507.5" cy="562.2" r="127.2"/></clipPath>
<circle cx="479.6" cy="528.3" r="96.8" fill="#d6eaf1" clip-path="url(#climc)"/>
<circle cx="544.2" cy="562.4" r="112.7" fill="#d6d6d6"/>
<circle cx="544.2" cy="562.4" r="112.7" fill="#ebebeb" clip-path="url(#climc)"/>
<clipPath id="ploc"><circle cx="479.6" cy="528.3" r="96.8"/></clipPath>
<g clip-path="url(#ploc)"><circle cx="544.2" cy="562.4" r="112.7" fill="#d7e2e8" clip-path="url(#climc)"/></g>
<circle cx="507.5" cy="562.2" r="127.2" fill="none" stroke="#111" stroke-width="1.3"/>
<circle cx="479.6" cy="528.3" r="96.8" fill="none" stroke="#111" stroke-width="1.3"/>
<circle cx="544.2" cy="562.4" r="112.7" fill="none" stroke="#111" stroke-width="1.3"/>
<line x1="406.6" y1="454.7" x2="416.5" y2="462.6" stroke="#111" stroke-width="1.1"/>
<line x1="643.6" y1="537.8" x2="655.2" y2="528.6" stroke="#111" stroke-width="1.1"/>
<text x="403" y="452.2" font-size="12.5" text-anchor="middle" fill="#1a1a1a" stroke="#1a1a1a" stroke-width="0.2" >0.03</text>
<text x="409.2" y="541.5" font-size="12.5" text-anchor="middle" fill="#1a1a1a" stroke="#1a1a1a" stroke-width="0.2" >0.15</text>
<text x="505" y="545.8" font-size="12.5" text-anchor="middle" fill="#1a1a1a" stroke="#1a1a1a" stroke-width="0.2" >0.34</text>
<text x="432" y="642" font-size="12.5" text-anchor="middle" fill="#1a1a1a" stroke="#1a1a1a" stroke-width="0.2" >0.11</text>
<text x="561" y="639.6" font-size="12.5" text-anchor="middle" fill="#1a1a1a" stroke="#1a1a1a" stroke-width="0.2" >0.29</text>
<text x="667" y="524.2" font-size="12.5" text-anchor="middle" fill="#1a1a1a" stroke="#1a1a1a" stroke-width="0.2" >0.07</text>
<text x="431.6" y="430.6" font-size="14.8" text-anchor="middle" fill="#1a1a1a" stroke="#1a1a1a" stroke-width="0.2" >Ploidy</text>
<text x="648.0" y="466.4" font-size="14.8" text-anchor="middle" fill="#1a1a1a" stroke="#1a1a1a" stroke-width="0.2" >Geography</text>
<text x="396.3" y="670.2" font-size="14.8" text-anchor="middle" fill="#1a1a1a" stroke="#1a1a1a" stroke-width="0.2" >Climate</text>
<text x="354.5" y="455.9" font-size="22" text-anchor="start" fill="#1a1a1a" stroke="#1a1a1a" stroke-width="0.2" >F</text>
</svg></body></html>
